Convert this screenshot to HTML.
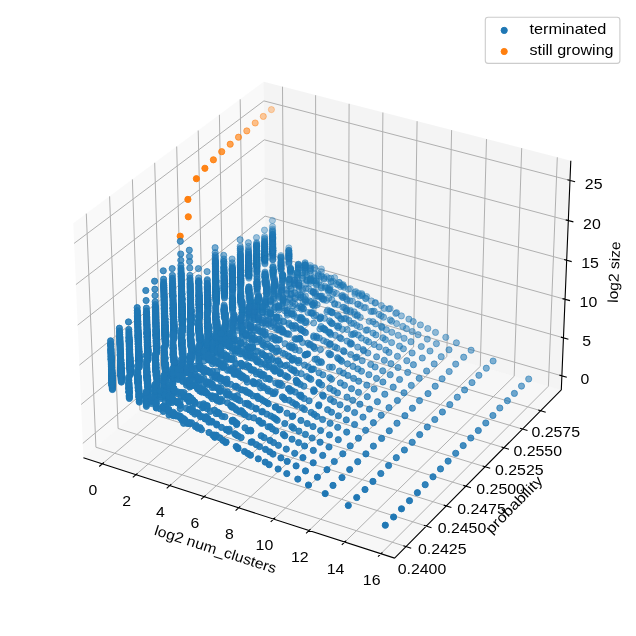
<!DOCTYPE html>
<html><head><meta charset="utf-8"><title>plot</title>
<style>html,body{margin:0;padding:0;background:#fff}svg{display:block}circle{r:3.1px}text{font-family:"Liberation Sans",sans-serif;font-size:14.4px;fill:#000}</style></head>
<body><svg width="636" height="636" viewBox="0 0 636 636">
<rect width="636" height="636" fill="#fff"/>
<polygon points="83.4,457.7 266.1,304.2 263.7,81.8 73.3,223.3" fill="#f4f4f4" fill-opacity=".5"/>
<polygon points="266.1,304.2 561.3,389.9 570.8,160.7 263.7,81.8" fill="#e9e9e9" fill-opacity=".5"/>
<polygon points="83.4,457.7 394.6,558.1 561.3,389.9 266.1,304.2" fill="#efefef" fill-opacity=".5"/>
<path d="M102.4 463.8L284.1 309.4L282.5 86.7M135.9 474.7L316 318.7L315.6 95.2M169.8 485.6L348.2 328L349.1 103.8M204.1 496.7L380.8 337.5L382.9 112.5M238.7 507.8L413.6 347L417.1 121.2M273.7 519.1L446.8 356.7L451.6 130.1M309 530.5L480.3 366.4L486.5 139.1M344.8 542.1L514.2 376.2L521.7 148.1M380.9 553.7L548.4 386.2L557.3 157.3M406 546.6L95.9 447.2L86.3 213.6M426.3 526.1L118.1 428.5L109.6 196.3M446.3 505.9L139.9 410.2L132.4 179.4M465.9 486.2L161.4 392.2L154.7 162.8M485.1 466.8L182.4 374.5L176.7 146.5M504 447.7L203.1 357.1L198.2 130.5M522.5 429.1L223.4 340L219.4 114.8M540.7 410.7L243.4 323.2L240.2 99.3M82.8 443.4L265.9 290.5L561.9 375.9M81.1 404.5L265.5 253.6L563.4 337.8M79.4 365.1L265.1 216.1L565 299.3M77.7 325.1L264.7 178.2L566.6 260.2M75.9 284.6L264.3 139.8L568.3 220.6M74.1 243.4L263.9 100.9L569.9 180.4" fill="none" stroke="#b0b0b0" stroke-width="1"/>
<path d="M83.4 457.7L394.6 558.1M394.6 558.1L561.3 389.9M561.3 389.9L570.8 160.7M103.9 462.5L99.2 466.5M137.5 473.3L132.8 477.4M171.3 484.2L166.7 488.3M205.6 495.3L201 499.4M240.2 506.4L235.6 510.6M275.2 517.7L270.7 521.9M310.5 529.1L306.1 533.4M346.2 540.6L341.8 544.9M382.4 552.3L378 556.6M403.4 545.8L411.2 548.3M423.8 525.2L431.5 527.7M443.7 505.1L451.4 507.5M463.3 485.4L471 487.7M482.6 466L490.2 468.3M501.5 447L509 449.3M520 428.3L527.5 430.5M538.2 410L545.7 412.2M559.4 375.1L566.8 377.3M560.9 337.1L568.4 339.2M562.5 298.6L570 300.6M564.1 259.5L571.7 261.6M565.7 219.9L573.4 221.9M567.4 179.7L575.1 181.7" fill="none" stroke="#000" stroke-width="1.11"/>
<g fill="#ff7f0e" stroke="#ff7f0e" stroke-width="1.0"><g fill-opacity=".32" stroke-opacity=".32"><circle cx="271.4" cy="109.6" r="3.1"/></g><g fill-opacity=".40" stroke-opacity=".40"><circle cx="263.3" cy="116.4" r="3.1"/></g><g fill-opacity=".48" stroke-opacity=".48"><circle cx="255.2" cy="123" r="3.1"/></g><g fill-opacity=".56" stroke-opacity=".56"><circle cx="246.8" cy="130.9" r="3.1"/></g><g fill-opacity=".64" stroke-opacity=".64"><circle cx="238.5" cy="137.2" r="3.1"/></g><g fill-opacity=".72" stroke-opacity=".72"><circle cx="230.2" cy="144.2" r="3.1"/></g><g fill-opacity=".80" stroke-opacity=".80"><circle cx="221.7" cy="151.7" r="3.1"/></g><g fill-opacity=".88" stroke-opacity=".88"><circle cx="213.4" cy="159.8" r="3.1"/></g><g fill-opacity=".96" stroke-opacity=".96"><circle cx="204.9" cy="168.3" r="3.1"/><circle cx="188.3" cy="216.8" r="3.1"/></g><g fill-opacity="1" stroke-opacity="1"><circle cx="180.2" cy="236.2" r="3.1"/><circle cx="196.4" cy="178.7" r="3.1"/><circle cx="187.9" cy="199.4" r="3.1"/></g></g>
<g fill="#1f77b4" stroke="#1f77b4" stroke-width="1.0"><g fill-opacity=".32" stroke-opacity=".32"><circle cx="272.8" cy="259.9" r="3.1"/><circle cx="272.8" cy="259.7" r="3.1"/><circle cx="272.8" cy="259.4" r="3.1"/><circle cx="272.8" cy="258.8" r="3.1"/><circle cx="272.8" cy="257.6" r="3.1"/><circle cx="272.8" cy="256.7" r="3.1"/><circle cx="272.8" cy="255.9" r="3.1"/><circle cx="272.8" cy="255.2" r="3.1"/><circle cx="272.8" cy="255" r="3.1"/><circle cx="272.8" cy="254.7" r="3.1"/><circle cx="272.7" cy="254.5" r="3.1"/><circle cx="272.7" cy="253.5" r="3.1"/><circle cx="272.7" cy="253.2" r="3.1"/><circle cx="272.7" cy="252.7" r="3.1"/><circle cx="272.7" cy="252.6" r="3.1"/><circle cx="272.7" cy="252.4" r="3.1"/><circle cx="272.7" cy="252" r="3.1"/><circle cx="272.7" cy="251.9" r="3.1"/><circle cx="272.7" cy="251.3" r="3.1"/><circle cx="272.7" cy="251.3" r="3.1"/><circle cx="272.7" cy="251.2" r="3.1"/><circle cx="272.7" cy="251" r="3.1"/><circle cx="272.7" cy="250.8" r="3.1"/><circle cx="272.7" cy="250.8" r="3.1"/><circle cx="272.7" cy="250.7" r="3.1"/><circle cx="272.7" cy="250.5" r="3.1"/><circle cx="272.7" cy="250.4" r="3.1"/><circle cx="272.7" cy="250.3" r="3.1"/><circle cx="272.7" cy="250.3" r="3.1"/><circle cx="272.7" cy="250.1" r="3.1"/><circle cx="272.7" cy="250" r="3.1"/><circle cx="272.7" cy="249.9" r="3.1"/><circle cx="272.7" cy="249.6" r="3.1"/><circle cx="272.7" cy="249.1" r="3.1"/><circle cx="272.7" cy="248.9" r="3.1"/><circle cx="272.7" cy="248.7" r="3.1"/><circle cx="272.7" cy="248.6" r="3.1"/><circle cx="272.7" cy="248.5" r="3.1"/><circle cx="272.7" cy="248.4" r="3.1"/><circle cx="272.7" cy="248" r="3.1"/><circle cx="272.7" cy="247.8" r="3.1"/><circle cx="272.7" cy="247.7" r="3.1"/><circle cx="272.7" cy="247.7" r="3.1"/><circle cx="272.7" cy="247.2" r="3.1"/><circle cx="272.7" cy="246.7" r="3.1"/><circle cx="288.9" cy="265.1" r="3.1"/><circle cx="272.7" cy="246.1" r="3.1"/><circle cx="272.7" cy="245.2" r="3.1"/><circle cx="272.7" cy="245" r="3.1"/><circle cx="288.9" cy="263.6" r="3.1"/><circle cx="272.7" cy="244.2" r="3.1"/><circle cx="272.7" cy="244" r="3.1"/><circle cx="272.7" cy="244" r="3.1"/><circle cx="272.6" cy="243.7" r="3.1"/><circle cx="288.9" cy="262.4" r="3.1"/><circle cx="288.9" cy="262.1" r="3.1"/><circle cx="288.9" cy="262" r="3.1"/><circle cx="272.6" cy="243.1" r="3.1"/><circle cx="272.6" cy="242.4" r="3.1"/><circle cx="272.6" cy="242.4" r="3.1"/><circle cx="288.9" cy="260.6" r="3.1"/><circle cx="272.6" cy="241.8" r="3.1"/><circle cx="272.6" cy="241.7" r="3.1"/><circle cx="272.6" cy="241" r="3.1"/><circle cx="272.6" cy="240.2" r="3.1"/><circle cx="288.9" cy="258.9" r="3.1"/><circle cx="288.9" cy="258.6" r="3.1"/><circle cx="288.9" cy="258.5" r="3.1"/><circle cx="288.9" cy="258.4" r="3.1"/><circle cx="298.4" cy="269.3" r="3.1"/><circle cx="272.6" cy="239.4" r="3.1"/><circle cx="288.9" cy="258.1" r="3.1"/><circle cx="272.6" cy="239.2" r="3.1"/><circle cx="272.6" cy="239" r="3.1"/><circle cx="272.6" cy="238.8" r="3.1"/><circle cx="298.4" cy="268.5" r="3.1"/><circle cx="272.6" cy="238.6" r="3.1"/><circle cx="298.4" cy="268.3" r="3.1"/><circle cx="272.6" cy="238.5" r="3.1"/><circle cx="288.9" cy="257.1" r="3.1"/><circle cx="272.6" cy="238.2" r="3.1"/><circle cx="288.9" cy="256.8" r="3.1"/><circle cx="298.4" cy="267.8" r="3.1"/><circle cx="288.9" cy="256.5" r="3.1"/><circle cx="272.6" cy="237.5" r="3.1"/><circle cx="298.4" cy="267.3" r="3.1"/><circle cx="288.9" cy="256.3" r="3.1"/><circle cx="272.6" cy="237.4" r="3.1"/><circle cx="272.6" cy="237.3" r="3.1"/><circle cx="264.9" cy="264" r="3.1"/><circle cx="288.9" cy="256" r="3.1"/><circle cx="272.6" cy="237.1" r="3.1"/><circle cx="272.6" cy="237" r="3.1"/><circle cx="272.6" cy="236.8" r="3.1"/><circle cx="264.9" cy="263.5" r="3.1"/><circle cx="288.9" cy="255.5" r="3.1"/><circle cx="298.4" cy="266.3" r="3.1"/><circle cx="288.9" cy="255" r="3.1"/><circle cx="272.6" cy="236.2" r="3.1"/></g><g fill-opacity=".36" stroke-opacity=".36"><circle cx="264.8" cy="262.7" r="3.1"/><circle cx="288.9" cy="254.7" r="3.1"/><circle cx="298.4" cy="265.5" r="3.1"/><circle cx="288.9" cy="254.3" r="3.1"/><circle cx="305.2" cy="272.7" r="3.1"/><circle cx="288.9" cy="253.9" r="3.1"/><circle cx="288.9" cy="253.8" r="3.1"/><circle cx="272.6" cy="234.9" r="3.1"/><circle cx="272.6" cy="234.8" r="3.1"/><circle cx="264.8" cy="261.6" r="3.1"/><circle cx="298.4" cy="264.5" r="3.1"/><circle cx="272.6" cy="234.6" r="3.1"/><circle cx="298.4" cy="264.4" r="3.1"/><circle cx="298.4" cy="264.3" r="3.1"/><circle cx="288.9" cy="253" r="3.1"/><circle cx="264.8" cy="260.7" r="3.1"/><circle cx="272.6" cy="233.8" r="3.1"/><circle cx="264.8" cy="260.4" r="3.1"/><circle cx="305.2" cy="271.2" r="3.1"/><circle cx="264.8" cy="260.1" r="3.1"/><circle cx="288.9" cy="252.1" r="3.1"/><circle cx="264.8" cy="260" r="3.1"/><circle cx="264.8" cy="259.9" r="3.1"/><circle cx="264.8" cy="259.8" r="3.1"/><circle cx="288.8" cy="251.7" r="3.1"/><circle cx="264.8" cy="259.5" r="3.1"/><circle cx="264.8" cy="259.4" r="3.1"/><circle cx="272.5" cy="232.3" r="3.1"/><circle cx="264.8" cy="259.1" r="3.1"/><circle cx="305.1" cy="269.9" r="3.1"/><circle cx="264.8" cy="259" r="3.1"/><circle cx="288.8" cy="250.7" r="3.1"/><circle cx="264.8" cy="258.7" r="3.1"/><circle cx="264.8" cy="258.5" r="3.1"/><circle cx="288.8" cy="250.5" r="3.1"/><circle cx="264.8" cy="258.4" r="3.1"/><circle cx="264.8" cy="258.1" r="3.1"/><circle cx="272.5" cy="231.3" r="3.1"/><circle cx="288.8" cy="250.2" r="3.1"/><circle cx="264.8" cy="258.1" r="3.1"/><circle cx="264.8" cy="258" r="3.1"/><circle cx="305.1" cy="268.4" r="3.1"/><circle cx="272.5" cy="230.5" r="3.1"/><circle cx="264.8" cy="257.3" r="3.1"/><circle cx="305.1" cy="268.1" r="3.1"/><circle cx="264.8" cy="257.2" r="3.1"/><circle cx="310.4" cy="274" r="3.1"/><circle cx="305.1" cy="267.8" r="3.1"/><circle cx="264.8" cy="256.8" r="3.1"/><circle cx="305.1" cy="267.6" r="3.1"/><circle cx="264.8" cy="256.8" r="3.1"/><circle cx="264.8" cy="256.4" r="3.1"/><circle cx="264.8" cy="256.3" r="3.1"/><circle cx="264.8" cy="255.9" r="3.1"/><circle cx="288.8" cy="247.9" r="3.1"/><circle cx="305.1" cy="266.7" r="3.1"/><circle cx="264.8" cy="255.9" r="3.1"/><circle cx="264.8" cy="255.8" r="3.1"/><circle cx="272.5" cy="229" r="3.1"/><circle cx="264.8" cy="255.6" r="3.1"/><circle cx="264.8" cy="255.5" r="3.1"/><circle cx="264.8" cy="255" r="3.1"/><circle cx="305.1" cy="265.5" r="3.1"/><circle cx="264.8" cy="254.7" r="3.1"/><circle cx="264.8" cy="254.6" r="3.1"/><circle cx="264.8" cy="254.4" r="3.1"/><circle cx="305.1" cy="265.3" r="3.1"/><circle cx="305.1" cy="265.2" r="3.1"/><circle cx="305.1" cy="265.1" r="3.1"/><circle cx="264.8" cy="254.2" r="3.1"/><circle cx="310.4" cy="271" r="3.1"/><circle cx="264.8" cy="254" r="3.1"/><circle cx="305.1" cy="264.9" r="3.1"/><circle cx="264.8" cy="253.9" r="3.1"/><circle cx="305.1" cy="264.7" r="3.1"/><circle cx="272.5" cy="226.6" r="3.1"/><circle cx="264.8" cy="253.4" r="3.1"/><circle cx="264.8" cy="253.4" r="3.1"/><circle cx="310.4" cy="270.2" r="3.1"/><circle cx="264.7" cy="253.3" r="3.1"/><circle cx="264.7" cy="253.2" r="3.1"/><circle cx="264.7" cy="253.1" r="3.1"/><circle cx="264.7" cy="253" r="3.1"/><circle cx="281.1" cy="271.7" r="3.1"/><circle cx="305.1" cy="263.3" r="3.1"/><circle cx="264.7" cy="252.4" r="3.1"/><circle cx="264.7" cy="252.4" r="3.1"/><circle cx="314.7" cy="273.9" r="3.1"/><circle cx="305.1" cy="262.7" r="3.1"/><circle cx="264.7" cy="251.8" r="3.1"/><circle cx="310.4" cy="268.7" r="3.1"/><circle cx="264.7" cy="251.7" r="3.1"/><circle cx="264.7" cy="251.5" r="3.1"/><circle cx="264.7" cy="251.5" r="3.1"/><circle cx="310.4" cy="268.3" r="3.1"/><circle cx="264.7" cy="250.8" r="3.1"/><circle cx="281" cy="269.5" r="3.1"/><circle cx="310.4" cy="267.5" r="3.1"/><circle cx="264.7" cy="250.3" r="3.1"/><circle cx="281" cy="269.2" r="3.1"/><circle cx="281" cy="268.8" r="3.1"/><circle cx="318.3" cy="276" r="3.1"/><circle cx="264.7" cy="249.6" r="3.1"/><circle cx="281" cy="268.4" r="3.1"/><circle cx="264.7" cy="249.4" r="3.1"/><circle cx="281" cy="268.2" r="3.1"/><circle cx="264.7" cy="249.2" r="3.1"/><circle cx="318.3" cy="275.1" r="3.1"/><circle cx="264.7" cy="248.7" r="3.1"/><circle cx="310.4" cy="265.5" r="3.1"/><circle cx="281" cy="267.2" r="3.1"/><circle cx="264.7" cy="248.3" r="3.1"/><circle cx="264.7" cy="248.2" r="3.1"/><circle cx="264.7" cy="248.1" r="3.1"/><circle cx="318.3" cy="273.8" r="3.1"/><circle cx="281" cy="266.4" r="3.1"/><circle cx="264.7" cy="247.3" r="3.1"/><circle cx="272.4" cy="220.5" r="3.1"/><circle cx="281" cy="266.1" r="3.1"/><circle cx="264.7" cy="247" r="3.1"/><circle cx="281" cy="265.7" r="3.1"/><circle cx="264.7" cy="246.8" r="3.1"/><circle cx="321.4" cy="276.5" r="3.1"/><circle cx="281" cy="265.5" r="3.1"/><circle cx="264.7" cy="246.6" r="3.1"/><circle cx="314.7" cy="268.5" r="3.1"/><circle cx="264.7" cy="246.3" r="3.1"/><circle cx="324.2" cy="279.1" r="3.1"/><circle cx="290.6" cy="275.9" r="3.1"/><circle cx="281" cy="264.9" r="3.1"/><circle cx="281" cy="264.8" r="3.1"/><circle cx="321.4" cy="275.6" r="3.1"/><circle cx="314.7" cy="267.7" r="3.1"/><circle cx="264.7" cy="245.7" r="3.1"/><circle cx="324.2" cy="278.6" r="3.1"/><circle cx="281" cy="263.8" r="3.1"/><circle cx="264.7" cy="244.9" r="3.1"/><circle cx="256.9" cy="271.7" r="3.1"/><circle cx="256.9" cy="271.6" r="3.1"/><circle cx="264.7" cy="244.6" r="3.1"/><circle cx="324.2" cy="277.5" r="3.1"/><circle cx="290.6" cy="274.4" r="3.1"/><circle cx="281" cy="263.2" r="3.1"/><circle cx="281" cy="263" r="3.1"/><circle cx="264.7" cy="244.2" r="3.1"/><circle cx="256.9" cy="271" r="3.1"/><circle cx="264.7" cy="244" r="3.1"/><circle cx="256.9" cy="270.3" r="3.1"/><circle cx="281" cy="262.2" r="3.1"/><circle cx="264.6" cy="243.2" r="3.1"/><circle cx="256.9" cy="269.8" r="3.1"/><circle cx="281" cy="261.7" r="3.1"/><circle cx="281" cy="261.6" r="3.1"/><circle cx="290.5" cy="272.6" r="3.1"/><circle cx="264.6" cy="242.6" r="3.1"/><circle cx="256.9" cy="269" r="3.1"/><circle cx="264.6" cy="242" r="3.1"/><circle cx="321.4" cy="271.7" r="3.1"/><circle cx="256.9" cy="268.8" r="3.1"/><circle cx="290.5" cy="271.7" r="3.1"/><circle cx="290.5" cy="271.6" r="3.1"/><circle cx="264.6" cy="241.6" r="3.1"/><circle cx="297.3" cy="279.3" r="3.1"/><circle cx="256.9" cy="268.1" r="3.1"/><circle cx="331" cy="281.8" r="3.1"/><circle cx="326.7" cy="276.7" r="3.1"/><circle cx="290.5" cy="270.7" r="3.1"/><circle cx="281" cy="259.6" r="3.1"/><circle cx="331" cy="281.5" r="3.1"/><circle cx="264.6" cy="240.6" r="3.1"/><circle cx="290.5" cy="270.3" r="3.1"/><circle cx="256.9" cy="267.1" r="3.1"/><circle cx="297.3" cy="277.8" r="3.1"/><circle cx="256.9" cy="266.9" r="3.1"/><circle cx="256.9" cy="266.8" r="3.1"/><circle cx="328.9" cy="278.4" r="3.1"/><circle cx="290.5" cy="269.8" r="3.1"/><circle cx="281" cy="258.5" r="3.1"/><circle cx="256.8" cy="266.5" r="3.1"/><circle cx="256.8" cy="266.2" r="3.1"/><circle cx="321.4" cy="269" r="3.1"/><circle cx="290.5" cy="269.2" r="3.1"/><circle cx="256.8" cy="266.1" r="3.1"/><circle cx="281" cy="258" r="3.1"/><circle cx="264.6" cy="239.1" r="3.1"/><circle cx="256.8" cy="265.9" r="3.1"/><circle cx="290.5" cy="269" r="3.1"/><circle cx="297.3" cy="276.6" r="3.1"/><circle cx="290.5" cy="268.7" r="3.1"/><circle cx="290.5" cy="268.6" r="3.1"/></g><g fill-opacity=".40" stroke-opacity=".40"><circle cx="256.8" cy="265.4" r="3.1"/><circle cx="256.8" cy="265.3" r="3.1"/><circle cx="264.6" cy="238.3" r="3.1"/><circle cx="332.9" cy="281.3" r="3.1"/><circle cx="281" cy="257.2" r="3.1"/><circle cx="290.5" cy="268.1" r="3.1"/><circle cx="256.8" cy="265.1" r="3.1"/><circle cx="280.9" cy="257" r="3.1"/><circle cx="256.8" cy="265" r="3.1"/><circle cx="256.8" cy="264.9" r="3.1"/><circle cx="256.8" cy="264.8" r="3.1"/><circle cx="331" cy="278.1" r="3.1"/><circle cx="256.8" cy="264.1" r="3.1"/><circle cx="297.3" cy="274.8" r="3.1"/><circle cx="256.8" cy="263.9" r="3.1"/><circle cx="336.3" cy="283.9" r="3.1"/><circle cx="256.8" cy="263.8" r="3.1"/><circle cx="256.8" cy="263.6" r="3.1"/><circle cx="280.9" cy="255.6" r="3.1"/><circle cx="264.6" cy="236.6" r="3.1"/><circle cx="256.8" cy="263.5" r="3.1"/><circle cx="297.3" cy="274.4" r="3.1"/><circle cx="256.8" cy="263.2" r="3.1"/><circle cx="337.8" cy="284.9" r="3.1"/><circle cx="256.8" cy="263" r="3.1"/><circle cx="256.8" cy="262.5" r="3.1"/><circle cx="297.3" cy="273.3" r="3.1"/><circle cx="256.8" cy="262.2" r="3.1"/><circle cx="256.8" cy="262" r="3.1"/><circle cx="256.8" cy="261.8" r="3.1"/><circle cx="340.6" cy="286.6" r="3.1"/><circle cx="297.3" cy="272.5" r="3.1"/><circle cx="297.3" cy="272.4" r="3.1"/><circle cx="302.6" cy="278.3" r="3.1"/><circle cx="297.3" cy="272.1" r="3.1"/><circle cx="256.8" cy="261.1" r="3.1"/><circle cx="256.8" cy="261" r="3.1"/><circle cx="302.6" cy="278" r="3.1"/><circle cx="256.8" cy="260.6" r="3.1"/><circle cx="256.8" cy="260.5" r="3.1"/><circle cx="256.8" cy="260.4" r="3.1"/><circle cx="256.8" cy="259.8" r="3.1"/><circle cx="334.6" cy="277.7" r="3.1"/><circle cx="256.8" cy="259.5" r="3.1"/><circle cx="256.8" cy="259.4" r="3.1"/><circle cx="273.1" cy="278.3" r="3.1"/><circle cx="339.2" cy="282.6" r="3.1"/><circle cx="256.8" cy="259.1" r="3.1"/><circle cx="256.8" cy="258.9" r="3.1"/><circle cx="339.2" cy="282.4" r="3.1"/><circle cx="306.9" cy="280.7" r="3.1"/><circle cx="256.8" cy="258.7" r="3.1"/><circle cx="341.9" cy="285.2" r="3.1"/><circle cx="256.8" cy="258.6" r="3.1"/><circle cx="302.5" cy="275.4" r="3.1"/><circle cx="306.9" cy="280.3" r="3.1"/><circle cx="343.1" cy="286.1" r="3.1"/><circle cx="344.2" cy="287.3" r="3.1"/><circle cx="256.7" cy="258.1" r="3.1"/><circle cx="273.1" cy="276.9" r="3.1"/><circle cx="306.9" cy="279.9" r="3.1"/><circle cx="256.7" cy="257.5" r="3.1"/><circle cx="256.7" cy="257.4" r="3.1"/><circle cx="256.7" cy="257.2" r="3.1"/><circle cx="256.7" cy="257.1" r="3.1"/><circle cx="310.5" cy="283.3" r="3.1"/><circle cx="264.5" cy="230.1" r="3.1"/><circle cx="256.7" cy="256.9" r="3.1"/><circle cx="343.1" cy="284.7" r="3.1"/><circle cx="256.7" cy="256.7" r="3.1"/><circle cx="273.1" cy="275.5" r="3.1"/><circle cx="256.7" cy="256.4" r="3.1"/><circle cx="302.5" cy="272.9" r="3.1"/><circle cx="273.1" cy="274.8" r="3.1"/><circle cx="273.1" cy="274.7" r="3.1"/><circle cx="256.7" cy="255.7" r="3.1"/><circle cx="302.5" cy="272.7" r="3.1"/><circle cx="256.7" cy="255.4" r="3.1"/><circle cx="348.4" cy="289.2" r="3.1"/><circle cx="256.7" cy="255" r="3.1"/><circle cx="273.1" cy="274" r="3.1"/><circle cx="310.5" cy="281.2" r="3.1"/><circle cx="306.8" cy="276.9" r="3.1"/><circle cx="256.7" cy="254.9" r="3.1"/><circle cx="256.7" cy="254.8" r="3.1"/><circle cx="310.5" cy="280.8" r="3.1"/><circle cx="256.7" cy="254.4" r="3.1"/><circle cx="256.7" cy="254.3" r="3.1"/><circle cx="273.1" cy="273.2" r="3.1"/><circle cx="273.1" cy="272.9" r="3.1"/><circle cx="310.5" cy="280" r="3.1"/><circle cx="256.7" cy="253.8" r="3.1"/><circle cx="273.1" cy="272.6" r="3.1"/><circle cx="256.7" cy="253.6" r="3.1"/><circle cx="273.1" cy="272.5" r="3.1"/><circle cx="310.5" cy="279.7" r="3.1"/><circle cx="256.7" cy="253.4" r="3.1"/><circle cx="273.1" cy="271.9" r="3.1"/><circle cx="310.5" cy="279" r="3.1"/><circle cx="306.8" cy="274.7" r="3.1"/><circle cx="273.1" cy="271.6" r="3.1"/><circle cx="350.2" cy="288.7" r="3.1"/><circle cx="354.9" cy="294.2" r="3.1"/><circle cx="282.7" cy="282.3" r="3.1"/><circle cx="310.5" cy="278.4" r="3.1"/><circle cx="316.4" cy="285.2" r="3.1"/><circle cx="273.1" cy="271.1" r="3.1"/><circle cx="273.1" cy="271" r="3.1"/><circle cx="256.7" cy="252" r="3.1"/><circle cx="273.1" cy="270.9" r="3.1"/><circle cx="256.7" cy="251.6" r="3.1"/><circle cx="273.1" cy="270.4" r="3.1"/><circle cx="273.1" cy="270.4" r="3.1"/><circle cx="256.7" cy="251.3" r="3.1"/><circle cx="273.1" cy="270.3" r="3.1"/><circle cx="256.7" cy="251.3" r="3.1"/><circle cx="316.4" cy="284.3" r="3.1"/><circle cx="248.9" cy="278.2" r="3.1"/><circle cx="273.1" cy="270.1" r="3.1"/><circle cx="282.7" cy="281" r="3.1"/><circle cx="313.6" cy="280.8" r="3.1"/><circle cx="354.9" cy="292.5" r="3.1"/><circle cx="273.1" cy="269.8" r="3.1"/><circle cx="256.7" cy="250.6" r="3.1"/><circle cx="256.7" cy="250.5" r="3.1"/><circle cx="273.1" cy="269.4" r="3.1"/><circle cx="256.7" cy="250.4" r="3.1"/><circle cx="313.6" cy="280.3" r="3.1"/><circle cx="248.9" cy="277.2" r="3.1"/><circle cx="316.4" cy="283.2" r="3.1"/><circle cx="282.6" cy="280.1" r="3.1"/><circle cx="321.2" cy="288.1" r="3.1"/><circle cx="282.6" cy="279.5" r="3.1"/><circle cx="248.9" cy="276.2" r="3.1"/><circle cx="355.7" cy="291.6" r="3.1"/><circle cx="256.6" cy="249.1" r="3.1"/><circle cx="359.5" cy="295.9" r="3.1"/><circle cx="248.9" cy="275.8" r="3.1"/><circle cx="321.2" cy="287.3" r="3.1"/><circle cx="282.6" cy="278.8" r="3.1"/><circle cx="248.9" cy="275.7" r="3.1"/><circle cx="273" cy="267.6" r="3.1"/><circle cx="248.9" cy="275.6" r="3.1"/><circle cx="256.6" cy="248.5" r="3.1"/><circle cx="273" cy="267.5" r="3.1"/><circle cx="248.8" cy="275.4" r="3.1"/><circle cx="273" cy="267.3" r="3.1"/><circle cx="248.8" cy="275.2" r="3.1"/><circle cx="289.4" cy="286" r="3.1"/><circle cx="248.8" cy="275" r="3.1"/><circle cx="282.6" cy="278" r="3.1"/><circle cx="248.8" cy="274.9" r="3.1"/><circle cx="313.6" cy="277.8" r="3.1"/><circle cx="316.4" cy="280.9" r="3.1"/><circle cx="248.8" cy="274.7" r="3.1"/><circle cx="248.8" cy="274.6" r="3.1"/><circle cx="358.3" cy="293.1" r="3.1"/><circle cx="316.4" cy="280.6" r="3.1"/><circle cx="273" cy="266.1" r="3.1"/><circle cx="256.6" cy="247.1" r="3.1"/><circle cx="248.8" cy="274.1" r="3.1"/><circle cx="248.8" cy="274" r="3.1"/><circle cx="248.8" cy="273.9" r="3.1"/><circle cx="256.6" cy="246.9" r="3.1"/><circle cx="256.6" cy="246.9" r="3.1"/><circle cx="321.2" cy="285.4" r="3.1"/><circle cx="248.8" cy="273.6" r="3.1"/><circle cx="256.6" cy="246.6" r="3.1"/><circle cx="282.6" cy="276.6" r="3.1"/><circle cx="248.8" cy="273.5" r="3.1"/><circle cx="256.6" cy="246.3" r="3.1"/><circle cx="282.6" cy="276.2" r="3.1"/><circle cx="282.6" cy="276" r="3.1"/><circle cx="318.9" cy="281.9" r="3.1"/><circle cx="289.4" cy="283.8" r="3.1"/><circle cx="256.6" cy="245.9" r="3.1"/><circle cx="282.6" cy="275.8" r="3.1"/><circle cx="248.8" cy="272.7" r="3.1"/><circle cx="362.3" cy="295.8" r="3.1"/><circle cx="248.8" cy="272.5" r="3.1"/><circle cx="282.6" cy="275.6" r="3.1"/><circle cx="282.6" cy="275.4" r="3.1"/><circle cx="256.6" cy="245.3" r="3.1"/><circle cx="361.8" cy="294.8" r="3.1"/><circle cx="248.8" cy="272.2" r="3.1"/><circle cx="289.4" cy="283.1" r="3.1"/><circle cx="248.8" cy="272.2" r="3.1"/><circle cx="256.6" cy="245.1" r="3.1"/><circle cx="282.6" cy="275.1" r="3.1"/><circle cx="248.8" cy="271.8" r="3.1"/><circle cx="325.1" cy="288" r="3.1"/><circle cx="256.6" cy="244.7" r="3.1"/><circle cx="282.6" cy="274.7" r="3.1"/><circle cx="328.5" cy="291.7" r="3.1"/><circle cx="365.7" cy="298.7" r="3.1"/><circle cx="248.8" cy="271.6" r="3.1"/><circle cx="282.6" cy="274.5" r="3.1"/><circle cx="248.8" cy="271.3" r="3.1"/><circle cx="248.8" cy="271.2" r="3.1"/><circle cx="361.8" cy="293.7" r="3.1"/><circle cx="365.7" cy="298.2" r="3.1"/><circle cx="289.4" cy="281.9" r="3.1"/><circle cx="248.8" cy="270.9" r="3.1"/><circle cx="248.8" cy="270.7" r="3.1"/><circle cx="256.6" cy="243.6" r="3.1"/><circle cx="248.8" cy="270.5" r="3.1"/><circle cx="328.5" cy="290.5" r="3.1"/><circle cx="248.8" cy="270.4" r="3.1"/><circle cx="248.8" cy="270.3" r="3.1"/><circle cx="325.1" cy="286.3" r="3.1"/><circle cx="248.8" cy="269.8" r="3.1"/><circle cx="256.6" cy="242.7" r="3.1"/><circle cx="328.5" cy="289.7" r="3.1"/><circle cx="326.9" cy="287.5" r="3.1"/><circle cx="248.8" cy="269.2" r="3.1"/><circle cx="248.8" cy="269.1" r="3.1"/><circle cx="289.4" cy="280" r="3.1"/><circle cx="248.8" cy="269" r="3.1"/><circle cx="248.8" cy="269" r="3.1"/><circle cx="289.4" cy="279.9" r="3.1"/><circle cx="332.8" cy="294" r="3.1"/><circle cx="289.4" cy="279.7" r="3.1"/><circle cx="248.8" cy="268.8" r="3.1"/><circle cx="248.8" cy="268.6" r="3.1"/><circle cx="330" cy="290.4" r="3.1"/><circle cx="248.8" cy="268.5" r="3.1"/><circle cx="366.7" cy="296.6" r="3.1"/><circle cx="248.8" cy="268.2" r="3.1"/><circle cx="248.8" cy="268.2" r="3.1"/><circle cx="248.8" cy="268.1" r="3.1"/><circle cx="328.5" cy="288.2" r="3.1"/><circle cx="289.4" cy="279" r="3.1"/><circle cx="248.7" cy="268" r="3.1"/></g><g fill-opacity=".44" stroke-opacity=".44"><circle cx="248.7" cy="268" r="3.1"/><circle cx="289.4" cy="278.9" r="3.1"/><circle cx="294.7" cy="284.8" r="3.1"/><circle cx="330" cy="289.6" r="3.1"/><circle cx="248.7" cy="267.3" r="3.1"/><circle cx="248.7" cy="267.2" r="3.1"/><circle cx="371.4" cy="300.9" r="3.1"/><circle cx="248.7" cy="267.1" r="3.1"/><circle cx="294.7" cy="284.1" r="3.1"/><circle cx="248.7" cy="267" r="3.1"/><circle cx="294.7" cy="283.9" r="3.1"/><circle cx="248.7" cy="266.8" r="3.1"/><circle cx="299" cy="288.7" r="3.1"/><circle cx="248.7" cy="266.5" r="3.1"/><circle cx="248.7" cy="266.3" r="3.1"/><circle cx="248.7" cy="266" r="3.1"/><circle cx="265.2" cy="284.9" r="3.1"/><circle cx="334.1" cy="292.4" r="3.1"/><circle cx="294.7" cy="282.8" r="3.1"/><circle cx="330" cy="287.5" r="3.1"/><circle cx="294.7" cy="282.6" r="3.1"/><circle cx="248.7" cy="265.5" r="3.1"/><circle cx="248.7" cy="265.3" r="3.1"/><circle cx="375.1" cy="303.1" r="3.1"/><circle cx="265.1" cy="283.9" r="3.1"/><circle cx="299" cy="286.8" r="3.1"/><circle cx="248.7" cy="264.7" r="3.1"/><circle cx="256.5" cy="237.6" r="3.1"/><circle cx="248.7" cy="264.4" r="3.1"/><circle cx="248.7" cy="264.3" r="3.1"/><circle cx="375.4" cy="302.6" r="3.1"/><circle cx="336.5" cy="293.4" r="3.1"/><circle cx="248.7" cy="264" r="3.1"/><circle cx="302.6" cy="290.2" r="3.1"/><circle cx="248.7" cy="263.7" r="3.1"/><circle cx="265.1" cy="282.7" r="3.1"/><circle cx="248.7" cy="263.7" r="3.1"/><circle cx="299" cy="285.7" r="3.1"/><circle cx="248.7" cy="263.6" r="3.1"/><circle cx="294.7" cy="280.6" r="3.1"/><circle cx="299" cy="285.5" r="3.1"/><circle cx="265.1" cy="282.4" r="3.1"/><circle cx="248.7" cy="263.3" r="3.1"/><circle cx="248.7" cy="263.3" r="3.1"/><circle cx="294.7" cy="280.2" r="3.1"/><circle cx="248.7" cy="263" r="3.1"/><circle cx="299" cy="285" r="3.1"/><circle cx="248.7" cy="262.9" r="3.1"/><circle cx="294.7" cy="279.9" r="3.1"/><circle cx="265.1" cy="281.7" r="3.1"/><circle cx="248.7" cy="262.7" r="3.1"/><circle cx="265.1" cy="281.6" r="3.1"/><circle cx="302.6" cy="288.8" r="3.1"/><circle cx="248.7" cy="262.4" r="3.1"/><circle cx="299" cy="284.5" r="3.1"/><circle cx="248.7" cy="262.4" r="3.1"/><circle cx="265.1" cy="281.3" r="3.1"/><circle cx="265.1" cy="281" r="3.1"/><circle cx="265.1" cy="280.6" r="3.1"/><circle cx="248.7" cy="261.4" r="3.1"/><circle cx="299" cy="283.3" r="3.1"/><circle cx="342.5" cy="297.4" r="3.1"/><circle cx="299" cy="283.2" r="3.1"/><circle cx="248.7" cy="261" r="3.1"/><circle cx="341.6" cy="296.1" r="3.1"/><circle cx="248.7" cy="260.9" r="3.1"/><circle cx="248.7" cy="260.8" r="3.1"/><circle cx="248.7" cy="260.7" r="3.1"/><circle cx="381.3" cy="305.5" r="3.1"/><circle cx="248.6" cy="260.2" r="3.1"/><circle cx="265.1" cy="279.1" r="3.1"/><circle cx="343.3" cy="297.3" r="3.1"/><circle cx="384.2" cy="308.4" r="3.1"/><circle cx="248.6" cy="259.9" r="3.1"/><circle cx="248.6" cy="259.8" r="3.1"/><circle cx="248.6" cy="259.4" r="3.1"/><circle cx="342.5" cy="295.4" r="3.1"/><circle cx="274.7" cy="289.2" r="3.1"/><circle cx="265.1" cy="278.1" r="3.1"/><circle cx="265.1" cy="277.8" r="3.1"/><circle cx="347.2" cy="300.4" r="3.1"/><circle cx="248.6" cy="258.6" r="3.1"/><circle cx="265.1" cy="277.5" r="3.1"/><circle cx="265.1" cy="277.4" r="3.1"/><circle cx="248.6" cy="258.4" r="3.1"/><circle cx="305.8" cy="288.3" r="3.1"/><circle cx="346.5" cy="299" r="3.1"/><circle cx="265.1" cy="277.1" r="3.1"/><circle cx="248.6" cy="258" r="3.1"/><circle cx="265.1" cy="277" r="3.1"/><circle cx="248.6" cy="258" r="3.1"/><circle cx="240.8" cy="285" r="3.1"/><circle cx="248.6" cy="257.9" r="3.1"/><circle cx="240.8" cy="284.8" r="3.1"/><circle cx="265.1" cy="276.7" r="3.1"/><circle cx="265.1" cy="276.6" r="3.1"/><circle cx="345" cy="296.8" r="3.1"/><circle cx="248.6" cy="257.6" r="3.1"/><circle cx="274.7" cy="287.6" r="3.1"/><circle cx="265.1" cy="276.4" r="3.1"/><circle cx="265.1" cy="276.3" r="3.1"/><circle cx="265.1" cy="276.1" r="3.1"/><circle cx="240.8" cy="284.1" r="3.1"/><circle cx="248.6" cy="256.8" r="3.1"/><circle cx="240.8" cy="283.7" r="3.1"/><circle cx="265.1" cy="275.6" r="3.1"/><circle cx="248.6" cy="256.4" r="3.1"/><circle cx="274.7" cy="286.5" r="3.1"/><circle cx="274.7" cy="286.3" r="3.1"/><circle cx="240.8" cy="283.2" r="3.1"/><circle cx="240.8" cy="282.9" r="3.1"/><circle cx="274.7" cy="286" r="3.1"/><circle cx="265" cy="274.9" r="3.1"/><circle cx="350" cy="300.8" r="3.1"/><circle cx="240.8" cy="282.8" r="3.1"/><circle cx="308.6" cy="288.9" r="3.1"/><circle cx="248.6" cy="255.7" r="3.1"/><circle cx="274.7" cy="285.7" r="3.1"/><circle cx="388.7" cy="308.9" r="3.1"/><circle cx="265" cy="274.3" r="3.1"/><circle cx="248.6" cy="255.3" r="3.1"/><circle cx="265" cy="274.2" r="3.1"/><circle cx="240.8" cy="282.2" r="3.1"/><circle cx="274.7" cy="285.3" r="3.1"/><circle cx="265" cy="274.1" r="3.1"/><circle cx="240.8" cy="282.1" r="3.1"/><circle cx="311.1" cy="291" r="3.1"/><circle cx="265" cy="273.9" r="3.1"/><circle cx="315.4" cy="296" r="3.1"/><circle cx="281.5" cy="292.7" r="3.1"/><circle cx="248.6" cy="254.6" r="3.1"/><circle cx="274.7" cy="284.7" r="3.1"/><circle cx="240.8" cy="281.6" r="3.1"/><circle cx="274.7" cy="284.6" r="3.1"/><circle cx="240.8" cy="281.1" r="3.1"/><circle cx="248.6" cy="254" r="3.1"/><circle cx="305.8" cy="283.9" r="3.1"/><circle cx="313.3" cy="292.6" r="3.1"/><circle cx="265" cy="272.8" r="3.1"/><circle cx="240.7" cy="280.8" r="3.1"/><circle cx="240.7" cy="280.7" r="3.1"/><circle cx="313.3" cy="292.3" r="3.1"/><circle cx="240.7" cy="280.6" r="3.1"/><circle cx="390.1" cy="308.6" r="3.1"/><circle cx="313.3" cy="292.1" r="3.1"/><circle cx="240.7" cy="280.4" r="3.1"/><circle cx="352.4" cy="301.1" r="3.1"/><circle cx="274.7" cy="283.4" r="3.1"/><circle cx="281.5" cy="291.3" r="3.1"/><circle cx="265" cy="272" r="3.1"/><circle cx="317.3" cy="296.2" r="3.1"/><circle cx="240.7" cy="279.9" r="3.1"/><circle cx="240.7" cy="279.8" r="3.1"/><circle cx="313.3" cy="291.3" r="3.1"/><circle cx="315.4" cy="293.6" r="3.1"/><circle cx="281.5" cy="290.5" r="3.1"/><circle cx="274.6" cy="282.5" r="3.1"/><circle cx="240.7" cy="279.3" r="3.1"/><circle cx="281.5" cy="290.1" r="3.1"/><circle cx="248.5" cy="252.1" r="3.1"/><circle cx="248.5" cy="252" r="3.1"/><circle cx="240.7" cy="279" r="3.1"/><circle cx="240.7" cy="279" r="3.1"/><circle cx="395.7" cy="313.4" r="3.1"/><circle cx="281.5" cy="289.8" r="3.1"/><circle cx="240.7" cy="278.8" r="3.1"/><circle cx="274.6" cy="281.8" r="3.1"/><circle cx="274.6" cy="281.7" r="3.1"/><circle cx="240.7" cy="278.5" r="3.1"/><circle cx="274.6" cy="281.6" r="3.1"/><circle cx="319.1" cy="296.5" r="3.1"/><circle cx="240.7" cy="278.1" r="3.1"/><circle cx="315.4" cy="292.1" r="3.1"/><circle cx="248.5" cy="250.7" r="3.1"/><circle cx="357.6" cy="304.3" r="3.1"/><circle cx="274.6" cy="280.6" r="3.1"/><circle cx="240.7" cy="277.4" r="3.1"/><circle cx="396.6" cy="312.7" r="3.1"/><circle cx="281.5" cy="288.1" r="3.1"/><circle cx="322.2" cy="298.9" r="3.1"/><circle cx="274.6" cy="280" r="3.1"/><circle cx="286.8" cy="293.9" r="3.1"/><circle cx="358.1" cy="304" r="3.1"/><circle cx="240.7" cy="276.7" r="3.1"/><circle cx="240.7" cy="276.5" r="3.1"/><circle cx="323.7" cy="299.9" r="3.1"/><circle cx="240.7" cy="276.3" r="3.1"/><circle cx="322.2" cy="298.2" r="3.1"/><circle cx="240.7" cy="276.2" r="3.1"/><circle cx="320.7" cy="296.4" r="3.1"/><circle cx="240.7" cy="276.2" r="3.1"/><circle cx="248.5" cy="249.1" r="3.1"/><circle cx="286.8" cy="293.2" r="3.1"/><circle cx="240.7" cy="276.1" r="3.1"/><circle cx="281.5" cy="286.9" r="3.1"/><circle cx="320.7" cy="296.1" r="3.1"/><circle cx="240.7" cy="275.9" r="3.1"/><circle cx="281.5" cy="286.8" r="3.1"/><circle cx="360.3" cy="305.6" r="3.1"/><circle cx="240.7" cy="275.7" r="3.1"/><circle cx="240.7" cy="275.5" r="3.1"/><circle cx="274.6" cy="278.6" r="3.1"/><circle cx="240.7" cy="275.5" r="3.1"/><circle cx="240.7" cy="275.4" r="3.1"/><circle cx="323.7" cy="299" r="3.1"/><circle cx="240.7" cy="275.2" r="3.1"/><circle cx="401.4" cy="315.9" r="3.1"/><circle cx="240.7" cy="274.7" r="3.1"/><circle cx="240.7" cy="274.6" r="3.1"/><circle cx="240.7" cy="274.5" r="3.1"/><circle cx="281.4" cy="285.1" r="3.1"/><circle cx="322.2" cy="296.1" r="3.1"/><circle cx="240.6" cy="274.1" r="3.1"/><circle cx="240.6" cy="274" r="3.1"/><circle cx="240.6" cy="273.8" r="3.1"/><circle cx="326.3" cy="300.4" r="3.1"/><circle cx="257.1" cy="292.7" r="3.1"/><circle cx="364.1" cy="307.7" r="3.1"/><circle cx="248.5" cy="246.4" r="3.1"/><circle cx="286.7" cy="290.4" r="3.1"/><circle cx="240.6" cy="273" r="3.1"/><circle cx="240.6" cy="272.9" r="3.1"/><circle cx="240.6" cy="272.8" r="3.1"/><circle cx="240.6" cy="272.7" r="3.1"/><circle cx="240.6" cy="272.6" r="3.1"/><circle cx="291.1" cy="294.7" r="3.1"/><circle cx="281.4" cy="283.6" r="3.1"/><circle cx="257.1" cy="291.6" r="3.1"/><circle cx="240.6" cy="272.4" r="3.1"/><circle cx="240.6" cy="272.3" r="3.1"/><circle cx="286.7" cy="289.3" r="3.1"/><circle cx="240.6" cy="272.2" r="3.1"/><circle cx="240.6" cy="272" r="3.1"/><circle cx="365.5" cy="307.6" r="3.1"/><circle cx="240.6" cy="271.8" r="3.1"/><circle cx="291.1" cy="293.9" r="3.1"/><circle cx="294.7" cy="297.9" r="3.1"/><circle cx="291.1" cy="293.7" r="3.1"/><circle cx="240.6" cy="271.3" r="3.1"/><circle cx="240.6" cy="271.1" r="3.1"/><circle cx="240.6" cy="270.9" r="3.1"/><circle cx="257.1" cy="290" r="3.1"/><circle cx="240.6" cy="270.6" r="3.1"/></g><g fill-opacity=".48" stroke-opacity=".48"><circle cx="240.6" cy="270" r="3.1"/><circle cx="240.6" cy="269.9" r="3.1"/><circle cx="257.1" cy="288.9" r="3.1"/><circle cx="248.4" cy="242.7" r="3.1"/><circle cx="240.6" cy="269.8" r="3.1"/><circle cx="240.6" cy="269.5" r="3.1"/><circle cx="257.1" cy="288.5" r="3.1"/><circle cx="408.9" cy="319.1" r="3.1"/><circle cx="370.9" cy="311.4" r="3.1"/><circle cx="257.1" cy="288.3" r="3.1"/><circle cx="240.6" cy="269.1" r="3.1"/><circle cx="328.7" cy="298.2" r="3.1"/><circle cx="240.6" cy="268.3" r="3.1"/><circle cx="240.6" cy="268.1" r="3.1"/><circle cx="240.6" cy="268.1" r="3.1"/><circle cx="334.7" cy="304.2" r="3.1"/><circle cx="240.6" cy="267.7" r="3.1"/><circle cx="257.1" cy="286.7" r="3.1"/><circle cx="257.1" cy="286.6" r="3.1"/><circle cx="372.5" cy="311.3" r="3.1"/><circle cx="240.5" cy="267.4" r="3.1"/><circle cx="257.1" cy="286.4" r="3.1"/><circle cx="240.5" cy="267.3" r="3.1"/><circle cx="334.7" cy="303.5" r="3.1"/><circle cx="257.1" cy="286.1" r="3.1"/><circle cx="257" cy="286" r="3.1"/><circle cx="240.5" cy="266.9" r="3.1"/><circle cx="294.7" cy="293.2" r="3.1"/><circle cx="413.2" cy="321.5" r="3.1"/><circle cx="291" cy="288.9" r="3.1"/><circle cx="331.9" cy="299.9" r="3.1"/><circle cx="291" cy="288.6" r="3.1"/><circle cx="240.5" cy="266.5" r="3.1"/><circle cx="240.5" cy="266.3" r="3.1"/><circle cx="240.5" cy="266.2" r="3.1"/><circle cx="294.7" cy="292.6" r="3.1"/><circle cx="266.7" cy="295.9" r="3.1"/><circle cx="303.2" cy="301.8" r="3.1"/><circle cx="240.5" cy="265.5" r="3.1"/><circle cx="240.5" cy="265.5" r="3.1"/><circle cx="374.2" cy="311.2" r="3.1"/><circle cx="240.5" cy="265.3" r="3.1"/><circle cx="257" cy="284.4" r="3.1"/><circle cx="257" cy="284.2" r="3.1"/><circle cx="297.9" cy="295" r="3.1"/><circle cx="240.5" cy="264.9" r="3.1"/><circle cx="257" cy="283.9" r="3.1"/><circle cx="257" cy="283.8" r="3.1"/><circle cx="240.5" cy="264.6" r="3.1"/><circle cx="338" cy="304.8" r="3.1"/><circle cx="257" cy="283.6" r="3.1"/><circle cx="300.7" cy="297.7" r="3.1"/><circle cx="240.5" cy="264.1" r="3.1"/><circle cx="266.7" cy="294.2" r="3.1"/><circle cx="300.7" cy="297" r="3.1"/><circle cx="257" cy="282.7" r="3.1"/><circle cx="266.7" cy="293.8" r="3.1"/><circle cx="232.7" cy="290.6" r="3.1"/><circle cx="266.7" cy="293.7" r="3.1"/><circle cx="257" cy="282.4" r="3.1"/><circle cx="305.5" cy="302.1" r="3.1"/><circle cx="378.9" cy="314.4" r="3.1"/><circle cx="266.7" cy="293.3" r="3.1"/><circle cx="240.5" cy="263.1" r="3.1"/><circle cx="257" cy="281.9" r="3.1"/><circle cx="240.5" cy="262.8" r="3.1"/><circle cx="257" cy="281.8" r="3.1"/><circle cx="232.6" cy="289.8" r="3.1"/><circle cx="232.6" cy="289.6" r="3.1"/><circle cx="257" cy="281.6" r="3.1"/><circle cx="232.6" cy="289.4" r="3.1"/><circle cx="300.7" cy="295.5" r="3.1"/><circle cx="240.5" cy="262.1" r="3.1"/><circle cx="420.4" cy="324.9" r="3.1"/><circle cx="381.2" cy="315.8" r="3.1"/><circle cx="232.6" cy="288.9" r="3.1"/><circle cx="240.5" cy="261.7" r="3.1"/><circle cx="305.5" cy="300.5" r="3.1"/><circle cx="266.6" cy="291.8" r="3.1"/><circle cx="342.8" cy="307.3" r="3.1"/><circle cx="300.7" cy="294.8" r="3.1"/><circle cx="232.6" cy="288.6" r="3.1"/><circle cx="273.5" cy="299.4" r="3.1"/><circle cx="240.5" cy="261.2" r="3.1"/><circle cx="346.3" cy="311.1" r="3.1"/><circle cx="232.6" cy="288.1" r="3.1"/><circle cx="307.5" cy="302.2" r="3.1"/><circle cx="303.2" cy="296.9" r="3.1"/><circle cx="305.5" cy="299.5" r="3.1"/><circle cx="232.6" cy="287.7" r="3.1"/><circle cx="383.6" cy="317.2" r="3.1"/><circle cx="266.6" cy="290.8" r="3.1"/><circle cx="240.4" cy="260.5" r="3.1"/><circle cx="232.6" cy="287.6" r="3.1"/><circle cx="257" cy="279.5" r="3.1"/><circle cx="232.6" cy="287.5" r="3.1"/><circle cx="232.6" cy="287.4" r="3.1"/><circle cx="344.1" cy="307.3" r="3.1"/><circle cx="266.6" cy="290.1" r="3.1"/><circle cx="232.6" cy="287" r="3.1"/><circle cx="240.4" cy="259.8" r="3.1"/><circle cx="346.9" cy="310.2" r="3.1"/><circle cx="266.6" cy="289.9" r="3.1"/><circle cx="266.6" cy="289.8" r="3.1"/><circle cx="273.5" cy="297.6" r="3.1"/><circle cx="257" cy="278.5" r="3.1"/><circle cx="345.8" cy="308.6" r="3.1"/><circle cx="240.4" cy="259.3" r="3.1"/><circle cx="232.6" cy="286.4" r="3.1"/><circle cx="232.6" cy="286.3" r="3.1"/><circle cx="240.4" cy="258.8" r="3.1"/><circle cx="266.6" cy="288.7" r="3.1"/><circle cx="232.6" cy="285.5" r="3.1"/><circle cx="232.6" cy="285.4" r="3.1"/><circle cx="273.5" cy="296.3" r="3.1"/><circle cx="232.6" cy="285.3" r="3.1"/><circle cx="232.6" cy="285.2" r="3.1"/><circle cx="240.4" cy="258" r="3.1"/><circle cx="312.8" cy="305.2" r="3.1"/><circle cx="232.6" cy="284.9" r="3.1"/><circle cx="266.6" cy="288" r="3.1"/><circle cx="232.6" cy="284.8" r="3.1"/><circle cx="232.6" cy="284.7" r="3.1"/><circle cx="266.6" cy="287.8" r="3.1"/><circle cx="232.6" cy="284.7" r="3.1"/><circle cx="312.8" cy="304.9" r="3.1"/><circle cx="309.4" cy="300.9" r="3.1"/><circle cx="266.6" cy="287.7" r="3.1"/><circle cx="232.6" cy="284.6" r="3.1"/><circle cx="256.9" cy="276.4" r="3.1"/><circle cx="350.3" cy="311.7" r="3.1"/><circle cx="232.6" cy="284.4" r="3.1"/><circle cx="240.4" cy="257.1" r="3.1"/><circle cx="232.6" cy="284.3" r="3.1"/><circle cx="305.4" cy="296" r="3.1"/><circle cx="427.8" cy="328.5" r="3.1"/><circle cx="266.6" cy="287" r="3.1"/><circle cx="314.4" cy="306" r="3.1"/><circle cx="232.5" cy="283.8" r="3.1"/><circle cx="312.8" cy="304" r="3.1"/><circle cx="232.5" cy="283.7" r="3.1"/><circle cx="232.5" cy="283.5" r="3.1"/><circle cx="256.9" cy="275.4" r="3.1"/><circle cx="240.4" cy="256.3" r="3.1"/><circle cx="232.5" cy="283.4" r="3.1"/><circle cx="232.5" cy="283.3" r="3.1"/><circle cx="311.2" cy="301.6" r="3.1"/><circle cx="232.5" cy="283.3" r="3.1"/><circle cx="273.5" cy="294.1" r="3.1"/><circle cx="350.3" cy="310.3" r="3.1"/><circle cx="232.5" cy="282.9" r="3.1"/><circle cx="390.2" cy="319.9" r="3.1"/><circle cx="240.4" cy="255.4" r="3.1"/><circle cx="232.5" cy="282.6" r="3.1"/><circle cx="391.6" cy="321.2" r="3.1"/><circle cx="273.4" cy="293.3" r="3.1"/><circle cx="232.5" cy="282.2" r="3.1"/><circle cx="266.6" cy="285.3" r="3.1"/><circle cx="256.9" cy="274" r="3.1"/><circle cx="354.9" cy="314.6" r="3.1"/><circle cx="232.5" cy="282" r="3.1"/><circle cx="232.5" cy="281.8" r="3.1"/><circle cx="240.4" cy="254.6" r="3.1"/><circle cx="249.1" cy="300.7" r="3.1"/><circle cx="232.5" cy="281.5" r="3.1"/><circle cx="314.4" cy="303.3" r="3.1"/><circle cx="232.5" cy="281.3" r="3.1"/><circle cx="240.4" cy="254.1" r="3.1"/><circle cx="232.5" cy="281.2" r="3.1"/><circle cx="266.6" cy="284.2" r="3.1"/><circle cx="232.5" cy="281.1" r="3.1"/><circle cx="232.5" cy="281.1" r="3.1"/><circle cx="232.5" cy="280.9" r="3.1"/><circle cx="283.1" cy="303.1" r="3.1"/><circle cx="232.5" cy="280.8" r="3.1"/><circle cx="273.4" cy="291.8" r="3.1"/><circle cx="314.4" cy="302.8" r="3.1"/><circle cx="357.1" cy="315.9" r="3.1"/><circle cx="232.5" cy="280.7" r="3.1"/><circle cx="232.5" cy="280.4" r="3.1"/><circle cx="266.6" cy="283.4" r="3.1"/><circle cx="278.8" cy="297.5" r="3.1"/><circle cx="232.5" cy="280.2" r="3.1"/><circle cx="354.2" cy="311.9" r="3.1"/><circle cx="232.5" cy="280.1" r="3.1"/><circle cx="232.5" cy="280.1" r="3.1"/><circle cx="232.5" cy="280" r="3.1"/><circle cx="256.9" cy="271.9" r="3.1"/><circle cx="232.5" cy="279.8" r="3.1"/><circle cx="232.5" cy="279.7" r="3.1"/><circle cx="232.5" cy="279.7" r="3.1"/><circle cx="283.1" cy="301.9" r="3.1"/><circle cx="232.5" cy="279.6" r="3.1"/><circle cx="240.3" cy="252.4" r="3.1"/><circle cx="273.4" cy="290.4" r="3.1"/><circle cx="317.2" cy="304.7" r="3.1"/><circle cx="273.4" cy="290.3" r="3.1"/><circle cx="357.5" cy="314.8" r="3.1"/><circle cx="249" cy="298.4" r="3.1"/><circle cx="435.5" cy="332.4" r="3.1"/><circle cx="278.7" cy="296.4" r="3.1"/><circle cx="266.5" cy="282.2" r="3.1"/><circle cx="396.6" cy="323.6" r="3.1"/><circle cx="283.1" cy="301.2" r="3.1"/><circle cx="232.5" cy="279" r="3.1"/><circle cx="232.5" cy="278.7" r="3.1"/><circle cx="232.5" cy="278.6" r="3.1"/><circle cx="360.3" cy="317.4" r="3.1"/><circle cx="283.1" cy="300.6" r="3.1"/><circle cx="232.5" cy="278.3" r="3.1"/><circle cx="278.7" cy="295.5" r="3.1"/><circle cx="240.3" cy="250.7" r="3.1"/><circle cx="283.1" cy="300" r="3.1"/><circle cx="273.4" cy="288.7" r="3.1"/><circle cx="232.4" cy="277.7" r="3.1"/><circle cx="283.1" cy="299.8" r="3.1"/><circle cx="266.5" cy="280.7" r="3.1"/><circle cx="249" cy="296.7" r="3.1"/><circle cx="283.1" cy="299.4" r="3.1"/><circle cx="278.7" cy="294.4" r="3.1"/><circle cx="283.1" cy="299.3" r="3.1"/><circle cx="273.4" cy="287.9" r="3.1"/><circle cx="232.4" cy="276.8" r="3.1"/><circle cx="232.4" cy="276.7" r="3.1"/><circle cx="249" cy="295.8" r="3.1"/><circle cx="278.7" cy="293.5" r="3.1"/><circle cx="240.3" cy="249.1" r="3.1"/><circle cx="283.1" cy="298.2" r="3.1"/><circle cx="232.4" cy="275.7" r="3.1"/><circle cx="240.3" cy="248.4" r="3.1"/><circle cx="286.8" cy="302.1" r="3.1"/><circle cx="232.4" cy="275.5" r="3.1"/><circle cx="326.9" cy="311.8" r="3.1"/><circle cx="283.1" cy="297.3" r="3.1"/><circle cx="402.8" cy="326.4" r="3.1"/><circle cx="232.4" cy="274.7" r="3.1"/><circle cx="232.4" cy="274.7" r="3.1"/><circle cx="273.4" cy="285.7" r="3.1"/><circle cx="232.4" cy="274.4" r="3.1"/><circle cx="249" cy="293.5" r="3.1"/><circle cx="249" cy="293.4" r="3.1"/><circle cx="289.9" cy="304.3" r="3.1"/><circle cx="232.4" cy="274.1" r="3.1"/><circle cx="232.4" cy="274" r="3.1"/><circle cx="232.4" cy="273.8" r="3.1"/><circle cx="232.4" cy="273.7" r="3.1"/><circle cx="248.9" cy="292.8" r="3.1"/><circle cx="240.2" cy="246.4" r="3.1"/><circle cx="232.4" cy="273.5" r="3.1"/><circle cx="248.9" cy="292.6" r="3.1"/><circle cx="232.4" cy="273.3" r="3.1"/><circle cx="406.4" cy="328.6" r="3.1"/><circle cx="232.4" cy="272.7" r="3.1"/><circle cx="292.7" cy="306.1" r="3.1"/><circle cx="327.7" cy="310.1" r="3.1"/><circle cx="445.8" cy="337.3" r="3.1"/><circle cx="258.6" cy="302.7" r="3.1"/><circle cx="248.9" cy="291.4" r="3.1"/><circle cx="369.2" cy="321.3" r="3.1"/><circle cx="232.4" cy="272" r="3.1"/><circle cx="248.9" cy="291.1" r="3.1"/></g><g fill-opacity=".52" stroke-opacity=".52"><circle cx="248.9" cy="290.8" r="3.1"/><circle cx="248.9" cy="290.7" r="3.1"/><circle cx="248.9" cy="290.6" r="3.1"/><circle cx="232.3" cy="271.5" r="3.1"/><circle cx="248.9" cy="290.5" r="3.1"/><circle cx="248.9" cy="290.5" r="3.1"/><circle cx="232.3" cy="271.2" r="3.1"/><circle cx="330.2" cy="311.2" r="3.1"/><circle cx="258.6" cy="301.1" r="3.1"/><circle cx="224.5" cy="298" r="3.1"/><circle cx="248.9" cy="289.8" r="3.1"/><circle cx="248.9" cy="289.7" r="3.1"/><circle cx="232.3" cy="270.5" r="3.1"/><circle cx="232.3" cy="270.5" r="3.1"/><circle cx="331.7" cy="312.4" r="3.1"/><circle cx="248.9" cy="289.2" r="3.1"/><circle cx="224.5" cy="297.3" r="3.1"/><circle cx="332.4" cy="312.9" r="3.1"/><circle cx="248.9" cy="289.2" r="3.1"/><circle cx="331.7" cy="312" r="3.1"/><circle cx="232.3" cy="269.8" r="3.1"/><circle cx="258.6" cy="300.1" r="3.1"/><circle cx="248.9" cy="288.8" r="3.1"/><circle cx="232.3" cy="269.7" r="3.1"/><circle cx="248.9" cy="288.8" r="3.1"/><circle cx="232.3" cy="269.6" r="3.1"/><circle cx="289.9" cy="299.7" r="3.1"/><circle cx="412.2" cy="331.5" r="3.1"/><circle cx="224.4" cy="296.2" r="3.1"/><circle cx="232.3" cy="269" r="3.1"/><circle cx="292.7" cy="302.4" r="3.1"/><circle cx="232.3" cy="268.9" r="3.1"/><circle cx="258.6" cy="299.2" r="3.1"/><circle cx="297.5" cy="307.8" r="3.1"/><circle cx="224.4" cy="295.6" r="3.1"/><circle cx="372.9" cy="321.7" r="3.1"/><circle cx="232.3" cy="268.3" r="3.1"/><circle cx="248.9" cy="287.4" r="3.1"/><circle cx="232.3" cy="268.1" r="3.1"/><circle cx="248.9" cy="287.2" r="3.1"/><circle cx="295.2" cy="304.3" r="3.1"/><circle cx="289.9" cy="298.1" r="3.1"/><circle cx="265.4" cy="306.2" r="3.1"/><circle cx="258.6" cy="298.2" r="3.1"/><circle cx="248.9" cy="286.8" r="3.1"/><circle cx="224.4" cy="294.8" r="3.1"/><circle cx="375.6" cy="323.9" r="3.1"/><circle cx="258.6" cy="297.8" r="3.1"/><circle cx="224.4" cy="294.4" r="3.1"/><circle cx="258.6" cy="297.5" r="3.1"/><circle cx="240.1" cy="239.7" r="3.1"/><circle cx="232.3" cy="266.9" r="3.1"/><circle cx="224.4" cy="294" r="3.1"/><circle cx="265.4" cy="305" r="3.1"/><circle cx="265.4" cy="304.8" r="3.1"/><circle cx="337.4" cy="315.2" r="3.1"/><circle cx="224.4" cy="293.6" r="3.1"/><circle cx="258.5" cy="296.7" r="3.1"/><circle cx="224.4" cy="293.5" r="3.1"/><circle cx="258.5" cy="296.5" r="3.1"/><circle cx="340.6" cy="318.5" r="3.1"/><circle cx="224.4" cy="293.3" r="3.1"/><circle cx="338.5" cy="316" r="3.1"/><circle cx="224.4" cy="293.2" r="3.1"/><circle cx="456.4" cy="342.8" r="3.1"/><circle cx="341.6" cy="319.3" r="3.1"/><circle cx="301.5" cy="309.2" r="3.1"/><circle cx="418.1" cy="334.7" r="3.1"/><circle cx="232.2" cy="265.5" r="3.1"/><circle cx="258.5" cy="295.7" r="3.1"/><circle cx="224.4" cy="292.6" r="3.1"/><circle cx="224.4" cy="292.5" r="3.1"/><circle cx="224.4" cy="292.4" r="3.1"/><circle cx="265.4" cy="303.3" r="3.1"/><circle cx="224.4" cy="292.2" r="3.1"/><circle cx="299.6" cy="306.2" r="3.1"/><circle cx="224.4" cy="292" r="3.1"/><circle cx="265.4" cy="302.9" r="3.1"/><circle cx="224.4" cy="291.8" r="3.1"/><circle cx="224.4" cy="291.7" r="3.1"/><circle cx="224.4" cy="291.5" r="3.1"/><circle cx="265.4" cy="302.4" r="3.1"/><circle cx="224.4" cy="291.2" r="3.1"/><circle cx="301.5" cy="307.4" r="3.1"/><circle cx="224.3" cy="291.1" r="3.1"/><circle cx="381.9" cy="327.5" r="3.1"/><circle cx="265.4" cy="301.9" r="3.1"/><circle cx="224.3" cy="290.9" r="3.1"/><circle cx="224.3" cy="290.8" r="3.1"/><circle cx="301.5" cy="307" r="3.1"/><circle cx="265.4" cy="301.6" r="3.1"/><circle cx="224.3" cy="290.5" r="3.1"/><circle cx="381.5" cy="326.4" r="3.1"/><circle cx="303.3" cy="308.7" r="3.1"/><circle cx="224.3" cy="290.1" r="3.1"/><circle cx="232.2" cy="262.8" r="3.1"/><circle cx="303.3" cy="308.4" r="3.1"/><circle cx="224.3" cy="289.9" r="3.1"/><circle cx="265.4" cy="300.7" r="3.1"/><circle cx="224.3" cy="289.6" r="3.1"/><circle cx="295.2" cy="298.8" r="3.1"/><circle cx="224.3" cy="289.6" r="3.1"/><circle cx="224.3" cy="289.5" r="3.1"/><circle cx="224.3" cy="289.2" r="3.1"/><circle cx="344.3" cy="318.6" r="3.1"/><circle cx="224.3" cy="289.1" r="3.1"/><circle cx="224.3" cy="288.9" r="3.1"/><circle cx="265.4" cy="299.9" r="3.1"/><circle cx="224.3" cy="288.8" r="3.1"/><circle cx="224.3" cy="288.7" r="3.1"/><circle cx="307.9" cy="312.5" r="3.1"/><circle cx="224.3" cy="288.6" r="3.1"/><circle cx="224.3" cy="288.5" r="3.1"/><circle cx="224.3" cy="288.4" r="3.1"/><circle cx="224.3" cy="288.3" r="3.1"/><circle cx="386.3" cy="329.7" r="3.1"/><circle cx="224.3" cy="288.1" r="3.1"/><circle cx="224.3" cy="288" r="3.1"/><circle cx="265.4" cy="299" r="3.1"/><circle cx="224.3" cy="287.7" r="3.1"/><circle cx="224.3" cy="287.6" r="3.1"/><circle cx="224.3" cy="287.5" r="3.1"/><circle cx="224.3" cy="287.5" r="3.1"/><circle cx="224.3" cy="287.4" r="3.1"/><circle cx="270.7" cy="304.6" r="3.1"/><circle cx="224.3" cy="287.2" r="3.1"/><circle cx="224.3" cy="287.2" r="3.1"/><circle cx="346" cy="318.6" r="3.1"/><circle cx="224.3" cy="286.9" r="3.1"/><circle cx="224.3" cy="286.8" r="3.1"/><circle cx="224.3" cy="286.6" r="3.1"/><circle cx="427.3" cy="339.1" r="3.1"/><circle cx="224.3" cy="286.5" r="3.1"/><circle cx="224.3" cy="286.4" r="3.1"/><circle cx="224.3" cy="286.3" r="3.1"/><circle cx="232.1" cy="259" r="3.1"/><circle cx="224.3" cy="286.1" r="3.1"/><circle cx="224.3" cy="286" r="3.1"/><circle cx="240.9" cy="305.1" r="3.1"/><circle cx="310.6" cy="312.7" r="3.1"/><circle cx="224.3" cy="285.7" r="3.1"/><circle cx="351.3" cy="323.3" r="3.1"/><circle cx="224.3" cy="285.5" r="3.1"/><circle cx="349" cy="320.4" r="3.1"/><circle cx="224.2" cy="285.4" r="3.1"/><circle cx="224.2" cy="285.3" r="3.1"/><circle cx="275.1" cy="307.4" r="3.1"/><circle cx="224.2" cy="285.1" r="3.1"/><circle cx="314.1" cy="316" r="3.1"/><circle cx="311.8" cy="313.4" r="3.1"/><circle cx="224.2" cy="285" r="3.1"/><circle cx="224.2" cy="284.8" r="3.1"/><circle cx="311.8" cy="312.8" r="3.1"/><circle cx="391.8" cy="332.3" r="3.1"/><circle cx="275.1" cy="306.6" r="3.1"/><circle cx="270.7" cy="301.5" r="3.1"/><circle cx="270.7" cy="301.2" r="3.1"/><circle cx="224.2" cy="283.8" r="3.1"/><circle cx="240.8" cy="302.9" r="3.1"/><circle cx="471.1" cy="350.2" r="3.1"/><circle cx="224.2" cy="283.6" r="3.1"/><circle cx="224.2" cy="283.3" r="3.1"/><circle cx="278.7" cy="309.8" r="3.1"/><circle cx="313" cy="312.8" r="3.1"/><circle cx="224.2" cy="283.1" r="3.1"/><circle cx="240.8" cy="302.3" r="3.1"/><circle cx="224.2" cy="283.1" r="3.1"/><circle cx="270.7" cy="300.3" r="3.1"/><circle cx="224.2" cy="283" r="3.1"/><circle cx="353.8" cy="323.4" r="3.1"/><circle cx="240.8" cy="301.6" r="3.1"/><circle cx="224.2" cy="282.4" r="3.1"/><circle cx="240.8" cy="301.5" r="3.1"/><circle cx="270.7" cy="299.5" r="3.1"/><circle cx="224.2" cy="282" r="3.1"/><circle cx="316.2" cy="315.2" r="3.1"/><circle cx="240.8" cy="300.9" r="3.1"/><circle cx="356.8" cy="325.5" r="3.1"/><circle cx="224.2" cy="281.6" r="3.1"/><circle cx="224.2" cy="281.5" r="3.1"/><circle cx="278.7" cy="308.1" r="3.1"/><circle cx="224.2" cy="281.3" r="3.1"/><circle cx="319.9" cy="318.8" r="3.1"/><circle cx="224.2" cy="281" r="3.1"/><circle cx="275" cy="303.2" r="3.1"/><circle cx="224.2" cy="280.9" r="3.1"/><circle cx="240.8" cy="300.1" r="3.1"/><circle cx="224.2" cy="280.8" r="3.1"/><circle cx="319.9" cy="318.4" r="3.1"/><circle cx="436.4" cy="343.7" r="3.1"/><circle cx="278.7" cy="307.3" r="3.1"/><circle cx="224.2" cy="280.4" r="3.1"/><circle cx="240.8" cy="299.4" r="3.1"/><circle cx="240.8" cy="299.3" r="3.1"/><circle cx="224.2" cy="280.1" r="3.1"/><circle cx="250.5" cy="310.5" r="3.1"/><circle cx="398.2" cy="335.3" r="3.1"/><circle cx="278.7" cy="306.6" r="3.1"/><circle cx="224.2" cy="280" r="3.1"/><circle cx="240.8" cy="299.1" r="3.1"/><circle cx="240.8" cy="298.9" r="3.1"/><circle cx="359.9" cy="327" r="3.1"/><circle cx="278.7" cy="306.1" r="3.1"/><circle cx="224.1" cy="279.2" r="3.1"/><circle cx="278.7" cy="305.6" r="3.1"/><circle cx="250.5" cy="309.5" r="3.1"/><circle cx="320.7" cy="317.6" r="3.1"/><circle cx="224.1" cy="278.7" r="3.1"/><circle cx="224.1" cy="278.6" r="3.1"/><circle cx="240.8" cy="297.8" r="3.1"/><circle cx="287.3" cy="315.1" r="3.1"/><circle cx="240.8" cy="297.6" r="3.1"/><circle cx="320.7" cy="316.9" r="3.1"/><circle cx="240.7" cy="297.2" r="3.1"/><circle cx="224.1" cy="277.8" r="3.1"/><circle cx="240.7" cy="296.7" r="3.1"/><circle cx="250.5" cy="307.9" r="3.1"/><circle cx="224.1" cy="277.5" r="3.1"/><circle cx="240.7" cy="296.6" r="3.1"/><circle cx="284.7" cy="310.8" r="3.1"/><circle cx="224.1" cy="277.2" r="3.1"/><circle cx="240.7" cy="296.3" r="3.1"/><circle cx="287.2" cy="313.4" r="3.1"/><circle cx="240.7" cy="296.1" r="3.1"/><circle cx="240.7" cy="296" r="3.1"/><circle cx="216.2" cy="304.1" r="3.1"/><circle cx="224.1" cy="276.7" r="3.1"/><circle cx="240.7" cy="295.7" r="3.1"/><circle cx="250.5" cy="306.9" r="3.1"/><circle cx="404.1" cy="338.3" r="3.1"/><circle cx="224.1" cy="276.2" r="3.1"/><circle cx="287.2" cy="312.7" r="3.1"/><circle cx="240.7" cy="295.4" r="3.1"/><circle cx="216.2" cy="303.4" r="3.1"/><circle cx="250.5" cy="306.4" r="3.1"/><circle cx="216.2" cy="303.3" r="3.1"/><circle cx="224.1" cy="275.9" r="3.1"/><circle cx="281.9" cy="306.1" r="3.1"/><circle cx="366" cy="330.3" r="3.1"/><circle cx="240.7" cy="295" r="3.1"/><circle cx="224.1" cy="275.7" r="3.1"/><circle cx="250.4" cy="306.1" r="3.1"/><circle cx="240.7" cy="294.8" r="3.1"/><circle cx="250.4" cy="306" r="3.1"/><circle cx="250.4" cy="305.8" r="3.1"/><circle cx="216.2" cy="302.7" r="3.1"/><circle cx="324.5" cy="318.3" r="3.1"/><circle cx="250.4" cy="305.4" r="3.1"/><circle cx="224.1" cy="274.6" r="3.1"/><circle cx="284.7" cy="308.2" r="3.1"/><circle cx="257.3" cy="313" r="3.1"/><circle cx="250.4" cy="305" r="3.1"/><circle cx="287.2" cy="310.7" r="3.1"/><circle cx="216.2" cy="301.5" r="3.1"/><circle cx="240.7" cy="293.1" r="3.1"/><circle cx="216.2" cy="301.2" r="3.1"/><circle cx="287.2" cy="310.3" r="3.1"/><circle cx="367.4" cy="329.9" r="3.1"/><circle cx="250.4" cy="304.2" r="3.1"/><circle cx="240.7" cy="292.9" r="3.1"/><circle cx="216.1" cy="301" r="3.1"/><circle cx="224" cy="273.6" r="3.1"/><circle cx="250.4" cy="304.1" r="3.1"/><circle cx="216.1" cy="300.9" r="3.1"/><circle cx="216.1" cy="300.8" r="3.1"/><circle cx="224" cy="273" r="3.1"/><circle cx="257.3" cy="311.5" r="3.1"/></g><g fill-opacity=".56" stroke-opacity=".56"><circle cx="224" cy="272.9" r="3.1"/><circle cx="216.1" cy="300.2" r="3.1"/><circle cx="224" cy="272.8" r="3.1"/><circle cx="224" cy="272.8" r="3.1"/><circle cx="216.1" cy="300" r="3.1"/><circle cx="291.6" cy="314.2" r="3.1"/><circle cx="216.1" cy="299.8" r="3.1"/><circle cx="449" cy="349.8" r="3.1"/><circle cx="250.4" cy="302.8" r="3.1"/><circle cx="240.7" cy="291.4" r="3.1"/><circle cx="330.7" cy="322.4" r="3.1"/><circle cx="291.6" cy="313.7" r="3.1"/><circle cx="216.1" cy="299.5" r="3.1"/><circle cx="331.8" cy="323.6" r="3.1"/><circle cx="224" cy="272.1" r="3.1"/><circle cx="250.4" cy="302.5" r="3.1"/><circle cx="257.3" cy="310.4" r="3.1"/><circle cx="329.6" cy="320.9" r="3.1"/><circle cx="410.9" cy="341.7" r="3.1"/><circle cx="216.1" cy="299.2" r="3.1"/><circle cx="293.5" cy="315.5" r="3.1"/><circle cx="216.1" cy="299" r="3.1"/><circle cx="216.1" cy="298.9" r="3.1"/><circle cx="224" cy="271.5" r="3.1"/><circle cx="257.3" cy="309.9" r="3.1"/><circle cx="332.3" cy="323.3" r="3.1"/><circle cx="216.1" cy="298.3" r="3.1"/><circle cx="250.4" cy="301.4" r="3.1"/><circle cx="216.1" cy="298.2" r="3.1"/><circle cx="250.4" cy="301.3" r="3.1"/><circle cx="216.1" cy="298.2" r="3.1"/><circle cx="240.6" cy="289.9" r="3.1"/><circle cx="216.1" cy="298" r="3.1"/><circle cx="250.4" cy="301.1" r="3.1"/><circle cx="216.1" cy="297.9" r="3.1"/><circle cx="373" cy="333.1" r="3.1"/><circle cx="224" cy="270.5" r="3.1"/><circle cx="257.3" cy="308.7" r="3.1"/><circle cx="216.1" cy="297.5" r="3.1"/><circle cx="224" cy="270.1" r="3.1"/><circle cx="293.5" cy="313.8" r="3.1"/><circle cx="216.1" cy="297.3" r="3.1"/><circle cx="296.9" cy="317.6" r="3.1"/><circle cx="250.4" cy="300.3" r="3.1"/><circle cx="216.1" cy="297.2" r="3.1"/><circle cx="291.6" cy="311.2" r="3.1"/><circle cx="224" cy="269.6" r="3.1"/><circle cx="216.1" cy="296.8" r="3.1"/><circle cx="216.1" cy="296.7" r="3.1"/><circle cx="493.1" cy="361" r="3.1"/><circle cx="216.1" cy="296.6" r="3.1"/><circle cx="240.6" cy="288.3" r="3.1"/><circle cx="216.1" cy="296.3" r="3.1"/><circle cx="375.9" cy="334.9" r="3.1"/><circle cx="216.1" cy="296.2" r="3.1"/><circle cx="336.9" cy="326" r="3.1"/><circle cx="338.2" cy="327.5" r="3.1"/><circle cx="216.1" cy="296" r="3.1"/><circle cx="299.9" cy="319.7" r="3.1"/><circle cx="216" cy="295.8" r="3.1"/><circle cx="216" cy="295.8" r="3.1"/><circle cx="257.3" cy="306.8" r="3.1"/><circle cx="223.9" cy="268.3" r="3.1"/><circle cx="216" cy="295.7" r="3.1"/><circle cx="250.4" cy="298.8" r="3.1"/><circle cx="257.3" cy="306.7" r="3.1"/><circle cx="223.9" cy="267.9" r="3.1"/><circle cx="216" cy="295.1" r="3.1"/><circle cx="262.6" cy="312.4" r="3.1"/><circle cx="301.3" cy="320.4" r="3.1"/><circle cx="216" cy="294.9" r="3.1"/><circle cx="262.6" cy="312.2" r="3.1"/><circle cx="240.6" cy="286.7" r="3.1"/><circle cx="216" cy="294.8" r="3.1"/><circle cx="216" cy="294.6" r="3.1"/><circle cx="223.9" cy="267.2" r="3.1"/><circle cx="216" cy="294.6" r="3.1"/><circle cx="262.6" cy="311.8" r="3.1"/><circle cx="216" cy="294.5" r="3.1"/><circle cx="216" cy="294.2" r="3.1"/><circle cx="223.9" cy="266.8" r="3.1"/><circle cx="250.3" cy="297.3" r="3.1"/><circle cx="338.6" cy="326" r="3.1"/><circle cx="216" cy="294" r="3.1"/><circle cx="257.2" cy="305" r="3.1"/><circle cx="216" cy="293.8" r="3.1"/><circle cx="299.9" cy="317.6" r="3.1"/><circle cx="216" cy="293.7" r="3.1"/><circle cx="216" cy="293.5" r="3.1"/><circle cx="240.6" cy="285.3" r="3.1"/><circle cx="216" cy="293.4" r="3.1"/><circle cx="216" cy="293.4" r="3.1"/><circle cx="216" cy="293.2" r="3.1"/><circle cx="216" cy="293.2" r="3.1"/><circle cx="216" cy="293" r="3.1"/><circle cx="301.3" cy="318.3" r="3.1"/><circle cx="216" cy="292.8" r="3.1"/><circle cx="305" cy="322.6" r="3.1"/><circle cx="257.2" cy="303.8" r="3.1"/><circle cx="232.7" cy="312" r="3.1"/><circle cx="342.5" cy="329.3" r="3.1"/><circle cx="250.3" cy="295.7" r="3.1"/><circle cx="216" cy="292.6" r="3.1"/><circle cx="262.6" cy="309.8" r="3.1"/><circle cx="267" cy="314.7" r="3.1"/><circle cx="223.9" cy="264.7" r="3.1"/><circle cx="216" cy="292" r="3.1"/><circle cx="302.6" cy="319" r="3.1"/><circle cx="216" cy="292" r="3.1"/><circle cx="421.3" cy="346.5" r="3.1"/><circle cx="216" cy="291.9" r="3.1"/><circle cx="301.3" cy="317.3" r="3.1"/><circle cx="216" cy="291.8" r="3.1"/><circle cx="216" cy="291.7" r="3.1"/><circle cx="216" cy="291.6" r="3.1"/><circle cx="306.1" cy="322.5" r="3.1"/><circle cx="216" cy="291.5" r="3.1"/><circle cx="382.9" cy="337.8" r="3.1"/><circle cx="250.3" cy="294.2" r="3.1"/><circle cx="232.6" cy="310.3" r="3.1"/><circle cx="216" cy="291" r="3.1"/><circle cx="262.6" cy="308.1" r="3.1"/><circle cx="216" cy="290.8" r="3.1"/><circle cx="257.2" cy="301.8" r="3.1"/><circle cx="223.9" cy="263.3" r="3.1"/><circle cx="215.9" cy="290.3" r="3.1"/><circle cx="463.7" cy="357.2" r="3.1"/><circle cx="270.7" cy="316.8" r="3.1"/><circle cx="267" cy="312.5" r="3.1"/><circle cx="215.9" cy="290.2" r="3.1"/><circle cx="262.6" cy="307.5" r="3.1"/><circle cx="306.1" cy="321.2" r="3.1"/><circle cx="385.4" cy="339.6" r="3.1"/><circle cx="215.9" cy="289.9" r="3.1"/><circle cx="257.2" cy="300.8" r="3.1"/><circle cx="262.6" cy="306.9" r="3.1"/><circle cx="266.9" cy="311.9" r="3.1"/><circle cx="232.6" cy="308.7" r="3.1"/><circle cx="215.9" cy="289.5" r="3.1"/><circle cx="262.6" cy="306.7" r="3.1"/><circle cx="215.9" cy="289.4" r="3.1"/><circle cx="215.9" cy="289.4" r="3.1"/><circle cx="215.9" cy="289.4" r="3.1"/><circle cx="232.6" cy="308.3" r="3.1"/><circle cx="223.8" cy="261.6" r="3.1"/><circle cx="215.9" cy="288.9" r="3.1"/><circle cx="262.6" cy="306.2" r="3.1"/><circle cx="215.9" cy="288.9" r="3.1"/><circle cx="215.9" cy="288.8" r="3.1"/><circle cx="215.9" cy="288.7" r="3.1"/><circle cx="223.8" cy="261.3" r="3.1"/><circle cx="215.9" cy="288.7" r="3.1"/><circle cx="215.9" cy="288.6" r="3.1"/><circle cx="232.6" cy="307.8" r="3.1"/><circle cx="215.9" cy="288.5" r="3.1"/><circle cx="232.6" cy="307.7" r="3.1"/><circle cx="215.9" cy="288.4" r="3.1"/><circle cx="232.6" cy="307.6" r="3.1"/><circle cx="215.9" cy="288.2" r="3.1"/><circle cx="257.2" cy="299.2" r="3.1"/><circle cx="232.6" cy="307.2" r="3.1"/><circle cx="215.9" cy="287.7" r="3.1"/><circle cx="347.1" cy="329.5" r="3.1"/><circle cx="351.4" cy="334.5" r="3.1"/><circle cx="215.9" cy="287.4" r="3.1"/><circle cx="270.6" cy="314" r="3.1"/><circle cx="232.6" cy="306.6" r="3.1"/><circle cx="215.9" cy="287.3" r="3.1"/><circle cx="273.8" cy="317.5" r="3.1"/><circle cx="232.6" cy="306.1" r="3.1"/><circle cx="270.6" cy="313.4" r="3.1"/><circle cx="215.9" cy="286.7" r="3.1"/><circle cx="270.6" cy="313.3" r="3.1"/><circle cx="430" cy="351" r="3.1"/><circle cx="215.9" cy="286.5" r="3.1"/><circle cx="215.9" cy="286.5" r="3.1"/><circle cx="270.6" cy="313.1" r="3.1"/><circle cx="223.8" cy="259" r="3.1"/><circle cx="215.9" cy="286.1" r="3.1"/><circle cx="266.9" cy="308.4" r="3.1"/><circle cx="391.6" cy="342.6" r="3.1"/><circle cx="270.6" cy="312.5" r="3.1"/><circle cx="242.3" cy="316.3" r="3.1"/><circle cx="276.7" cy="319.3" r="3.1"/><circle cx="215.9" cy="285.6" r="3.1"/><circle cx="353.2" cy="334.3" r="3.1"/><circle cx="232.5" cy="304.5" r="3.1"/><circle cx="276.7" cy="318.8" r="3.1"/><circle cx="215.8" cy="285.2" r="3.1"/><circle cx="232.5" cy="304.4" r="3.1"/><circle cx="232.5" cy="304.2" r="3.1"/><circle cx="207.9" cy="312.2" r="3.1"/><circle cx="215.8" cy="284.7" r="3.1"/><circle cx="242.3" cy="315.1" r="3.1"/><circle cx="279.2" cy="321.1" r="3.1"/><circle cx="270.6" cy="311.1" r="3.1"/><circle cx="207.9" cy="311.7" r="3.1"/><circle cx="276.7" cy="317.9" r="3.1"/><circle cx="215.8" cy="284.2" r="3.1"/><circle cx="232.5" cy="303.4" r="3.1"/><circle cx="276.7" cy="317.7" r="3.1"/><circle cx="232.5" cy="303.3" r="3.1"/><circle cx="232.5" cy="302.9" r="3.1"/><circle cx="276.7" cy="317.3" r="3.1"/><circle cx="207.9" cy="311" r="3.1"/><circle cx="276.6" cy="317.1" r="3.1"/><circle cx="232.5" cy="302.6" r="3.1"/><circle cx="313.6" cy="323" r="3.1"/><circle cx="215.8" cy="283.2" r="3.1"/><circle cx="232.5" cy="302.5" r="3.1"/><circle cx="215.8" cy="283.1" r="3.1"/><circle cx="276.6" cy="316.7" r="3.1"/><circle cx="207.9" cy="310.4" r="3.1"/><circle cx="232.5" cy="302.2" r="3.1"/><circle cx="232.5" cy="302.1" r="3.1"/><circle cx="354.7" cy="333.4" r="3.1"/><circle cx="223.7" cy="255.3" r="3.1"/><circle cx="215.8" cy="282.6" r="3.1"/><circle cx="207.9" cy="310" r="3.1"/><circle cx="215.8" cy="282.5" r="3.1"/><circle cx="232.5" cy="301.8" r="3.1"/><circle cx="242.3" cy="313" r="3.1"/><circle cx="242.3" cy="312.8" r="3.1"/><circle cx="215.8" cy="282.2" r="3.1"/><circle cx="242.3" cy="312.7" r="3.1"/><circle cx="215.8" cy="282" r="3.1"/><circle cx="232.5" cy="301.3" r="3.1"/><circle cx="242.2" cy="312.5" r="3.1"/><circle cx="319.9" cy="328.9" r="3.1"/><circle cx="207.9" cy="309" r="3.1"/><circle cx="215.8" cy="281.5" r="3.1"/><circle cx="232.5" cy="300.7" r="3.1"/><circle cx="242.2" cy="311.9" r="3.1"/><circle cx="215.8" cy="281.4" r="3.1"/><circle cx="249.2" cy="319.9" r="3.1"/><circle cx="279.2" cy="317.6" r="3.1"/><circle cx="215.8" cy="281" r="3.1"/><circle cx="215.8" cy="280.9" r="3.1"/><circle cx="232.5" cy="300.1" r="3.1"/><circle cx="207.8" cy="308.3" r="3.1"/><circle cx="232.5" cy="299.9" r="3.1"/><circle cx="207.8" cy="308.1" r="3.1"/><circle cx="215.8" cy="280.6" r="3.1"/><circle cx="215.8" cy="280.5" r="3.1"/><circle cx="215.8" cy="280.5" r="3.1"/><circle cx="207.8" cy="308" r="3.1"/><circle cx="399.5" cy="346.1" r="3.1"/><circle cx="358.3" cy="335.1" r="3.1"/><circle cx="215.7" cy="280.2" r="3.1"/><circle cx="283.6" cy="321.8" r="3.1"/><circle cx="207.8" cy="307.3" r="3.1"/><circle cx="361.4" cy="338.1" r="3.1"/><circle cx="249.1" cy="318.3" r="3.1"/><circle cx="232.4" cy="298.8" r="3.1"/><circle cx="232.4" cy="298.8" r="3.1"/><circle cx="273.8" cy="309.9" r="3.1"/><circle cx="215.7" cy="279.4" r="3.1"/><circle cx="441.2" cy="356.7" r="3.1"/><circle cx="283.5" cy="321.1" r="3.1"/><circle cx="242.2" cy="309.9" r="3.1"/><circle cx="232.4" cy="298.6" r="3.1"/><circle cx="215.7" cy="279.3" r="3.1"/><circle cx="242.2" cy="309.8" r="3.1"/><circle cx="207.8" cy="306.6" r="3.1"/><circle cx="242.2" cy="309.7" r="3.1"/><circle cx="232.4" cy="298.4" r="3.1"/><circle cx="207.8" cy="306.3" r="3.1"/><circle cx="207.8" cy="306.1" r="3.1"/><circle cx="403.4" cy="348.8" r="3.1"/><circle cx="215.7" cy="278.5" r="3.1"/><circle cx="242.2" cy="309.1" r="3.1"/><circle cx="215.7" cy="278.2" r="3.1"/><circle cx="249.1" cy="316.8" r="3.1"/><circle cx="207.8" cy="305.6" r="3.1"/><circle cx="322.8" cy="328.5" r="3.1"/><circle cx="321.1" cy="326.5" r="3.1"/><circle cx="207.8" cy="305.5" r="3.1"/><circle cx="207.8" cy="305.4" r="3.1"/><circle cx="242.2" cy="308.3" r="3.1"/><circle cx="207.8" cy="305.1" r="3.1"/><circle cx="232.4" cy="297" r="3.1"/><circle cx="207.8" cy="305.1" r="3.1"/><circle cx="215.7" cy="277.5" r="3.1"/><circle cx="242.2" cy="307.6" r="3.1"/><circle cx="215.7" cy="276.9" r="3.1"/><circle cx="207.8" cy="304.3" r="3.1"/><circle cx="323.9" cy="328.4" r="3.1"/><circle cx="207.8" cy="304.2" r="3.1"/><circle cx="249.1" cy="315.3" r="3.1"/><circle cx="324.9" cy="329.5" r="3.1"/><circle cx="325.4" cy="330.1" r="3.1"/><circle cx="207.8" cy="304.1" r="3.1"/><circle cx="288.9" cy="324.5" r="3.1"/><circle cx="366.1" cy="340.3" r="3.1"/><circle cx="207.7" cy="303.9" r="3.1"/><circle cx="207.7" cy="303.9" r="3.1"/><circle cx="207.7" cy="303.8" r="3.1"/><circle cx="215.7" cy="276.3" r="3.1"/><circle cx="242.2" cy="306.7" r="3.1"/><circle cx="207.7" cy="303.4" r="3.1"/><circle cx="232.4" cy="295.2" r="3.1"/><circle cx="207.7" cy="303.3" r="3.1"/><circle cx="207.7" cy="303.2" r="3.1"/><circle cx="207.7" cy="303.1" r="3.1"/><circle cx="249.1" cy="314.2" r="3.1"/><circle cx="486.3" cy="368.2" r="3.1"/><circle cx="242.2" cy="306" r="3.1"/><circle cx="207.7" cy="302.8" r="3.1"/><circle cx="293.3" cy="328.4" r="3.1"/><circle cx="215.7" cy="275.2" r="3.1"/><circle cx="215.7" cy="275.2" r="3.1"/><circle cx="328.6" cy="332.4" r="3.1"/><circle cx="288.9" cy="323.1" r="3.1"/><circle cx="368.6" cy="341.9" r="3.1"/><circle cx="254.5" cy="319.8" r="3.1"/><circle cx="207.7" cy="302.5" r="3.1"/><circle cx="330.7" cy="334.5" r="3.1"/><circle cx="207.7" cy="302.4" r="3.1"/><circle cx="207.7" cy="302.3" r="3.1"/><circle cx="215.6" cy="274.8" r="3.1"/><circle cx="249.1" cy="313.3" r="3.1"/><circle cx="254.5" cy="319.4" r="3.1"/><circle cx="207.7" cy="302.1" r="3.1"/><circle cx="291.9" cy="326" r="3.1"/><circle cx="207.7" cy="301.8" r="3.1"/><circle cx="232.4" cy="293.6" r="3.1"/><circle cx="330.3" cy="333.3" r="3.1"/><circle cx="291.9" cy="325.7" r="3.1"/><circle cx="249.1" cy="312.8" r="3.1"/><circle cx="207.7" cy="301.5" r="3.1"/><circle cx="329.4" cy="332.1" r="3.1"/><circle cx="528.7" cy="379" r="3.1"/><circle cx="207.7" cy="301.4" r="3.1"/><circle cx="242.1" cy="304.5" r="3.1"/><circle cx="215.6" cy="273.8" r="3.1"/><circle cx="207.7" cy="301.3" r="3.1"/><circle cx="242.1" cy="304.4" r="3.1"/></g><g fill-opacity=".60" stroke-opacity=".60"><circle cx="215.6" cy="273.7" r="3.1"/><circle cx="249.1" cy="312.2" r="3.1"/><circle cx="254.5" cy="318.3" r="3.1"/><circle cx="207.7" cy="300.9" r="3.1"/><circle cx="207.7" cy="300.6" r="3.1"/><circle cx="249.1" cy="311.6" r="3.1"/><circle cx="207.7" cy="300.4" r="3.1"/><circle cx="215.6" cy="272.9" r="3.1"/><circle cx="232.3" cy="292.1" r="3.1"/><circle cx="412.1" cy="353" r="3.1"/><circle cx="249.1" cy="311.3" r="3.1"/><circle cx="207.7" cy="300" r="3.1"/><circle cx="242.1" cy="303.1" r="3.1"/><circle cx="254.4" cy="317.3" r="3.1"/><circle cx="207.7" cy="299.9" r="3.1"/><circle cx="207.7" cy="299.8" r="3.1"/><circle cx="215.6" cy="272.2" r="3.1"/><circle cx="207.7" cy="299.6" r="3.1"/><circle cx="295.8" cy="328.1" r="3.1"/><circle cx="242.1" cy="302.6" r="3.1"/><circle cx="207.7" cy="299.3" r="3.1"/><circle cx="207.7" cy="299.2" r="3.1"/><circle cx="207.7" cy="299.2" r="3.1"/><circle cx="215.6" cy="271.7" r="3.1"/><circle cx="258.8" cy="321.5" r="3.1"/><circle cx="207.6" cy="299.1" r="3.1"/><circle cx="215.6" cy="271.4" r="3.1"/><circle cx="224.4" cy="318.1" r="3.1"/><circle cx="207.6" cy="298.8" r="3.1"/><circle cx="374.2" cy="344.5" r="3.1"/><circle cx="215.6" cy="271.2" r="3.1"/><circle cx="215.6" cy="271.2" r="3.1"/><circle cx="242.1" cy="301.7" r="3.1"/><circle cx="207.6" cy="298.5" r="3.1"/><circle cx="254.4" cy="315.6" r="3.1"/><circle cx="294.6" cy="325.3" r="3.1"/><circle cx="207.6" cy="298.2" r="3.1"/><circle cx="207.6" cy="298.2" r="3.1"/><circle cx="207.6" cy="298" r="3.1"/><circle cx="224.4" cy="317.3" r="3.1"/><circle cx="215.6" cy="270.4" r="3.1"/><circle cx="335.3" cy="335.3" r="3.1"/><circle cx="207.6" cy="297.8" r="3.1"/><circle cx="249" cy="308.9" r="3.1"/><circle cx="295.8" cy="326.2" r="3.1"/><circle cx="249" cy="308.8" r="3.1"/><circle cx="258.8" cy="320.1" r="3.1"/><circle cx="254.4" cy="315" r="3.1"/><circle cx="455.7" cy="364.1" r="3.1"/><circle cx="258.8" cy="319.8" r="3.1"/><circle cx="207.6" cy="297.3" r="3.1"/><circle cx="207.6" cy="297.2" r="3.1"/><circle cx="232.3" cy="289" r="3.1"/><circle cx="224.3" cy="316.4" r="3.1"/><circle cx="215.5" cy="269.5" r="3.1"/><circle cx="262.5" cy="323.3" r="3.1"/><circle cx="249" cy="307.6" r="3.1"/><circle cx="207.6" cy="296.4" r="3.1"/><circle cx="258.8" cy="318.7" r="3.1"/><circle cx="207.6" cy="296.2" r="3.1"/><circle cx="215.5" cy="268.6" r="3.1"/><circle cx="262.5" cy="322.8" r="3.1"/><circle cx="232.3" cy="287.7" r="3.1"/><circle cx="258.8" cy="318.3" r="3.1"/><circle cx="207.6" cy="295.7" r="3.1"/><circle cx="254.4" cy="313" r="3.1"/><circle cx="207.6" cy="295.7" r="3.1"/><circle cx="379.2" cy="347" r="3.1"/><circle cx="207.6" cy="295.4" r="3.1"/><circle cx="215.5" cy="267.8" r="3.1"/><circle cx="207.6" cy="295.3" r="3.1"/><circle cx="301.2" cy="330" r="3.1"/><circle cx="224.3" cy="314.5" r="3.1"/><circle cx="300.2" cy="328.7" r="3.1"/><circle cx="339.8" cy="337.7" r="3.1"/><circle cx="224.3" cy="314.3" r="3.1"/><circle cx="232.2" cy="286.8" r="3.1"/><circle cx="249" cy="306.1" r="3.1"/><circle cx="258.8" cy="317.2" r="3.1"/><circle cx="207.6" cy="294.7" r="3.1"/><circle cx="301.2" cy="329.3" r="3.1"/><circle cx="341.1" cy="338.7" r="3.1"/><circle cx="254.4" cy="311.8" r="3.1"/><circle cx="232.2" cy="286.2" r="3.1"/><circle cx="224.3" cy="313.6" r="3.1"/><circle cx="207.6" cy="294.2" r="3.1"/><circle cx="254.4" cy="311.6" r="3.1"/><circle cx="232.2" cy="286" r="3.1"/><circle cx="207.5" cy="294.2" r="3.1"/><circle cx="215.5" cy="266.6" r="3.1"/><circle cx="224.3" cy="313.4" r="3.1"/><circle cx="207.5" cy="294" r="3.1"/><circle cx="303" cy="330.9" r="3.1"/><circle cx="265.7" cy="324.4" r="3.1"/><circle cx="207.5" cy="293.8" r="3.1"/><circle cx="224.3" cy="313" r="3.1"/><circle cx="254.4" cy="311" r="3.1"/><circle cx="215.5" cy="266.1" r="3.1"/><circle cx="422.3" cy="358" r="3.1"/><circle cx="262.5" cy="320.2" r="3.1"/><circle cx="224.3" cy="312.7" r="3.1"/><circle cx="224.3" cy="312.6" r="3.1"/><circle cx="304.8" cy="332.1" r="3.1"/><circle cx="207.5" cy="292.9" r="3.1"/><circle cx="305.6" cy="332.7" r="3.1"/><circle cx="207.5" cy="292.8" r="3.1"/><circle cx="224.3" cy="312.2" r="3.1"/><circle cx="215.5" cy="265.3" r="3.1"/><circle cx="207.5" cy="292.6" r="3.1"/><circle cx="234.1" cy="323.2" r="3.1"/><circle cx="224.3" cy="311.9" r="3.1"/><circle cx="207.5" cy="292.5" r="3.1"/><circle cx="265.7" cy="322.9" r="3.1"/><circle cx="224.3" cy="311.6" r="3.1"/><circle cx="224.3" cy="311.3" r="3.1"/><circle cx="224.3" cy="311.2" r="3.1"/><circle cx="215.4" cy="264.3" r="3.1"/><circle cx="224.2" cy="311.1" r="3.1"/><circle cx="224.2" cy="311" r="3.1"/><circle cx="215.4" cy="264" r="3.1"/><circle cx="207.5" cy="291.5" r="3.1"/><circle cx="215.4" cy="263.8" r="3.1"/><circle cx="224.2" cy="310.5" r="3.1"/><circle cx="224.2" cy="310.5" r="3.1"/><circle cx="234" cy="321.7" r="3.1"/><circle cx="385.8" cy="350.1" r="3.1"/><circle cx="207.5" cy="290.9" r="3.1"/><circle cx="262.5" cy="317.6" r="3.1"/><circle cx="224.2" cy="310.1" r="3.1"/><circle cx="215.4" cy="263.2" r="3.1"/><circle cx="265.7" cy="320.9" r="3.1"/><circle cx="224.2" cy="309.7" r="3.1"/><circle cx="268.5" cy="324.2" r="3.1"/><circle cx="199.5" cy="317.9" r="3.1"/><circle cx="224.2" cy="309.7" r="3.1"/><circle cx="199.5" cy="317.8" r="3.1"/><circle cx="215.4" cy="262.7" r="3.1"/><circle cx="224.2" cy="309.6" r="3.1"/><circle cx="224.2" cy="309.4" r="3.1"/><circle cx="347" cy="341.1" r="3.1"/><circle cx="224.2" cy="309.3" r="3.1"/><circle cx="207.5" cy="289.9" r="3.1"/><circle cx="234" cy="320.5" r="3.1"/><circle cx="271.1" cy="326.5" r="3.1"/><circle cx="389" cy="352.4" r="3.1"/><circle cx="215.4" cy="261.9" r="3.1"/><circle cx="207.4" cy="289.4" r="3.1"/><circle cx="350.4" cy="344.2" r="3.1"/><circle cx="199.5" cy="316.8" r="3.1"/><circle cx="254.3" cy="306.5" r="3.1"/><circle cx="224.2" cy="308.5" r="3.1"/><circle cx="199.5" cy="316.6" r="3.1"/><circle cx="224.2" cy="308.4" r="3.1"/><circle cx="234" cy="319.7" r="3.1"/><circle cx="199.5" cy="316.5" r="3.1"/><circle cx="207.4" cy="289" r="3.1"/><circle cx="234" cy="319.6" r="3.1"/><circle cx="199.5" cy="316.4" r="3.1"/><circle cx="224.2" cy="308.1" r="3.1"/><circle cx="215.4" cy="261" r="3.1"/><circle cx="207.4" cy="288.2" r="3.1"/><circle cx="224.2" cy="307.5" r="3.1"/><circle cx="207.4" cy="288.1" r="3.1"/><circle cx="240.9" cy="326.8" r="3.1"/><circle cx="199.5" cy="315.6" r="3.1"/><circle cx="313.7" cy="337.3" r="3.1"/><circle cx="215.4" cy="260.5" r="3.1"/><circle cx="234" cy="318.6" r="3.1"/><circle cx="350.4" cy="342.7" r="3.1"/><circle cx="207.4" cy="287.5" r="3.1"/><circle cx="351.6" cy="343.8" r="3.1"/><circle cx="224.2" cy="306.6" r="3.1"/><circle cx="268.5" cy="320.9" r="3.1"/><circle cx="207.4" cy="287.1" r="3.1"/><circle cx="234" cy="317.8" r="3.1"/><circle cx="199.5" cy="314.6" r="3.1"/><circle cx="207.4" cy="287.1" r="3.1"/><circle cx="207.4" cy="287" r="3.1"/><circle cx="199.4" cy="314.2" r="3.1"/><circle cx="313.7" cy="335.9" r="3.1"/><circle cx="199.4" cy="314" r="3.1"/><circle cx="199.4" cy="313.9" r="3.1"/><circle cx="234" cy="317.1" r="3.1"/><circle cx="207.4" cy="286.3" r="3.1"/><circle cx="215.3" cy="258.7" r="3.1"/><circle cx="199.4" cy="313.9" r="3.1"/><circle cx="271" cy="323" r="3.1"/><circle cx="207.4" cy="286.2" r="3.1"/><circle cx="275.4" cy="328" r="3.1"/><circle cx="199.4" cy="313.7" r="3.1"/><circle cx="199.4" cy="313.6" r="3.1"/><circle cx="234" cy="316.6" r="3.1"/><circle cx="240.9" cy="324.6" r="3.1"/><circle cx="224.1" cy="305.2" r="3.1"/><circle cx="199.4" cy="313.3" r="3.1"/><circle cx="233.9" cy="316.4" r="3.1"/><circle cx="268.5" cy="319.5" r="3.1"/><circle cx="434.2" cy="363.9" r="3.1"/><circle cx="199.4" cy="313.2" r="3.1"/><circle cx="199.4" cy="313.1" r="3.1"/><circle cx="277.4" cy="329.6" r="3.1"/><circle cx="199.4" cy="313" r="3.1"/><circle cx="199.4" cy="312.9" r="3.1"/><circle cx="199.4" cy="312.9" r="3.1"/><circle cx="273.3" cy="324.6" r="3.1"/><circle cx="240.9" cy="323.7" r="3.1"/><circle cx="199.4" cy="312.5" r="3.1"/><circle cx="316.9" cy="337.8" r="3.1"/><circle cx="207.4" cy="284.7" r="3.1"/><circle cx="199.4" cy="312.3" r="3.1"/><circle cx="215.3" cy="257.1" r="3.1"/><circle cx="233.9" cy="315.3" r="3.1"/><circle cx="199.4" cy="312" r="3.1"/><circle cx="199.4" cy="311.9" r="3.1"/><circle cx="316.4" cy="336.3" r="3.1"/><circle cx="199.4" cy="311.4" r="3.1"/><circle cx="397.4" cy="356.3" r="3.1"/><circle cx="357.7" cy="347.1" r="3.1"/><circle cx="199.4" cy="311.3" r="3.1"/><circle cx="207.3" cy="283.7" r="3.1"/><circle cx="279.1" cy="329.9" r="3.1"/><circle cx="233.9" cy="314.4" r="3.1"/><circle cx="199.4" cy="311.2" r="3.1"/><circle cx="199.4" cy="311.1" r="3.1"/><circle cx="199.4" cy="311" r="3.1"/><circle cx="240.9" cy="322.2" r="3.1"/><circle cx="279.1" cy="329.6" r="3.1"/><circle cx="199.4" cy="311" r="3.1"/><circle cx="199.4" cy="310.9" r="3.1"/><circle cx="240.9" cy="322" r="3.1"/><circle cx="199.4" cy="310.8" r="3.1"/><circle cx="273.3" cy="322.7" r="3.1"/><circle cx="199.4" cy="310.7" r="3.1"/><circle cx="207.3" cy="283.1" r="3.1"/><circle cx="199.4" cy="310.7" r="3.1"/><circle cx="215.3" cy="255.4" r="3.1"/><circle cx="199.4" cy="310.1" r="3.1"/><circle cx="478.9" cy="375.3" r="3.1"/><circle cx="282.4" cy="332.2" r="3.1"/><circle cx="319.3" cy="338" r="3.1"/><circle cx="199.3" cy="309.7" r="3.1"/><circle cx="240.9" cy="320.9" r="3.1"/><circle cx="277.3" cy="326" r="3.1"/><circle cx="199.3" cy="309.4" r="3.1"/><circle cx="240.8" cy="320.5" r="3.1"/><circle cx="240.8" cy="320.3" r="3.1"/><circle cx="199.3" cy="309.1" r="3.1"/><circle cx="240.8" cy="320.2" r="3.1"/><circle cx="282.4" cy="331.3" r="3.1"/><circle cx="199.3" cy="308.8" r="3.1"/><circle cx="240.8" cy="319.9" r="3.1"/><circle cx="199.3" cy="308.4" r="3.1"/><circle cx="240.8" cy="319.6" r="3.1"/><circle cx="240.8" cy="319.4" r="3.1"/><circle cx="207.3" cy="280.7" r="3.1"/><circle cx="521.5" cy="386.1" r="3.1"/><circle cx="246.2" cy="325.6" r="3.1"/><circle cx="199.3" cy="308.1" r="3.1"/><circle cx="199.3" cy="308.1" r="3.1"/><circle cx="283.8" cy="332" r="3.1"/><circle cx="363.7" cy="350.8" r="3.1"/><circle cx="282.4" cy="330.3" r="3.1"/><circle cx="280.8" cy="328.4" r="3.1"/><circle cx="215.2" cy="252.7" r="3.1"/><circle cx="199.3" cy="307.8" r="3.1"/><circle cx="240.8" cy="319" r="3.1"/><circle cx="199.3" cy="307.7" r="3.1"/><circle cx="199.3" cy="307.7" r="3.1"/><circle cx="199.3" cy="307.6" r="3.1"/><circle cx="199.3" cy="307.6" r="3.1"/><circle cx="323.5" cy="340.7" r="3.1"/><circle cx="363.1" cy="349.6" r="3.1"/><circle cx="199.3" cy="307.5" r="3.1"/><circle cx="250.6" cy="329.8" r="3.1"/><circle cx="246.2" cy="324.7" r="3.1"/><circle cx="207.3" cy="279.6" r="3.1"/><circle cx="199.3" cy="307.2" r="3.1"/><circle cx="282.3" cy="329.6" r="3.1"/><circle cx="199.3" cy="307.2" r="3.1"/><circle cx="240.8" cy="318.2" r="3.1"/><circle cx="286.5" cy="334" r="3.1"/><circle cx="199.3" cy="306.8" r="3.1"/><circle cx="279.1" cy="325.2" r="3.1"/><circle cx="216.1" cy="325.8" r="3.1"/><circle cx="250.6" cy="328.5" r="3.1"/><circle cx="240.8" cy="317.1" r="3.1"/><circle cx="199.3" cy="305.9" r="3.1"/><circle cx="199.3" cy="305.8" r="3.1"/><circle cx="199.3" cy="305.7" r="3.1"/><circle cx="199.3" cy="305.7" r="3.1"/><circle cx="367.9" cy="353" r="3.1"/><circle cx="250.6" cy="327.9" r="3.1"/><circle cx="199.2" cy="305.3" r="3.1"/><circle cx="326.7" cy="342.1" r="3.1"/><circle cx="216" cy="324.6" r="3.1"/><circle cx="199.2" cy="305.2" r="3.1"/><circle cx="246.2" cy="322.6" r="3.1"/><circle cx="406.8" cy="360.7" r="3.1"/><circle cx="287.7" cy="333.5" r="3.1"/><circle cx="216" cy="324.2" r="3.1"/><circle cx="329.3" cy="344.6" r="3.1"/><circle cx="250.6" cy="327.3" r="3.1"/><circle cx="199.2" cy="304.7" r="3.1"/><circle cx="199.2" cy="304.7" r="3.1"/><circle cx="288.9" cy="334.4" r="3.1"/><circle cx="199.2" cy="304.3" r="3.1"/><circle cx="199.2" cy="304.2" r="3.1"/><circle cx="250.6" cy="326.7" r="3.1"/><circle cx="199.2" cy="304.1" r="3.1"/><circle cx="199.2" cy="304" r="3.1"/><circle cx="250.6" cy="326.4" r="3.1"/><circle cx="216" cy="323.2" r="3.1"/><circle cx="216" cy="323.1" r="3.1"/><circle cx="199.2" cy="303.7" r="3.1"/><circle cx="199.2" cy="303.6" r="3.1"/><circle cx="449.2" cy="371.5" r="3.1"/><circle cx="199.2" cy="303.5" r="3.1"/><circle cx="330.2" cy="344.2" r="3.1"/><circle cx="254.3" cy="330.2" r="3.1"/><circle cx="199.2" cy="303.2" r="3.1"/><circle cx="250.6" cy="325.7" r="3.1"/><circle cx="216" cy="322.5" r="3.1"/><circle cx="250.6" cy="325.5" r="3.1"/><circle cx="215.1" cy="247.7" r="3.1"/><circle cx="330.2" cy="343.7" r="3.1"/><circle cx="199.2" cy="302.8" r="3.1"/><circle cx="216" cy="322.1" r="3.1"/><circle cx="216" cy="322" r="3.1"/><circle cx="199.2" cy="302.4" r="3.1"/><circle cx="199.2" cy="302.2" r="3.1"/><circle cx="199.2" cy="302.1" r="3.1"/><circle cx="199.2" cy="301.8" r="3.1"/><circle cx="216" cy="321.2" r="3.1"/><circle cx="295" cy="338.6" r="3.1"/><circle cx="199.2" cy="301.5" r="3.1"/></g><g fill-opacity=".64" stroke-opacity=".64"><circle cx="250.6" cy="324" r="3.1"/><circle cx="199.2" cy="301.4" r="3.1"/><circle cx="413.4" cy="364.7" r="3.1"/><circle cx="199.2" cy="301.4" r="3.1"/><circle cx="199.2" cy="301.2" r="3.1"/><circle cx="295.9" cy="339.2" r="3.1"/><circle cx="199.2" cy="301.2" r="3.1"/><circle cx="199.2" cy="301.1" r="3.1"/><circle cx="216" cy="320.2" r="3.1"/><circle cx="246.1" cy="318.2" r="3.1"/><circle cx="199.1" cy="300.7" r="3.1"/><circle cx="215.9" cy="320" r="3.1"/><circle cx="334.9" cy="346.9" r="3.1"/><circle cx="254.3" cy="327.3" r="3.1"/><circle cx="215.9" cy="319.7" r="3.1"/><circle cx="199.1" cy="300.2" r="3.1"/><circle cx="257.5" cy="330.7" r="3.1"/><circle cx="215.9" cy="319.4" r="3.1"/><circle cx="215.9" cy="319.2" r="3.1"/><circle cx="199.1" cy="299.7" r="3.1"/><circle cx="199.1" cy="299.7" r="3.1"/><circle cx="225.8" cy="330.3" r="3.1"/><circle cx="337" cy="348.1" r="3.1"/><circle cx="199.1" cy="299.2" r="3.1"/><circle cx="207.1" cy="271.6" r="3.1"/><circle cx="376.6" cy="356.8" r="3.1"/><circle cx="297.5" cy="339" r="3.1"/><circle cx="215.9" cy="318.2" r="3.1"/><circle cx="199.1" cy="298.7" r="3.1"/><circle cx="199.1" cy="298.4" r="3.1"/><circle cx="215.9" cy="317.6" r="3.1"/><circle cx="262.9" cy="335" r="3.1"/><circle cx="215.9" cy="317.5" r="3.1"/><circle cx="215.9" cy="317.5" r="3.1"/><circle cx="257.5" cy="328.6" r="3.1"/><circle cx="215.9" cy="317.3" r="3.1"/><circle cx="260.3" cy="331.8" r="3.1"/><circle cx="225.7" cy="328.6" r="3.1"/><circle cx="215.9" cy="317.2" r="3.1"/><circle cx="215.9" cy="317" r="3.1"/><circle cx="199.1" cy="297.5" r="3.1"/><circle cx="199.1" cy="297.4" r="3.1"/><circle cx="215.9" cy="316.7" r="3.1"/><circle cx="299.1" cy="339.1" r="3.1"/><circle cx="260.3" cy="331.1" r="3.1"/><circle cx="215.9" cy="316.6" r="3.1"/><circle cx="191.1" cy="324.7" r="3.1"/><circle cx="215.9" cy="316.4" r="3.1"/><circle cx="267.3" cy="338.8" r="3.1"/><circle cx="199.1" cy="296.7" r="3.1"/><circle cx="257.5" cy="327.2" r="3.1"/><circle cx="302.6" cy="342.5" r="3.1"/><circle cx="191.1" cy="324.2" r="3.1"/><circle cx="199.1" cy="296.5" r="3.1"/><circle cx="191.1" cy="324.1" r="3.1"/><circle cx="299.8" cy="338.9" r="3.1"/><circle cx="262.9" cy="333" r="3.1"/><circle cx="191.1" cy="323.7" r="3.1"/><circle cx="225.7" cy="326.8" r="3.1"/><circle cx="199" cy="296" r="3.1"/><circle cx="299.8" cy="338.6" r="3.1"/><circle cx="199" cy="295.8" r="3.1"/><circle cx="191.1" cy="323.4" r="3.1"/><circle cx="215.9" cy="315.1" r="3.1"/><circle cx="199" cy="295.7" r="3.1"/><circle cx="215.9" cy="315" r="3.1"/><circle cx="199" cy="295.6" r="3.1"/><circle cx="265.2" cy="335.1" r="3.1"/><circle cx="299.8" cy="338.3" r="3.1"/><circle cx="199" cy="295.5" r="3.1"/><circle cx="199" cy="295.3" r="3.1"/><circle cx="232.7" cy="333.7" r="3.1"/><circle cx="215.8" cy="314.3" r="3.1"/><circle cx="191" cy="322.5" r="3.1"/><circle cx="262.9" cy="331.7" r="3.1"/><circle cx="344.1" cy="351.7" r="3.1"/><circle cx="215.8" cy="314.1" r="3.1"/><circle cx="343.4" cy="350.7" r="3.1"/><circle cx="199" cy="294.5" r="3.1"/><circle cx="225.7" cy="325.2" r="3.1"/><circle cx="265.2" cy="333.9" r="3.1"/><circle cx="225.7" cy="325.1" r="3.1"/><circle cx="191" cy="321.9" r="3.1"/><circle cx="215.8" cy="313.5" r="3.1"/><circle cx="215.8" cy="313.4" r="3.1"/><circle cx="225.7" cy="324.7" r="3.1"/><circle cx="215.8" cy="313.3" r="3.1"/><circle cx="199" cy="293.8" r="3.1"/><circle cx="191" cy="321.5" r="3.1"/><circle cx="262.9" cy="330.7" r="3.1"/><circle cx="384.3" cy="360.3" r="3.1"/><circle cx="232.6" cy="332.2" r="3.1"/><circle cx="191" cy="320.8" r="3.1"/><circle cx="199" cy="293.1" r="3.1"/><circle cx="199" cy="293.1" r="3.1"/><circle cx="191" cy="320.7" r="3.1"/><circle cx="225.6" cy="323.8" r="3.1"/><circle cx="191" cy="320.6" r="3.1"/><circle cx="191" cy="320.2" r="3.1"/><circle cx="215.8" cy="311.9" r="3.1"/><circle cx="426.6" cy="371" r="3.1"/><circle cx="199" cy="292.4" r="3.1"/><circle cx="265.2" cy="331.9" r="3.1"/><circle cx="225.6" cy="323" r="3.1"/><circle cx="191" cy="319.7" r="3.1"/><circle cx="191" cy="319.5" r="3.1"/><circle cx="191" cy="319.4" r="3.1"/><circle cx="191" cy="319.4" r="3.1"/><circle cx="232.6" cy="330.5" r="3.1"/><circle cx="191" cy="319.1" r="3.1"/><circle cx="198.9" cy="291.4" r="3.1"/><circle cx="225.6" cy="322.2" r="3.1"/><circle cx="191" cy="318.9" r="3.1"/><circle cx="307.9" cy="343.2" r="3.1"/><circle cx="309.4" cy="344.9" r="3.1"/><circle cx="190.9" cy="318.8" r="3.1"/><circle cx="190.9" cy="318.7" r="3.1"/><circle cx="215.8" cy="310.2" r="3.1"/><circle cx="198.9" cy="290.7" r="3.1"/><circle cx="225.6" cy="321.5" r="3.1"/><circle cx="190.9" cy="318.2" r="3.1"/><circle cx="190.9" cy="318.2" r="3.1"/><circle cx="272.7" cy="338.7" r="3.1"/><circle cx="190.9" cy="317.8" r="3.1"/><circle cx="190.9" cy="317.6" r="3.1"/><circle cx="198.9" cy="289.9" r="3.1"/><circle cx="350.7" cy="354.5" r="3.1"/><circle cx="271" cy="336.1" r="3.1"/><circle cx="190.9" cy="317.4" r="3.1"/><circle cx="232.6" cy="328.5" r="3.1"/><circle cx="390.9" cy="363.7" r="3.1"/><circle cx="190.9" cy="317.2" r="3.1"/><circle cx="190.9" cy="317.1" r="3.1"/><circle cx="215.7" cy="308.9" r="3.1"/><circle cx="310.4" cy="344.3" r="3.1"/><circle cx="190.9" cy="317" r="3.1"/><circle cx="190.9" cy="317" r="3.1"/><circle cx="190.9" cy="316.8" r="3.1"/><circle cx="198.9" cy="289" r="3.1"/><circle cx="190.9" cy="316.5" r="3.1"/><circle cx="232.6" cy="327.6" r="3.1"/><circle cx="472" cy="382.6" r="3.1"/><circle cx="225.6" cy="319.4" r="3.1"/><circle cx="190.9" cy="316.2" r="3.1"/><circle cx="313.5" cy="347.1" r="3.1"/><circle cx="314.7" cy="348.5" r="3.1"/><circle cx="275.7" cy="340.2" r="3.1"/><circle cx="198.9" cy="288.3" r="3.1"/><circle cx="275.7" cy="339.9" r="3.1"/><circle cx="190.9" cy="315.7" r="3.1"/><circle cx="313.5" cy="346.6" r="3.1"/><circle cx="190.9" cy="315.7" r="3.1"/><circle cx="190.9" cy="315.6" r="3.1"/><circle cx="215.7" cy="307.3" r="3.1"/><circle cx="198.9" cy="287.7" r="3.1"/><circle cx="190.9" cy="315.2" r="3.1"/><circle cx="190.9" cy="315.2" r="3.1"/><circle cx="355.6" cy="357.7" r="3.1"/><circle cx="190.9" cy="315.1" r="3.1"/><circle cx="190.9" cy="315" r="3.1"/><circle cx="190.9" cy="315" r="3.1"/><circle cx="514.4" cy="393.4" r="3.1"/><circle cx="274.2" cy="337.3" r="3.1"/><circle cx="232.5" cy="326" r="3.1"/><circle cx="190.9" cy="314.8" r="3.1"/><circle cx="225.5" cy="317.9" r="3.1"/><circle cx="190.9" cy="314.7" r="3.1"/><circle cx="215.7" cy="306.1" r="3.1"/><circle cx="190.8" cy="314.3" r="3.1"/><circle cx="198.8" cy="286.5" r="3.1"/><circle cx="190.8" cy="314" r="3.1"/><circle cx="275.7" cy="338" r="3.1"/><circle cx="190.8" cy="313.8" r="3.1"/><circle cx="198.8" cy="285.9" r="3.1"/><circle cx="242.4" cy="336.1" r="3.1"/><circle cx="232.5" cy="324.7" r="3.1"/><circle cx="190.8" cy="313.5" r="3.1"/><circle cx="225.5" cy="316.3" r="3.1"/><circle cx="356.8" cy="357.1" r="3.1"/><circle cx="190.8" cy="313" r="3.1"/><circle cx="398" cy="367.5" r="3.1"/><circle cx="278.4" cy="340.1" r="3.1"/><circle cx="190.8" cy="312.8" r="3.1"/><circle cx="237.9" cy="330.3" r="3.1"/><circle cx="207.7" cy="332.2" r="3.1"/><circle cx="190.8" cy="312.7" r="3.1"/><circle cx="278.4" cy="339.8" r="3.1"/><circle cx="190.8" cy="312.4" r="3.1"/><circle cx="190.8" cy="312.3" r="3.1"/><circle cx="242.3" cy="334.8" r="3.1"/><circle cx="190.8" cy="312" r="3.1"/><circle cx="190.8" cy="312" r="3.1"/><circle cx="190.8" cy="311.9" r="3.1"/><circle cx="190.8" cy="311.9" r="3.1"/><circle cx="190.8" cy="311.8" r="3.1"/><circle cx="232.5" cy="323" r="3.1"/><circle cx="207.6" cy="331.2" r="3.1"/><circle cx="198.8" cy="284" r="3.1"/><circle cx="225.5" cy="314.8" r="3.1"/><circle cx="190.8" cy="311.2" r="3.1"/><circle cx="198.8" cy="283.4" r="3.1"/><circle cx="190.8" cy="311.1" r="3.1"/><circle cx="190.8" cy="311" r="3.1"/><circle cx="190.8" cy="311" r="3.1"/><circle cx="279.6" cy="339.7" r="3.1"/><circle cx="242.3" cy="333.5" r="3.1"/><circle cx="320.4" cy="349.6" r="3.1"/><circle cx="225.5" cy="313.8" r="3.1"/><circle cx="362.2" cy="360.7" r="3.1"/><circle cx="198.8" cy="282.8" r="3.1"/><circle cx="190.8" cy="310.5" r="3.1"/><circle cx="190.8" cy="310.5" r="3.1"/><circle cx="190.8" cy="310.3" r="3.1"/><circle cx="190.7" cy="310.2" r="3.1"/><circle cx="232.5" cy="321.4" r="3.1"/><circle cx="207.6" cy="329.7" r="3.1"/><circle cx="190.7" cy="310.2" r="3.1"/><circle cx="442.1" cy="378.8" r="3.1"/><circle cx="190.7" cy="310.1" r="3.1"/><circle cx="237.9" cy="327.5" r="3.1"/><circle cx="190.7" cy="309.9" r="3.1"/><circle cx="198.7" cy="282.2" r="3.1"/><circle cx="190.7" cy="309.7" r="3.1"/><circle cx="198.7" cy="282" r="3.1"/><circle cx="190.7" cy="309.6" r="3.1"/><circle cx="242.3" cy="332.2" r="3.1"/><circle cx="190.7" cy="309.6" r="3.1"/><circle cx="198.7" cy="281.8" r="3.1"/><circle cx="190.7" cy="309.4" r="3.1"/><circle cx="190.7" cy="309.3" r="3.1"/><circle cx="190.7" cy="309.2" r="3.1"/><circle cx="246.1" cy="336.1" r="3.1"/><circle cx="190.7" cy="309.2" r="3.1"/><circle cx="198.7" cy="281.4" r="3.1"/><circle cx="190.7" cy="309" r="3.1"/><circle cx="190.7" cy="309" r="3.1"/><circle cx="232.4" cy="319.9" r="3.1"/><circle cx="207.6" cy="328.1" r="3.1"/><circle cx="285" cy="343.7" r="3.1"/><circle cx="242.3" cy="331.3" r="3.1"/><circle cx="237.9" cy="326.1" r="3.1"/><circle cx="242.3" cy="331.1" r="3.1"/><circle cx="246" cy="335.4" r="3.1"/><circle cx="198.7" cy="280.6" r="3.1"/><circle cx="190.7" cy="308.2" r="3.1"/><circle cx="242.3" cy="330.7" r="3.1"/><circle cx="246" cy="335" r="3.1"/><circle cx="249.3" cy="338.6" r="3.1"/><circle cx="190.7" cy="307.9" r="3.1"/><circle cx="190.7" cy="307.8" r="3.1"/><circle cx="207.6" cy="327.2" r="3.1"/><circle cx="207.5" cy="327" r="3.1"/><circle cx="190.7" cy="307.4" r="3.1"/><circle cx="207.5" cy="326.9" r="3.1"/><circle cx="246" cy="334.3" r="3.1"/><circle cx="252.1" cy="341.3" r="3.1"/><circle cx="207.5" cy="326.7" r="3.1"/><circle cx="246" cy="334.1" r="3.1"/><circle cx="246" cy="333.9" r="3.1"/><circle cx="190.7" cy="306.9" r="3.1"/><circle cx="207.5" cy="326.3" r="3.1"/><circle cx="207.5" cy="326.2" r="3.1"/><circle cx="289.4" cy="346.8" r="3.1"/><circle cx="246" cy="333.6" r="3.1"/><circle cx="190.7" cy="306.6" r="3.1"/><circle cx="407.7" cy="372.4" r="3.1"/><circle cx="207.5" cy="326.1" r="3.1"/><circle cx="207.5" cy="326" r="3.1"/><circle cx="217.4" cy="337.2" r="3.1"/><circle cx="252.1" cy="340.2" r="3.1"/><circle cx="190.6" cy="306" r="3.1"/><circle cx="242.3" cy="328.6" r="3.1"/><circle cx="289.4" cy="346" r="3.1"/><circle cx="242.3" cy="328.3" r="3.1"/><circle cx="190.6" cy="305.7" r="3.1"/><circle cx="198.6" cy="277.9" r="3.1"/><circle cx="207.5" cy="324.9" r="3.1"/><circle cx="190.6" cy="305.4" r="3.1"/><circle cx="190.6" cy="305.1" r="3.1"/><circle cx="291.7" cy="347.9" r="3.1"/><circle cx="249.2" cy="335.7" r="3.1"/><circle cx="190.6" cy="305" r="3.1"/><circle cx="190.6" cy="305" r="3.1"/><circle cx="190.6" cy="305" r="3.1"/><circle cx="329.9" cy="354.8" r="3.1"/><circle cx="190.6" cy="304.8" r="3.1"/><circle cx="217.4" cy="335.6" r="3.1"/><circle cx="190.6" cy="304.8" r="3.1"/><circle cx="207.5" cy="324.2" r="3.1"/><circle cx="190.6" cy="304.7" r="3.1"/><circle cx="328.8" cy="353.2" r="3.1"/><circle cx="252.1" cy="338.4" r="3.1"/><circle cx="370.7" cy="364.4" r="3.1"/><circle cx="207.5" cy="323.8" r="3.1"/><circle cx="182.6" cy="331.8" r="3.1"/><circle cx="207.5" cy="323.4" r="3.1"/><circle cx="217.3" cy="334.7" r="3.1"/><circle cx="207.5" cy="323.3" r="3.1"/><circle cx="207.5" cy="323.2" r="3.1"/><circle cx="292.5" cy="347.3" r="3.1"/><circle cx="190.6" cy="303.6" r="3.1"/><circle cx="330.8" cy="354.4" r="3.1"/><circle cx="182.6" cy="330.9" r="3.1"/><circle cx="207.5" cy="322.5" r="3.1"/><circle cx="254.6" cy="340" r="3.1"/><circle cx="295.2" cy="349.7" r="3.1"/><circle cx="190.6" cy="302.9" r="3.1"/><circle cx="217.3" cy="333.5" r="3.1"/><circle cx="246" cy="329.5" r="3.1"/><circle cx="254.6" cy="339.5" r="3.1"/><circle cx="291.7" cy="345.3" r="3.1"/><circle cx="182.6" cy="330.1" r="3.1"/><circle cx="207.4" cy="321.8" r="3.1"/><circle cx="257" cy="341.9" r="3.1"/><circle cx="217.3" cy="333.1" r="3.1"/><circle cx="217.3" cy="332.9" r="3.1"/><circle cx="217.3" cy="332.8" r="3.1"/><circle cx="375.1" cy="367" r="3.1"/><circle cx="224.3" cy="340.8" r="3.1"/><circle cx="190.5" cy="301.8" r="3.1"/><circle cx="217.3" cy="332.6" r="3.1"/><circle cx="252.1" cy="335.5" r="3.1"/><circle cx="182.5" cy="329.2" r="3.1"/><circle cx="207.4" cy="320.8" r="3.1"/><circle cx="190.5" cy="301.1" r="3.1"/><circle cx="294.5" cy="347.1" r="3.1"/><circle cx="254.6" cy="338.1" r="3.1"/></g><g fill-opacity=".68" stroke-opacity=".68"><circle cx="182.5" cy="328.4" r="3.1"/><circle cx="252.1" cy="334.7" r="3.1"/><circle cx="217.3" cy="331.3" r="3.1"/><circle cx="207.4" cy="319.8" r="3.1"/><circle cx="224.3" cy="339.2" r="3.1"/><circle cx="217.3" cy="331.1" r="3.1"/><circle cx="190.5" cy="300.2" r="3.1"/><circle cx="217.3" cy="331" r="3.1"/><circle cx="207.4" cy="319.5" r="3.1"/><circle cx="217.3" cy="330.9" r="3.1"/><circle cx="182.5" cy="327.7" r="3.1"/><circle cx="217.3" cy="330.8" r="3.1"/><circle cx="217.3" cy="330.6" r="3.1"/><circle cx="207.4" cy="319.2" r="3.1"/><circle cx="190.5" cy="299.6" r="3.1"/><circle cx="190.5" cy="299.6" r="3.1"/><circle cx="182.5" cy="327.1" r="3.1"/><circle cx="190.5" cy="299.4" r="3.1"/><circle cx="207.4" cy="318.8" r="3.1"/><circle cx="419.2" cy="378.3" r="3.1"/><circle cx="337.6" cy="357.7" r="3.1"/><circle cx="299.3" cy="350.5" r="3.1"/><circle cx="182.5" cy="326.5" r="3.1"/><circle cx="338.6" cy="358.8" r="3.1"/><circle cx="224.3" cy="337.7" r="3.1"/><circle cx="217.2" cy="329.4" r="3.1"/><circle cx="190.5" cy="298.5" r="3.1"/><circle cx="262.8" cy="344.7" r="3.1"/><circle cx="182.4" cy="325.8" r="3.1"/><circle cx="207.3" cy="317.3" r="3.1"/><circle cx="217.2" cy="328.7" r="3.1"/><circle cx="190.5" cy="297.8" r="3.1"/><circle cx="340.6" cy="360.1" r="3.1"/><circle cx="217.2" cy="328.6" r="3.1"/><circle cx="190.5" cy="297.6" r="3.1"/><circle cx="341.7" cy="361.3" r="3.1"/><circle cx="190.5" cy="297.6" r="3.1"/><circle cx="259" cy="339.6" r="3.1"/><circle cx="182.4" cy="325.1" r="3.1"/><circle cx="217.2" cy="328.3" r="3.1"/><circle cx="182.4" cy="325" r="3.1"/><circle cx="217.2" cy="328.1" r="3.1"/><circle cx="190.4" cy="297.1" r="3.1"/><circle cx="224.2" cy="336.2" r="3.1"/><circle cx="264.5" cy="345.5" r="3.1"/><circle cx="217.2" cy="327.9" r="3.1"/><circle cx="182.4" cy="324.7" r="3.1"/><circle cx="305" cy="355.1" r="3.1"/><circle cx="259" cy="339" r="3.1"/><circle cx="382.7" cy="370.8" r="3.1"/><circle cx="261" cy="341.2" r="3.1"/><circle cx="217.2" cy="327.6" r="3.1"/><circle cx="182.4" cy="324.5" r="3.1"/><circle cx="262.8" cy="343.1" r="3.1"/><circle cx="266" cy="346.9" r="3.1"/><circle cx="229.7" cy="341.9" r="3.1"/><circle cx="182.4" cy="324.3" r="3.1"/><circle cx="198.4" cy="268.6" r="3.1"/><circle cx="182.4" cy="323.9" r="3.1"/><circle cx="305.4" cy="354.7" r="3.1"/><circle cx="190.4" cy="295.9" r="3.1"/><circle cx="207.3" cy="315.3" r="3.1"/><circle cx="182.4" cy="323.5" r="3.1"/><circle cx="182.4" cy="323.3" r="3.1"/><circle cx="464.6" cy="389.9" r="3.1"/><circle cx="224.2" cy="334.4" r="3.1"/><circle cx="190.4" cy="295.3" r="3.1"/><circle cx="182.4" cy="323.1" r="3.1"/><circle cx="224.2" cy="334.2" r="3.1"/><circle cx="182.4" cy="322.8" r="3.1"/><circle cx="182.4" cy="322.7" r="3.1"/><circle cx="217.2" cy="325.8" r="3.1"/><circle cx="207.3" cy="314.3" r="3.1"/><circle cx="224.2" cy="333.8" r="3.1"/><circle cx="306.3" cy="354.4" r="3.1"/><circle cx="224.2" cy="333.6" r="3.1"/><circle cx="182.4" cy="322.3" r="3.1"/><circle cx="182.4" cy="322.2" r="3.1"/><circle cx="217.2" cy="325.3" r="3.1"/><circle cx="217.2" cy="325.2" r="3.1"/><circle cx="190.4" cy="294.2" r="3.1"/><circle cx="507.4" cy="400.7" r="3.1"/><circle cx="182.3" cy="321.6" r="3.1"/><circle cx="182.3" cy="321.6" r="3.1"/><circle cx="182.3" cy="321.5" r="3.1"/><circle cx="207.3" cy="313.2" r="3.1"/><circle cx="182.3" cy="321.4" r="3.1"/><circle cx="347.5" cy="363.8" r="3.1"/><circle cx="307" cy="354.2" r="3.1"/><circle cx="182.3" cy="321.1" r="3.1"/><circle cx="190.4" cy="293.3" r="3.1"/><circle cx="182.3" cy="321" r="3.1"/><circle cx="182.3" cy="320.9" r="3.1"/><circle cx="207.3" cy="312.6" r="3.1"/><circle cx="182.3" cy="320.8" r="3.1"/><circle cx="182.3" cy="320.7" r="3.1"/><circle cx="182.3" cy="320.6" r="3.1"/><circle cx="190.3" cy="292.8" r="3.1"/><circle cx="190.3" cy="292.8" r="3.1"/><circle cx="190.3" cy="292.7" r="3.1"/><circle cx="182.3" cy="320.5" r="3.1"/><circle cx="224.1" cy="331.5" r="3.1"/><circle cx="199.2" cy="339.8" r="3.1"/><circle cx="182.3" cy="320.2" r="3.1"/><circle cx="217.1" cy="323.3" r="3.1"/><circle cx="307.8" cy="353.9" r="3.1"/><circle cx="182.3" cy="320.1" r="3.1"/><circle cx="267.5" cy="344.3" r="3.1"/><circle cx="182.3" cy="320" r="3.1"/><circle cx="390.2" cy="374.7" r="3.1"/><circle cx="182.3" cy="319.9" r="3.1"/><circle cx="229.6" cy="337.4" r="3.1"/><circle cx="229.6" cy="337.3" r="3.1"/><circle cx="182.3" cy="319.7" r="3.1"/><circle cx="182.3" cy="319.7" r="3.1"/><circle cx="182.3" cy="319.6" r="3.1"/><circle cx="182.3" cy="319.5" r="3.1"/><circle cx="271.4" cy="348.2" r="3.1"/><circle cx="229.6" cy="336.8" r="3.1"/><circle cx="272.6" cy="349.5" r="3.1"/><circle cx="182.3" cy="319.2" r="3.1"/><circle cx="190.3" cy="291.4" r="3.1"/><circle cx="182.3" cy="319.2" r="3.1"/><circle cx="182.3" cy="319.1" r="3.1"/><circle cx="190.3" cy="291.3" r="3.1"/><circle cx="271.4" cy="347.9" r="3.1"/><circle cx="182.3" cy="319" r="3.1"/><circle cx="270.2" cy="346.3" r="3.1"/><circle cx="224.1" cy="330.2" r="3.1"/><circle cx="182.3" cy="318.9" r="3.1"/><circle cx="199.2" cy="338.2" r="3.1"/><circle cx="217.1" cy="321.8" r="3.1"/><circle cx="190.3" cy="290.8" r="3.1"/><circle cx="182.3" cy="318.5" r="3.1"/><circle cx="182.3" cy="318.5" r="3.1"/><circle cx="229.6" cy="335.9" r="3.1"/><circle cx="234" cy="340.9" r="3.1"/><circle cx="182.3" cy="318.2" r="3.1"/><circle cx="224.1" cy="329.4" r="3.1"/><circle cx="182.3" cy="318.1" r="3.1"/><circle cx="234" cy="340.7" r="3.1"/><circle cx="182.3" cy="318" r="3.1"/><circle cx="275.9" cy="351.9" r="3.1"/><circle cx="182.2" cy="317.9" r="3.1"/><circle cx="190.3" cy="289.9" r="3.1"/><circle cx="234" cy="340.4" r="3.1"/><circle cx="182.2" cy="317.6" r="3.1"/><circle cx="182.2" cy="317.6" r="3.1"/><circle cx="353" cy="366.4" r="3.1"/><circle cx="182.2" cy="317.5" r="3.1"/><circle cx="182.2" cy="317.5" r="3.1"/><circle cx="182.2" cy="317.4" r="3.1"/><circle cx="182.2" cy="317.3" r="3.1"/><circle cx="182.2" cy="317.3" r="3.1"/><circle cx="224.1" cy="328.4" r="3.1"/><circle cx="199.1" cy="336.7" r="3.1"/><circle cx="315" cy="359.2" r="3.1"/><circle cx="182.2" cy="317" r="3.1"/><circle cx="182.2" cy="317" r="3.1"/><circle cx="190.3" cy="289.1" r="3.1"/><circle cx="234" cy="339.5" r="3.1"/><circle cx="182.2" cy="316.8" r="3.1"/><circle cx="237.7" cy="343.8" r="3.1"/><circle cx="182.2" cy="316.8" r="3.1"/><circle cx="182.2" cy="316.7" r="3.1"/><circle cx="234" cy="339.4" r="3.1"/><circle cx="182.2" cy="316.6" r="3.1"/><circle cx="182.2" cy="316.6" r="3.1"/><circle cx="229.5" cy="334" r="3.1"/><circle cx="435.2" cy="386.2" r="3.1"/><circle cx="182.2" cy="316.4" r="3.1"/><circle cx="182.2" cy="316.3" r="3.1"/><circle cx="229.5" cy="333.8" r="3.1"/><circle cx="182.2" cy="316.1" r="3.1"/><circle cx="229.5" cy="333.6" r="3.1"/><circle cx="190.2" cy="288.2" r="3.1"/><circle cx="318.7" cy="362.4" r="3.1"/><circle cx="276.8" cy="351.1" r="3.1"/><circle cx="182.2" cy="315.8" r="3.1"/><circle cx="182.2" cy="315.8" r="3.1"/><circle cx="199.1" cy="335.2" r="3.1"/><circle cx="224.1" cy="326.9" r="3.1"/><circle cx="234" cy="338.3" r="3.1"/><circle cx="182.2" cy="315.5" r="3.1"/><circle cx="182.2" cy="315.2" r="3.1"/><circle cx="182.2" cy="315.2" r="3.1"/><circle cx="190.2" cy="287.4" r="3.1"/><circle cx="182.2" cy="315.1" r="3.1"/><circle cx="182.2" cy="315" r="3.1"/><circle cx="182.2" cy="314.9" r="3.1"/><circle cx="316.9" cy="359.2" r="3.1"/><circle cx="182.2" cy="314.8" r="3.1"/><circle cx="182.2" cy="314.6" r="3.1"/><circle cx="199.1" cy="334.1" r="3.1"/><circle cx="182.2" cy="314.5" r="3.1"/><circle cx="357.8" cy="368.9" r="3.1"/><circle cx="182.2" cy="314.4" r="3.1"/><circle cx="182.2" cy="314.3" r="3.1"/><circle cx="190.2" cy="286.5" r="3.1"/><circle cx="182.2" cy="314.2" r="3.1"/><circle cx="182.2" cy="314.2" r="3.1"/><circle cx="182.2" cy="314.1" r="3.1"/><circle cx="182.2" cy="314.1" r="3.1"/><circle cx="182.2" cy="314" r="3.1"/><circle cx="237.7" cy="341" r="3.1"/><circle cx="399.6" cy="379.5" r="3.1"/><circle cx="182.1" cy="313.8" r="3.1"/><circle cx="199.1" cy="333.3" r="3.1"/><circle cx="278.7" cy="350.9" r="3.1"/><circle cx="199.1" cy="333.2" r="3.1"/><circle cx="182.1" cy="313.6" r="3.1"/><circle cx="182.1" cy="313.6" r="3.1"/><circle cx="182.1" cy="313.5" r="3.1"/><circle cx="190.2" cy="285.6" r="3.1"/><circle cx="199.1" cy="332.9" r="3.1"/><circle cx="209" cy="344.2" r="3.1"/><circle cx="182.1" cy="313.2" r="3.1"/><circle cx="182.1" cy="313.2" r="3.1"/><circle cx="237.7" cy="340.2" r="3.1"/><circle cx="182.1" cy="313" r="3.1"/><circle cx="276.8" cy="348" r="3.1"/><circle cx="321.5" cy="362.5" r="3.1"/><circle cx="182.1" cy="312.8" r="3.1"/><circle cx="182.1" cy="312.8" r="3.1"/><circle cx="182.1" cy="312.8" r="3.1"/><circle cx="233.9" cy="335.5" r="3.1"/><circle cx="320.8" cy="361.6" r="3.1"/><circle cx="182.1" cy="312.7" r="3.1"/><circle cx="182.1" cy="312.7" r="3.1"/><circle cx="190.2" cy="284.8" r="3.1"/><circle cx="182.1" cy="312.7" r="3.1"/><circle cx="199" cy="332.1" r="3.1"/><circle cx="182.1" cy="312.5" r="3.1"/><circle cx="240.9" cy="343.4" r="3.1"/><circle cx="182.1" cy="312.5" r="3.1"/><circle cx="361.5" cy="371.2" r="3.1"/><circle cx="240.9" cy="343.2" r="3.1"/><circle cx="182.1" cy="312.3" r="3.1"/><circle cx="199" cy="331.9" r="3.1"/><circle cx="246.4" cy="349.4" r="3.1"/><circle cx="182.1" cy="312.2" r="3.1"/><circle cx="182.1" cy="312" r="3.1"/><circle cx="182.1" cy="312" r="3.1"/><circle cx="182.1" cy="311.9" r="3.1"/><circle cx="182.1" cy="311.9" r="3.1"/><circle cx="190.1" cy="283.9" r="3.1"/><circle cx="182.1" cy="311.7" r="3.1"/><circle cx="208.9" cy="342.7" r="3.1"/><circle cx="182.1" cy="311.7" r="3.1"/><circle cx="199" cy="331.1" r="3.1"/><circle cx="182.1" cy="311.5" r="3.1"/><circle cx="199" cy="331" r="3.1"/><circle cx="240.9" cy="342.3" r="3.1"/><circle cx="199" cy="330.9" r="3.1"/><circle cx="182.1" cy="311.4" r="3.1"/><circle cx="182.1" cy="311.3" r="3.1"/><circle cx="182.1" cy="311.3" r="3.1"/><circle cx="182.1" cy="311.3" r="3.1"/><circle cx="199" cy="330.8" r="3.1"/><circle cx="182.1" cy="311.2" r="3.1"/><circle cx="182.1" cy="311.2" r="3.1"/><circle cx="282.8" cy="353.2" r="3.1"/><circle cx="182.1" cy="311.1" r="3.1"/><circle cx="190.1" cy="283.2" r="3.1"/><circle cx="174" cy="338.8" r="3.1"/><circle cx="182.1" cy="310.9" r="3.1"/><circle cx="182.1" cy="310.8" r="3.1"/><circle cx="199" cy="330.3" r="3.1"/><circle cx="182.1" cy="310.7" r="3.1"/><circle cx="182.1" cy="310.7" r="3.1"/><circle cx="182.1" cy="310.5" r="3.1"/><circle cx="182.1" cy="310.5" r="3.1"/><circle cx="182.1" cy="310.4" r="3.1"/><circle cx="199" cy="329.8" r="3.1"/><circle cx="199" cy="329.8" r="3.1"/><circle cx="208.9" cy="341.1" r="3.1"/><circle cx="199" cy="329.7" r="3.1"/><circle cx="174" cy="338" r="3.1"/><circle cx="182.1" cy="310.1" r="3.1"/><circle cx="199" cy="329.6" r="3.1"/><circle cx="182.1" cy="310" r="3.1"/><circle cx="199" cy="329.5" r="3.1"/><circle cx="199" cy="329.3" r="3.1"/><circle cx="248.7" cy="349.5" r="3.1"/><circle cx="199" cy="329.1" r="3.1"/><circle cx="285" cy="354.2" r="3.1"/><circle cx="199" cy="329.1" r="3.1"/><circle cx="190.1" cy="281.5" r="3.1"/><circle cx="182" cy="309.3" r="3.1"/><circle cx="174" cy="337.1" r="3.1"/><circle cx="199" cy="328.6" r="3.1"/><circle cx="199" cy="328.5" r="3.1"/><circle cx="182" cy="309" r="3.1"/><circle cx="182" cy="308.8" r="3.1"/><circle cx="182" cy="308.8" r="3.1"/><circle cx="182" cy="308.8" r="3.1"/><circle cx="215.9" cy="347.8" r="3.1"/><circle cx="199" cy="328.2" r="3.1"/><circle cx="174" cy="336.4" r="3.1"/><circle cx="199" cy="328.1" r="3.1"/><circle cx="208.9" cy="339.4" r="3.1"/><circle cx="248.7" cy="348.2" r="3.1"/><circle cx="182" cy="308.3" r="3.1"/><circle cx="329.4" cy="367.1" r="3.1"/><circle cx="246.3" cy="345.4" r="3.1"/><circle cx="182" cy="308.2" r="3.1"/><circle cx="182" cy="308.1" r="3.1"/><circle cx="198.9" cy="327.6" r="3.1"/><circle cx="208.9" cy="339" r="3.1"/><circle cx="182" cy="307.9" r="3.1"/><circle cx="243.8" cy="342.1" r="3.1"/><circle cx="248.7" cy="347.8" r="3.1"/><circle cx="182" cy="307.9" r="3.1"/><circle cx="198.9" cy="327.4" r="3.1"/><circle cx="182" cy="307.8" r="3.1"/><circle cx="198.9" cy="327.3" r="3.1"/><circle cx="190" cy="279.8" r="3.1"/><circle cx="182" cy="307.6" r="3.1"/><circle cx="174" cy="335.4" r="3.1"/><circle cx="288.3" cy="355.9" r="3.1"/><circle cx="248.6" cy="347.3" r="3.1"/><circle cx="208.8" cy="338.4" r="3.1"/><circle cx="368.9" cy="374.7" r="3.1"/><circle cx="182" cy="307.3" r="3.1"/><circle cx="292.2" cy="360.3" r="3.1"/><circle cx="215.9" cy="346.3" r="3.1"/><circle cx="198.9" cy="326.7" r="3.1"/><circle cx="250.8" cy="349.3" r="3.1"/><circle cx="182" cy="306.9" r="3.1"/><circle cx="182" cy="306.9" r="3.1"/><circle cx="289.4" cy="356.7" r="3.1"/><circle cx="248.6" cy="346.7" r="3.1"/><circle cx="182" cy="306.8" r="3.1"/><circle cx="292.2" cy="359.8" r="3.1"/><circle cx="182" cy="306.8" r="3.1"/><circle cx="182" cy="306.7" r="3.1"/><circle cx="173.9" cy="334.6" r="3.1"/><circle cx="182" cy="306.6" r="3.1"/><circle cx="182" cy="306.5" r="3.1"/><circle cx="208.8" cy="337.4" r="3.1"/><circle cx="208.8" cy="337.3" r="3.1"/><circle cx="250.8" cy="348.6" r="3.1"/><circle cx="411.3" cy="385.4" r="3.1"/><circle cx="182" cy="306.2" r="3.1"/><circle cx="208.8" cy="337.2" r="3.1"/><circle cx="208.8" cy="337.1" r="3.1"/><circle cx="173.9" cy="333.9" r="3.1"/><circle cx="190" cy="278.1" r="3.1"/><circle cx="198.9" cy="325.5" r="3.1"/><circle cx="181.9" cy="305.9" r="3.1"/><circle cx="181.9" cy="305.8" r="3.1"/><circle cx="292.2" cy="358.8" r="3.1"/><circle cx="198.9" cy="325.3" r="3.1"/><circle cx="198.9" cy="325.2" r="3.1"/><circle cx="208.8" cy="336.7" r="3.1"/><circle cx="198.9" cy="325.2" r="3.1"/><circle cx="215.8" cy="344.8" r="3.1"/><circle cx="173.9" cy="333.4" r="3.1"/><circle cx="173.9" cy="333.3" r="3.1"/><circle cx="173.9" cy="333.1" r="3.1"/><circle cx="250.7" cy="347.5" r="3.1"/><circle cx="198.9" cy="324.5" r="3.1"/><circle cx="332.4" cy="367.2" r="3.1"/><circle cx="181.9" cy="304.8" r="3.1"/><circle cx="173.9" cy="332.5" r="3.1"/><circle cx="173.9" cy="332.5" r="3.1"/><circle cx="181.9" cy="304.5" r="3.1"/><circle cx="173.9" cy="332.4" r="3.1"/><circle cx="181.9" cy="304.5" r="3.1"/><circle cx="173.9" cy="332.3" r="3.1"/><circle cx="208.8" cy="335.4" r="3.1"/><circle cx="181.9" cy="304.3" r="3.1"/><circle cx="198.9" cy="323.9" r="3.1"/><circle cx="181.9" cy="304.2" r="3.1"/><circle cx="181.9" cy="304.1" r="3.1"/><circle cx="181.9" cy="304.1" r="3.1"/><circle cx="215.8" cy="343.2" r="3.1"/><circle cx="173.9" cy="331.9" r="3.1"/><circle cx="173.9" cy="331.8" r="3.1"/><circle cx="208.8" cy="334.8" r="3.1"/><circle cx="198.9" cy="323.3" r="3.1"/><circle cx="181.9" cy="303.7" r="3.1"/><circle cx="173.8" cy="331.5" r="3.1"/><circle cx="293.7" cy="358.4" r="3.1"/><circle cx="173.8" cy="331.4" r="3.1"/><circle cx="208.8" cy="334.6" r="3.1"/><circle cx="198.8" cy="323" r="3.1"/><circle cx="208.8" cy="334.4" r="3.1"/><circle cx="189.9" cy="275.4" r="3.1"/><circle cx="173.8" cy="331" r="3.1"/><circle cx="208.8" cy="334.2" r="3.1"/><circle cx="173.8" cy="330.9" r="3.1"/><circle cx="181.9" cy="303.1" r="3.1"/><circle cx="181.9" cy="303.1" r="3.1"/><circle cx="252.7" cy="347.6" r="3.1"/><circle cx="173.8" cy="330.9" r="3.1"/><circle cx="215.8" cy="342.2" r="3.1"/><circle cx="181.9" cy="302.9" r="3.1"/><circle cx="173.8" cy="330.7" r="3.1"/><circle cx="252.7" cy="347.4" r="3.1"/><circle cx="256.2" cy="351.5" r="3.1"/><circle cx="173.8" cy="330.7" r="3.1"/><circle cx="208.8" cy="333.7" r="3.1"/><circle cx="173.8" cy="330.5" r="3.1"/><circle cx="173.8" cy="330.4" r="3.1"/><circle cx="198.8" cy="322.1" r="3.1"/><circle cx="252.7" cy="347" r="3.1"/><circle cx="215.8" cy="341.6" r="3.1"/><circle cx="208.7" cy="333.4" r="3.1"/><circle cx="181.9" cy="302.4" r="3.1"/><circle cx="376.5" cy="378.4" r="3.1"/><circle cx="298.5" cy="362.7" r="3.1"/><circle cx="208.7" cy="333.3" r="3.1"/><circle cx="173.8" cy="330.2" r="3.1"/><circle cx="173.8" cy="330.1" r="3.1"/><circle cx="208.7" cy="333.3" r="3.1"/><circle cx="296.9" cy="360.7" r="3.1"/><circle cx="457.3" cy="397.2" r="3.1"/><circle cx="208.7" cy="333.1" r="3.1"/><circle cx="173.8" cy="329.9" r="3.1"/><circle cx="173.8" cy="329.7" r="3.1"/><circle cx="173.8" cy="329.7" r="3.1"/><circle cx="198.8" cy="321.3" r="3.1"/><circle cx="173.8" cy="329.6" r="3.1"/><circle cx="181.8" cy="301.4" r="3.1"/><circle cx="198.8" cy="320.9" r="3.1"/><circle cx="198.8" cy="320.8" r="3.1"/><circle cx="173.8" cy="329.1" r="3.1"/><circle cx="215.8" cy="340.3" r="3.1"/><circle cx="181.8" cy="301.1" r="3.1"/><circle cx="499.8" cy="408" r="3.1"/><circle cx="173.8" cy="328.9" r="3.1"/><circle cx="173.8" cy="328.7" r="3.1"/><circle cx="208.7" cy="331.9" r="3.1"/><circle cx="208.7" cy="331.8" r="3.1"/><circle cx="181.8" cy="300.7" r="3.1"/><circle cx="208.7" cy="331.7" r="3.1"/><circle cx="173.8" cy="328.6" r="3.1"/><circle cx="257.7" cy="351.2" r="3.1"/><circle cx="173.8" cy="328.5" r="3.1"/><circle cx="208.7" cy="331.6" r="3.1"/><circle cx="208.7" cy="331.5" r="3.1"/><circle cx="339.5" cy="371" r="3.1"/><circle cx="215.7" cy="339.6" r="3.1"/><circle cx="173.8" cy="328.3" r="3.1"/><circle cx="181.8" cy="300.4" r="3.1"/><circle cx="173.8" cy="328.3" r="3.1"/><circle cx="198.8" cy="320" r="3.1"/><circle cx="173.8" cy="328.1" r="3.1"/><circle cx="208.7" cy="331.2" r="3.1"/><circle cx="173.8" cy="328" r="3.1"/><circle cx="173.8" cy="328" r="3.1"/><circle cx="181.8" cy="300.1" r="3.1"/><circle cx="173.8" cy="327.9" r="3.1"/><circle cx="173.7" cy="327.7" r="3.1"/><circle cx="208.7" cy="330.8" r="3.1"/><circle cx="181.8" cy="299.7" r="3.1"/></g><g fill-opacity=".72" stroke-opacity=".72"><circle cx="173.7" cy="327.6" r="3.1"/><circle cx="173.7" cy="327.5" r="3.1"/><circle cx="181.8" cy="299.5" r="3.1"/><circle cx="173.7" cy="327.4" r="3.1"/><circle cx="298.9" cy="360.4" r="3.1"/><circle cx="215.7" cy="338.5" r="3.1"/><circle cx="221.2" cy="344.8" r="3.1"/><circle cx="173.7" cy="327.2" r="3.1"/><circle cx="261.9" cy="354.6" r="3.1"/><circle cx="181.8" cy="299.2" r="3.1"/><circle cx="181.8" cy="299.2" r="3.1"/><circle cx="181.8" cy="299.2" r="3.1"/><circle cx="173.7" cy="327" r="3.1"/><circle cx="173.7" cy="326.9" r="3.1"/><circle cx="190.7" cy="346.5" r="3.1"/><circle cx="173.7" cy="326.8" r="3.1"/><circle cx="181.8" cy="298.9" r="3.1"/><circle cx="215.7" cy="338" r="3.1"/><circle cx="173.7" cy="326.7" r="3.1"/><circle cx="173.7" cy="326.7" r="3.1"/><circle cx="181.8" cy="298.8" r="3.1"/><circle cx="215.7" cy="337.9" r="3.1"/><circle cx="181.8" cy="298.6" r="3.1"/><circle cx="173.7" cy="326.5" r="3.1"/><circle cx="181.8" cy="298.6" r="3.1"/><circle cx="173.7" cy="326.4" r="3.1"/><circle cx="382.9" cy="382" r="3.1"/><circle cx="173.7" cy="326.4" r="3.1"/><circle cx="181.8" cy="298.5" r="3.1"/><circle cx="173.7" cy="326.3" r="3.1"/><circle cx="215.7" cy="337.6" r="3.1"/><circle cx="173.7" cy="326.3" r="3.1"/><circle cx="173.7" cy="326.2" r="3.1"/><circle cx="181.8" cy="298.2" r="3.1"/><circle cx="173.7" cy="326" r="3.1"/><circle cx="215.7" cy="337.3" r="3.1"/><circle cx="343.4" cy="373.1" r="3.1"/><circle cx="221.2" cy="343.5" r="3.1"/><circle cx="173.7" cy="325.8" r="3.1"/><circle cx="263.2" cy="354.7" r="3.1"/><circle cx="173.7" cy="325.7" r="3.1"/><circle cx="190.7" cy="345.3" r="3.1"/><circle cx="173.7" cy="325.7" r="3.1"/><circle cx="208.6" cy="328.8" r="3.1"/><circle cx="181.7" cy="297.7" r="3.1"/><circle cx="304.5" cy="365.1" r="3.1"/><circle cx="198.7" cy="317.2" r="3.1"/><circle cx="261.9" cy="352.9" r="3.1"/><circle cx="215.7" cy="336.7" r="3.1"/><circle cx="173.7" cy="325.4" r="3.1"/><circle cx="181.7" cy="297.2" r="3.1"/><circle cx="173.7" cy="325.1" r="3.1"/><circle cx="266.6" cy="357.9" r="3.1"/><circle cx="173.7" cy="325" r="3.1"/><circle cx="221.1" cy="342.6" r="3.1"/><circle cx="181.7" cy="297" r="3.1"/><circle cx="268.6" cy="360.1" r="3.1"/><circle cx="173.7" cy="324.8" r="3.1"/><circle cx="173.7" cy="324.8" r="3.1"/><circle cx="265.5" cy="356.3" r="3.1"/><circle cx="181.7" cy="296.7" r="3.1"/><circle cx="198.7" cy="316.2" r="3.1"/><circle cx="173.7" cy="324.4" r="3.1"/><circle cx="173.7" cy="324.4" r="3.1"/><circle cx="173.7" cy="324.3" r="3.1"/><circle cx="265.5" cy="356" r="3.1"/><circle cx="173.7" cy="324.2" r="3.1"/><circle cx="190.6" cy="343.8" r="3.1"/><circle cx="173.7" cy="324.1" r="3.1"/><circle cx="208.6" cy="327.3" r="3.1"/><circle cx="198.7" cy="315.8" r="3.1"/><circle cx="221.1" cy="341.7" r="3.1"/><circle cx="173.7" cy="324" r="3.1"/><circle cx="181.7" cy="296" r="3.1"/><circle cx="189.8" cy="268" r="3.1"/><circle cx="173.6" cy="323.8" r="3.1"/><circle cx="215.7" cy="335.1" r="3.1"/><circle cx="173.6" cy="323.8" r="3.1"/><circle cx="173.6" cy="323.6" r="3.1"/><circle cx="173.6" cy="323.6" r="3.1"/><circle cx="173.6" cy="323.4" r="3.1"/><circle cx="173.6" cy="323.2" r="3.1"/><circle cx="173.6" cy="323.2" r="3.1"/><circle cx="347.9" cy="375.5" r="3.1"/><circle cx="428" cy="393.6" r="3.1"/><circle cx="173.6" cy="323" r="3.1"/><circle cx="173.6" cy="323" r="3.1"/><circle cx="221.1" cy="340.6" r="3.1"/><circle cx="308.3" cy="366.8" r="3.1"/><circle cx="225.6" cy="345.7" r="3.1"/><circle cx="181.7" cy="295" r="3.1"/><circle cx="208.6" cy="326" r="3.1"/><circle cx="181.7" cy="294.9" r="3.1"/><circle cx="173.6" cy="322.8" r="3.1"/><circle cx="215.6" cy="333.9" r="3.1"/><circle cx="221.1" cy="340.2" r="3.1"/><circle cx="181.7" cy="294.7" r="3.1"/><circle cx="173.6" cy="322.6" r="3.1"/><circle cx="173.6" cy="322.6" r="3.1"/><circle cx="181.7" cy="294.6" r="3.1"/><circle cx="208.6" cy="325.6" r="3.1"/><circle cx="173.6" cy="322.4" r="3.1"/><circle cx="311.3" cy="369.7" r="3.1"/><circle cx="173.6" cy="322.3" r="3.1"/><circle cx="173.6" cy="322.3" r="3.1"/><circle cx="173.6" cy="322.2" r="3.1"/><circle cx="181.7" cy="294.2" r="3.1"/><circle cx="173.6" cy="322.1" r="3.1"/><circle cx="173.6" cy="322" r="3.1"/><circle cx="190.6" cy="341.6" r="3.1"/><circle cx="173.6" cy="322" r="3.1"/><circle cx="181.7" cy="294" r="3.1"/><circle cx="173.6" cy="321.8" r="3.1"/><circle cx="173.6" cy="321.7" r="3.1"/><circle cx="271.4" cy="360.1" r="3.1"/><circle cx="181.6" cy="293.6" r="3.1"/><circle cx="173.6" cy="321.5" r="3.1"/><circle cx="225.6" cy="344.3" r="3.1"/><circle cx="173.6" cy="321.4" r="3.1"/><circle cx="181.6" cy="293.5" r="3.1"/><circle cx="173.6" cy="321.4" r="3.1"/><circle cx="173.6" cy="321.4" r="3.1"/><circle cx="181.6" cy="293.4" r="3.1"/><circle cx="225.5" cy="344.1" r="3.1"/><circle cx="221.1" cy="339" r="3.1"/><circle cx="173.6" cy="321.3" r="3.1"/><circle cx="181.6" cy="293.3" r="3.1"/><circle cx="221.1" cy="338.8" r="3.1"/><circle cx="181.6" cy="293.2" r="3.1"/><circle cx="190.6" cy="340.7" r="3.1"/><circle cx="173.6" cy="321" r="3.1"/><circle cx="312" cy="369.2" r="3.1"/><circle cx="181.6" cy="293" r="3.1"/><circle cx="173.6" cy="320.7" r="3.1"/><circle cx="221.1" cy="338.2" r="3.1"/><circle cx="181.6" cy="292.6" r="3.1"/><circle cx="181.6" cy="292.5" r="3.1"/><circle cx="173.6" cy="320.4" r="3.1"/><circle cx="232.6" cy="351.3" r="3.1"/><circle cx="200.5" cy="351.3" r="3.1"/><circle cx="190.5" cy="339.8" r="3.1"/><circle cx="173.5" cy="320.1" r="3.1"/><circle cx="225.5" cy="342.9" r="3.1"/><circle cx="173.5" cy="320.1" r="3.1"/><circle cx="190.5" cy="339.6" r="3.1"/><circle cx="173.5" cy="319.8" r="3.1"/><circle cx="229.3" cy="346.9" r="3.1"/><circle cx="190.5" cy="339.4" r="3.1"/><circle cx="173.5" cy="319.7" r="3.1"/><circle cx="173.5" cy="319.7" r="3.1"/><circle cx="393.2" cy="387.1" r="3.1"/><circle cx="269.5" cy="356" r="3.1"/><circle cx="181.6" cy="291.6" r="3.1"/><circle cx="190.5" cy="339.1" r="3.1"/><circle cx="353.6" cy="378.4" r="3.1"/><circle cx="181.6" cy="291.5" r="3.1"/><circle cx="173.5" cy="319.4" r="3.1"/><circle cx="173.5" cy="319.4" r="3.1"/><circle cx="173.5" cy="319.3" r="3.1"/><circle cx="229.3" cy="346.5" r="3.1"/><circle cx="190.5" cy="338.9" r="3.1"/><circle cx="173.5" cy="319.3" r="3.1"/><circle cx="313.4" cy="369" r="3.1"/><circle cx="272.2" cy="358.6" r="3.1"/><circle cx="173.5" cy="319.1" r="3.1"/><circle cx="173.5" cy="319.1" r="3.1"/><circle cx="190.5" cy="338.7" r="3.1"/><circle cx="225.5" cy="341.8" r="3.1"/><circle cx="190.5" cy="338.6" r="3.1"/><circle cx="190.5" cy="338.5" r="3.1"/><circle cx="173.5" cy="318.8" r="3.1"/><circle cx="181.6" cy="290.8" r="3.1"/><circle cx="200.4" cy="349.8" r="3.1"/><circle cx="229.3" cy="345.8" r="3.1"/><circle cx="235.4" cy="352.7" r="3.1"/><circle cx="190.5" cy="338" r="3.1"/><circle cx="190.5" cy="337.9" r="3.1"/><circle cx="190.5" cy="337.8" r="3.1"/><circle cx="190.5" cy="337.7" r="3.1"/><circle cx="173.5" cy="318.1" r="3.1"/><circle cx="190.5" cy="337.6" r="3.1"/><circle cx="165.4" cy="345.9" r="3.1"/><circle cx="173.5" cy="318" r="3.1"/><circle cx="173.5" cy="317.9" r="3.1"/><circle cx="181.5" cy="289.8" r="3.1"/><circle cx="229.3" cy="344.7" r="3.1"/><circle cx="229.3" cy="344.6" r="3.1"/><circle cx="232.5" cy="348.4" r="3.1"/><circle cx="173.5" cy="317.4" r="3.1"/><circle cx="189.6" cy="261.5" r="3.1"/><circle cx="173.5" cy="317.4" r="3.1"/><circle cx="190.5" cy="336.9" r="3.1"/><circle cx="173.5" cy="317.2" r="3.1"/><circle cx="173.5" cy="317.2" r="3.1"/><circle cx="276.1" cy="361.1" r="3.1"/><circle cx="200.4" cy="348.2" r="3.1"/><circle cx="165.4" cy="345" r="3.1"/><circle cx="173.5" cy="317.1" r="3.1"/><circle cx="181.5" cy="289.1" r="3.1"/><circle cx="173.5" cy="317" r="3.1"/><circle cx="173.5" cy="317" r="3.1"/><circle cx="173.5" cy="316.8" r="3.1"/><circle cx="235.4" cy="351.1" r="3.1"/><circle cx="221" cy="334.4" r="3.1"/><circle cx="173.5" cy="316.7" r="3.1"/><circle cx="173.5" cy="316.7" r="3.1"/><circle cx="235.4" cy="350.9" r="3.1"/><circle cx="232.5" cy="347.6" r="3.1"/><circle cx="229.2" cy="343.8" r="3.1"/><circle cx="190.5" cy="336.2" r="3.1"/><circle cx="215.5" cy="327.9" r="3.1"/><circle cx="319" cy="372.8" r="3.1"/><circle cx="225.5" cy="339.2" r="3.1"/><circle cx="221" cy="334" r="3.1"/><circle cx="358.7" cy="381.2" r="3.1"/><circle cx="173.4" cy="316.3" r="3.1"/><circle cx="165.4" cy="344.2" r="3.1"/><circle cx="173.4" cy="316.2" r="3.1"/><circle cx="225.5" cy="339" r="3.1"/><circle cx="181.5" cy="288.2" r="3.1"/><circle cx="190.4" cy="335.8" r="3.1"/><circle cx="190.4" cy="335.6" r="3.1"/><circle cx="207.4" cy="355" r="3.1"/><circle cx="280.7" cy="365" r="3.1"/><circle cx="190.4" cy="335.3" r="3.1"/><circle cx="221" cy="333.3" r="3.1"/><circle cx="173.4" cy="315.6" r="3.1"/><circle cx="235.4" cy="349.9" r="3.1"/><circle cx="165.4" cy="343.4" r="3.1"/><circle cx="190.4" cy="335" r="3.1"/><circle cx="280.1" cy="363.9" r="3.1"/><circle cx="190.4" cy="334.9" r="3.1"/><circle cx="173.4" cy="315.2" r="3.1"/><circle cx="173.4" cy="315.1" r="3.1"/><circle cx="190.4" cy="334.8" r="3.1"/><circle cx="181.5" cy="287.1" r="3.1"/><circle cx="181.5" cy="287" r="3.1"/><circle cx="200.4" cy="346.1" r="3.1"/><circle cx="173.4" cy="314.9" r="3.1"/><circle cx="181.5" cy="286.9" r="3.1"/><circle cx="190.4" cy="334.5" r="3.1"/><circle cx="190.4" cy="334.4" r="3.1"/><circle cx="173.4" cy="314.8" r="3.1"/><circle cx="278.1" cy="361" r="3.1"/><circle cx="229.2" cy="341.8" r="3.1"/><circle cx="165.3" cy="342.5" r="3.1"/><circle cx="173.4" cy="314.5" r="3.1"/><circle cx="173.4" cy="314.5" r="3.1"/><circle cx="173.4" cy="314.5" r="3.1"/><circle cx="181.5" cy="286.5" r="3.1"/><circle cx="173.4" cy="314.5" r="3.1"/><circle cx="200.4" cy="345.5" r="3.1"/><circle cx="190.4" cy="334" r="3.1"/><circle cx="278.1" cy="360.7" r="3.1"/><circle cx="207.4" cy="353.4" r="3.1"/><circle cx="200.3" cy="345.2" r="3.1"/><circle cx="173.4" cy="314.1" r="3.1"/><circle cx="165.3" cy="342" r="3.1"/><circle cx="190.4" cy="333.6" r="3.1"/><circle cx="322.9" cy="374.8" r="3.1"/><circle cx="173.4" cy="313.9" r="3.1"/><circle cx="173.4" cy="313.9" r="3.1"/><circle cx="232.5" cy="344.8" r="3.1"/><circle cx="238" cy="351.2" r="3.1"/><circle cx="240.3" cy="353.8" r="3.1"/><circle cx="165.3" cy="341.7" r="3.1"/><circle cx="190.4" cy="333.3" r="3.1"/><circle cx="173.4" cy="313.7" r="3.1"/><circle cx="200.3" cy="344.8" r="3.1"/><circle cx="181.4" cy="285.7" r="3.1"/><circle cx="173.4" cy="313.6" r="3.1"/><circle cx="165.3" cy="341.5" r="3.1"/><circle cx="200.3" cy="344.7" r="3.1"/><circle cx="190.4" cy="333.1" r="3.1"/><circle cx="173.4" cy="313.3" r="3.1"/><circle cx="190.4" cy="332.9" r="3.1"/><circle cx="173.4" cy="313.2" r="3.1"/><circle cx="173.4" cy="313.2" r="3.1"/><circle cx="190.4" cy="332.8" r="3.1"/><circle cx="190.4" cy="332.7" r="3.1"/><circle cx="237.9" cy="350.3" r="3.1"/><circle cx="165.3" cy="340.9" r="3.1"/><circle cx="404" cy="392.8" r="3.1"/><circle cx="200.3" cy="344" r="3.1"/><circle cx="237.9" cy="350.1" r="3.1"/><circle cx="173.4" cy="312.8" r="3.1"/><circle cx="181.4" cy="284.8" r="3.1"/><circle cx="165.3" cy="340.7" r="3.1"/><circle cx="190.4" cy="332.2" r="3.1"/><circle cx="207.4" cy="351.9" r="3.1"/><circle cx="165.3" cy="340.5" r="3.1"/><circle cx="190.4" cy="332.2" r="3.1"/><circle cx="200.3" cy="343.7" r="3.1"/><circle cx="190.4" cy="332.1" r="3.1"/><circle cx="189.5" cy="256.5" r="3.1"/><circle cx="190.4" cy="332" r="3.1"/><circle cx="173.3" cy="312.4" r="3.1"/><circle cx="200.3" cy="343.4" r="3.1"/><circle cx="190.3" cy="331.8" r="3.1"/><circle cx="165.3" cy="340.1" r="3.1"/><circle cx="200.3" cy="343.3" r="3.1"/><circle cx="190.3" cy="331.6" r="3.1"/><circle cx="200.3" cy="343.1" r="3.1"/><circle cx="181.4" cy="283.9" r="3.1"/><circle cx="200.3" cy="342.9" r="3.1"/><circle cx="237.9" cy="348.9" r="3.1"/><circle cx="165.2" cy="339.5" r="3.1"/><circle cx="173.3" cy="311.5" r="3.1"/><circle cx="242.4" cy="354" r="3.1"/><circle cx="285" cy="365.8" r="3.1"/><circle cx="237.9" cy="348.6" r="3.1"/><circle cx="173.3" cy="311.3" r="3.1"/><circle cx="165.2" cy="339.2" r="3.1"/><circle cx="173.3" cy="311.3" r="3.1"/><circle cx="190.3" cy="330.9" r="3.1"/><circle cx="200.3" cy="342.4" r="3.1"/><circle cx="240.3" cy="351.2" r="3.1"/><circle cx="173.3" cy="311.1" r="3.1"/><circle cx="181.4" cy="283.1" r="3.1"/><circle cx="165.2" cy="339" r="3.1"/><circle cx="165.2" cy="338.9" r="3.1"/><circle cx="173.3" cy="310.9" r="3.1"/><circle cx="366.8" cy="385.1" r="3.1"/><circle cx="190.3" cy="330.5" r="3.1"/><circle cx="165.2" cy="338.8" r="3.1"/><circle cx="200.3" cy="341.9" r="3.1"/><circle cx="173.3" cy="310.7" r="3.1"/><circle cx="165.2" cy="338.6" r="3.1"/><circle cx="165.2" cy="338.6" r="3.1"/><circle cx="181.4" cy="282.6" r="3.1"/><circle cx="173.3" cy="310.5" r="3.1"/><circle cx="165.2" cy="338.5" r="3.1"/><circle cx="190.3" cy="329.9" r="3.1"/><circle cx="207.3" cy="349.6" r="3.1"/><circle cx="190.3" cy="329.9" r="3.1"/><circle cx="173.3" cy="310.1" r="3.1"/><circle cx="165.2" cy="338" r="3.1"/><circle cx="246.2" cy="356.6" r="3.1"/><circle cx="207.3" cy="349" r="3.1"/><circle cx="165.2" cy="337.5" r="3.1"/><circle cx="165.2" cy="337.4" r="3.1"/><circle cx="207.3" cy="348.7" r="3.1"/><circle cx="165.2" cy="337.4" r="3.1"/><circle cx="190.3" cy="329" r="3.1"/><circle cx="181.3" cy="281.4" r="3.1"/><circle cx="173.3" cy="309.3" r="3.1"/><circle cx="165.2" cy="337.2" r="3.1"/><circle cx="190.3" cy="328.9" r="3.1"/><circle cx="173.3" cy="309.1" r="3.1"/><circle cx="449.8" cy="404.6" r="3.1"/><circle cx="200.2" cy="340.1" r="3.1"/><circle cx="200.2" cy="340" r="3.1"/><circle cx="329.8" cy="377.7" r="3.1"/><circle cx="200.2" cy="340" r="3.1"/><circle cx="173.2" cy="308.8" r="3.1"/><circle cx="247.8" cy="357.6" r="3.1"/><circle cx="173.2" cy="308.8" r="3.1"/><circle cx="173.2" cy="308.7" r="3.1"/><circle cx="190.3" cy="328.3" r="3.1"/><circle cx="286.9" cy="365.1" r="3.1"/><circle cx="207.3" cy="347.8" r="3.1"/><circle cx="165.2" cy="336.4" r="3.1"/><circle cx="181.3" cy="280.4" r="3.1"/><circle cx="331.5" cy="379.2" r="3.1"/><circle cx="212.8" cy="354" r="3.1"/><circle cx="207.3" cy="347.7" r="3.1"/><circle cx="165.2" cy="336.3" r="3.1"/><circle cx="165.2" cy="336.3" r="3.1"/><circle cx="165.2" cy="336.2" r="3.1"/><circle cx="173.2" cy="308.2" r="3.1"/><circle cx="190.3" cy="327.9" r="3.1"/><circle cx="200.2" cy="339.2" r="3.1"/><circle cx="173.2" cy="308" r="3.1"/><circle cx="200.2" cy="339.2" r="3.1"/><circle cx="165.1" cy="336" r="3.1"/><circle cx="244.3" cy="352.7" r="3.1"/><circle cx="207.3" cy="347.2" r="3.1"/><circle cx="173.2" cy="307.8" r="3.1"/><circle cx="246.1" cy="354.7" r="3.1"/><circle cx="200.2" cy="339" r="3.1"/><circle cx="173.2" cy="307.8" r="3.1"/><circle cx="290.4" cy="368.4" r="3.1"/><circle cx="173.2" cy="307.7" r="3.1"/><circle cx="165.1" cy="335.6" r="3.1"/><circle cx="212.8" cy="353.3" r="3.1"/><circle cx="181.3" cy="279.6" r="3.1"/><circle cx="492.9" cy="415.5" r="3.1"/><circle cx="291.9" cy="369.8" r="3.1"/><circle cx="165.1" cy="335.4" r="3.1"/><circle cx="165.1" cy="335.3" r="3.1"/><circle cx="190.2" cy="327" r="3.1"/><circle cx="200.2" cy="338.4" r="3.1"/><circle cx="173.2" cy="307.2" r="3.1"/><circle cx="207.3" cy="346.5" r="3.1"/><circle cx="165.1" cy="335.2" r="3.1"/><circle cx="190.2" cy="326.8" r="3.1"/><circle cx="165.1" cy="335.1" r="3.1"/><circle cx="165.1" cy="335" r="3.1"/><circle cx="165.1" cy="335" r="3.1"/><circle cx="181.3" cy="278.8" r="3.1"/><circle cx="207.2" cy="346" r="3.1"/><circle cx="247.8" cy="355.4" r="3.1"/><circle cx="165.1" cy="334.3" r="3.1"/><circle cx="182.1" cy="354" r="3.1"/><circle cx="374.1" cy="389" r="3.1"/><circle cx="173.2" cy="306.3" r="3.1"/><circle cx="165.1" cy="334.2" r="3.1"/><circle cx="242.3" cy="348.7" r="3.1"/><circle cx="207.2" cy="345.5" r="3.1"/><circle cx="190.2" cy="325.9" r="3.1"/><circle cx="189.3" cy="250.2" r="3.1"/><circle cx="165.1" cy="334.1" r="3.1"/><circle cx="294.1" cy="371" r="3.1"/><circle cx="165.1" cy="334" r="3.1"/><circle cx="200.2" cy="337.2" r="3.1"/><circle cx="212.7" cy="351.6" r="3.1"/><circle cx="181.2" cy="277.9" r="3.1"/><circle cx="165.1" cy="333.8" r="3.1"/><circle cx="200.2" cy="336.8" r="3.1"/><circle cx="165.1" cy="333.6" r="3.1"/><circle cx="173.2" cy="305.6" r="3.1"/><circle cx="165.1" cy="333.5" r="3.1"/><circle cx="207.2" cy="344.8" r="3.1"/><circle cx="200.2" cy="336.7" r="3.1"/><circle cx="207.2" cy="344.7" r="3.1"/><circle cx="165.1" cy="333.3" r="3.1"/><circle cx="296.4" cy="372.9" r="3.1"/><circle cx="165.1" cy="333.2" r="3.1"/><circle cx="200.2" cy="336.4" r="3.1"/><circle cx="250.9" cy="357.6" r="3.1"/><circle cx="165.1" cy="333.1" r="3.1"/><circle cx="173.1" cy="305.1" r="3.1"/><circle cx="165.1" cy="333.1" r="3.1"/><circle cx="165.1" cy="333" r="3.1"/><circle cx="294.1" cy="370" r="3.1"/><circle cx="165.1" cy="332.9" r="3.1"/><circle cx="207.2" cy="344.2" r="3.1"/><circle cx="173.1" cy="304.8" r="3.1"/><circle cx="182.1" cy="352.5" r="3.1"/><circle cx="181.2" cy="276.7" r="3.1"/><circle cx="181.2" cy="276.5" r="3.1"/><circle cx="165" cy="332.4" r="3.1"/><circle cx="173.1" cy="304.4" r="3.1"/><circle cx="165" cy="332.2" r="3.1"/><circle cx="252.3" cy="358.2" r="3.1"/><circle cx="165" cy="332.2" r="3.1"/><circle cx="165" cy="332.1" r="3.1"/><circle cx="200.1" cy="335.3" r="3.1"/><circle cx="165" cy="332" r="3.1"/><circle cx="212.7" cy="349.5" r="3.1"/><circle cx="173.1" cy="303.8" r="3.1"/><circle cx="165" cy="331.7" r="3.1"/><circle cx="165" cy="331.7" r="3.1"/><circle cx="250.8" cy="355.9" r="3.1"/><circle cx="165" cy="331.4" r="3.1"/><circle cx="165" cy="331.4" r="3.1"/><circle cx="181.2" cy="275.3" r="3.1"/><circle cx="165" cy="331.3" r="3.1"/><circle cx="207.2" cy="342.7" r="3.1"/><circle cx="200.1" cy="334.4" r="3.1"/><circle cx="182.1" cy="350.9" r="3.1"/><circle cx="165" cy="331.1" r="3.1"/><circle cx="165" cy="331.1" r="3.1"/><circle cx="173.1" cy="302.9" r="3.1"/><circle cx="419.5" cy="400.6" r="3.1"/><circle cx="165" cy="330.7" r="3.1"/><circle cx="165" cy="330.7" r="3.1"/><circle cx="165" cy="330.6" r="3.1"/><circle cx="181.2" cy="274.5" r="3.1"/><circle cx="250.8" cy="354.8" r="3.1"/><circle cx="173.1" cy="302.3" r="3.1"/><circle cx="257.2" cy="362" r="3.1"/><circle cx="165" cy="330.1" r="3.1"/><circle cx="165" cy="330" r="3.1"/><circle cx="165" cy="330" r="3.1"/><circle cx="217.1" cy="352.8" r="3.1"/><circle cx="182" cy="349.6" r="3.1"/><circle cx="256" cy="360.3" r="3.1"/><circle cx="165" cy="329.8" r="3.1"/><circle cx="165" cy="329.8" r="3.1"/><circle cx="212.6" cy="347.5" r="3.1"/><circle cx="190.1" cy="321.4" r="3.1"/><circle cx="340.4" cy="382.9" r="3.1"/><circle cx="165" cy="329.7" r="3.1"/><circle cx="207.1" cy="341" r="3.1"/><circle cx="165" cy="329.6" r="3.1"/><circle cx="181.1" cy="273.6" r="3.1"/><circle cx="212.6" cy="347.3" r="3.1"/><circle cx="165" cy="329.6" r="3.1"/><circle cx="182" cy="349.1" r="3.1"/><circle cx="217.1" cy="352.2" r="3.1"/><circle cx="165" cy="329.3" r="3.1"/><circle cx="165" cy="329.2" r="3.1"/><circle cx="173" cy="301.2" r="3.1"/><circle cx="181.1" cy="273.2" r="3.1"/><circle cx="250.8" cy="353.5" r="3.1"/><circle cx="165" cy="329.1" r="3.1"/><circle cx="165" cy="329" r="3.1"/><circle cx="165" cy="329" r="3.1"/><circle cx="258.2" cy="362" r="3.1"/><circle cx="164.9" cy="328.9" r="3.1"/><circle cx="220.9" cy="355.9" r="3.1"/><circle cx="217.1" cy="351.5" r="3.1"/><circle cx="253.5" cy="356.2" r="3.1"/><circle cx="182" cy="348.2" r="3.1"/><circle cx="164.9" cy="328.5" r="3.1"/><circle cx="301.2" cy="373.7" r="3.1"/><circle cx="217.1" cy="351.3" r="3.1"/><circle cx="173" cy="300.3" r="3.1"/><circle cx="164.9" cy="328.3" r="3.1"/><circle cx="164.9" cy="328.3" r="3.1"/><circle cx="207.1" cy="339.6" r="3.1"/><circle cx="217.1" cy="351" r="3.1"/><circle cx="190.1" cy="319.6" r="3.1"/><circle cx="190.1" cy="319.5" r="3.1"/><circle cx="164.9" cy="327.8" r="3.1"/><circle cx="190.1" cy="319.5" r="3.1"/><circle cx="173" cy="299.8" r="3.1"/><circle cx="164.9" cy="327.8" r="3.1"/><circle cx="212.6" cy="345.4" r="3.1"/><circle cx="164.9" cy="327.5" r="3.1"/><circle cx="261.2" cy="364" r="3.1"/><circle cx="164.9" cy="327.5" r="3.1"/><circle cx="181.1" cy="271.4" r="3.1"/><circle cx="220.9" cy="354.7" r="3.1"/><circle cx="258.2" cy="360.5" r="3.1"/><circle cx="344.5" cy="385.3" r="3.1"/><circle cx="254.8" cy="356.4" r="3.1"/><circle cx="191.9" cy="358.5" r="3.1"/><circle cx="257.1" cy="359" r="3.1"/><circle cx="182" cy="346.9" r="3.1"/><circle cx="384.8" cy="394.2" r="3.1"/><circle cx="164.9" cy="327.1" r="3.1"/><circle cx="164.9" cy="327" r="3.1"/><circle cx="217.1" cy="349.9" r="3.1"/><circle cx="164.9" cy="326.9" r="3.1"/><circle cx="164.9" cy="326.9" r="3.1"/><circle cx="181.9" cy="346.6" r="3.1"/><circle cx="164.9" cy="326.8" r="3.1"/><circle cx="164.9" cy="326.7" r="3.1"/><circle cx="164.9" cy="326.7" r="3.1"/><circle cx="260.3" cy="362.1" r="3.1"/><circle cx="173" cy="298.6" r="3.1"/><circle cx="220.9" cy="353.8" r="3.1"/><circle cx="181.9" cy="346.1" r="3.1"/><circle cx="164.9" cy="326.3" r="3.1"/><circle cx="164.9" cy="326.1" r="3.1"/><circle cx="220.8" cy="353.2" r="3.1"/><circle cx="181.9" cy="345.6" r="3.1"/><circle cx="164.9" cy="325.9" r="3.1"/><circle cx="212.6" cy="343.6" r="3.1"/><circle cx="164.9" cy="325.9" r="3.1"/><circle cx="164.9" cy="325.8" r="3.1"/><circle cx="181" cy="269.7" r="3.1"/><circle cx="181.9" cy="345.4" r="3.1"/><circle cx="191.9" cy="356.9" r="3.1"/><circle cx="164.9" cy="325.7" r="3.1"/><circle cx="220.8" cy="352.9" r="3.1"/><circle cx="164.9" cy="325.6" r="3.1"/><circle cx="172.9" cy="297.5" r="3.1"/><circle cx="164.9" cy="325.4" r="3.1"/></g><g fill-opacity=".76" stroke-opacity=".76"><circle cx="164.9" cy="325.4" r="3.1"/><circle cx="181.9" cy="344.9" r="3.1"/><circle cx="164.8" cy="325.2" r="3.1"/><circle cx="181.9" cy="344.8" r="3.1"/><circle cx="164.8" cy="325.1" r="3.1"/><circle cx="227" cy="359.5" r="3.1"/><circle cx="156.7" cy="353" r="3.1"/><circle cx="172.9" cy="296.9" r="3.1"/><circle cx="306.7" cy="376.6" r="3.1"/><circle cx="164.8" cy="324.8" r="3.1"/><circle cx="181.9" cy="344.4" r="3.1"/><circle cx="181.9" cy="344.2" r="3.1"/><circle cx="224.1" cy="355.5" r="3.1"/><circle cx="164.8" cy="324.4" r="3.1"/><circle cx="181.9" cy="344.1" r="3.1"/><circle cx="164.8" cy="324.3" r="3.1"/><circle cx="224.1" cy="355.4" r="3.1"/><circle cx="164.8" cy="324.3" r="3.1"/><circle cx="172.9" cy="296.2" r="3.1"/><circle cx="227" cy="358.7" r="3.1"/><circle cx="220.8" cy="351.5" r="3.1"/><circle cx="172.9" cy="296.1" r="3.1"/><circle cx="191.9" cy="355.4" r="3.1"/><circle cx="181" cy="268.1" r="3.1"/><circle cx="156.7" cy="352.1" r="3.1"/><circle cx="207" cy="335.4" r="3.1"/><circle cx="264.7" cy="364.5" r="3.1"/><circle cx="220.8" cy="351.1" r="3.1"/><circle cx="164.8" cy="323.8" r="3.1"/><circle cx="267.1" cy="367.1" r="3.1"/><circle cx="164.8" cy="323.7" r="3.1"/><circle cx="181.9" cy="343.4" r="3.1"/><circle cx="172.9" cy="295.6" r="3.1"/><circle cx="172.9" cy="295.5" r="3.1"/><circle cx="172.9" cy="295.5" r="3.1"/><circle cx="181.9" cy="343.2" r="3.1"/><circle cx="309.3" cy="378.1" r="3.1"/><circle cx="181.9" cy="343.1" r="3.1"/><circle cx="164.8" cy="323.3" r="3.1"/><circle cx="181.9" cy="342.9" r="3.1"/><circle cx="220.8" cy="350.3" r="3.1"/><circle cx="181.8" cy="342.7" r="3.1"/><circle cx="164.8" cy="322.9" r="3.1"/><circle cx="156.7" cy="351" r="3.1"/><circle cx="164.8" cy="322.9" r="3.1"/><circle cx="181.8" cy="342.6" r="3.1"/><circle cx="198.9" cy="362.1" r="3.1"/><circle cx="351.5" cy="388.7" r="3.1"/><circle cx="310.9" cy="379.3" r="3.1"/><circle cx="164.8" cy="322.6" r="3.1"/><circle cx="191.8" cy="353.8" r="3.1"/><circle cx="227" cy="357" r="3.1"/><circle cx="181.8" cy="342.3" r="3.1"/><circle cx="164.8" cy="322.5" r="3.1"/><circle cx="224.1" cy="353.5" r="3.1"/><circle cx="156.7" cy="350.4" r="3.1"/><circle cx="172.9" cy="294.3" r="3.1"/><circle cx="181.8" cy="342" r="3.1"/><circle cx="181.8" cy="342" r="3.1"/><circle cx="156.7" cy="350.3" r="3.1"/><circle cx="164.8" cy="322.2" r="3.1"/><circle cx="181.8" cy="341.9" r="3.1"/><circle cx="164.8" cy="322.1" r="3.1"/><circle cx="156.7" cy="350.1" r="3.1"/><circle cx="181.8" cy="341.7" r="3.1"/><circle cx="164.8" cy="321.9" r="3.1"/><circle cx="164.8" cy="321.9" r="3.1"/><circle cx="265.5" cy="363.4" r="3.1"/><circle cx="229.5" cy="359.2" r="3.1"/><circle cx="164.8" cy="321.8" r="3.1"/><circle cx="220.8" cy="349.1" r="3.1"/><circle cx="164.7" cy="321.7" r="3.1"/><circle cx="226.9" cy="356.1" r="3.1"/><circle cx="172.8" cy="293.5" r="3.1"/><circle cx="181.8" cy="341.1" r="3.1"/><circle cx="180.9" cy="265.3" r="3.1"/><circle cx="191.8" cy="352.6" r="3.1"/><circle cx="181.8" cy="341.1" r="3.1"/><circle cx="181.8" cy="341" r="3.1"/><circle cx="164.7" cy="321.2" r="3.1"/><circle cx="156.6" cy="349.3" r="3.1"/><circle cx="198.9" cy="360.6" r="3.1"/><circle cx="181.8" cy="340.9" r="3.1"/><circle cx="181.8" cy="340.8" r="3.1"/><circle cx="164.7" cy="321.1" r="3.1"/><circle cx="269.2" cy="366.7" r="3.1"/><circle cx="164.7" cy="320.9" r="3.1"/><circle cx="226.9" cy="355.3" r="3.1"/><circle cx="181.8" cy="340.6" r="3.1"/><circle cx="156.6" cy="348.9" r="3.1"/><circle cx="181.8" cy="340.5" r="3.1"/><circle cx="164.7" cy="320.8" r="3.1"/><circle cx="181.8" cy="340.5" r="3.1"/><circle cx="156.6" cy="348.8" r="3.1"/><circle cx="181.8" cy="340.4" r="3.1"/><circle cx="172.8" cy="292.6" r="3.1"/><circle cx="156.6" cy="348.6" r="3.1"/><circle cx="181.8" cy="340.3" r="3.1"/><circle cx="229.5" cy="358" r="3.1"/><circle cx="181.8" cy="340.2" r="3.1"/><circle cx="164.7" cy="320.3" r="3.1"/><circle cx="156.6" cy="348.3" r="3.1"/><circle cx="181.8" cy="339.8" r="3.1"/><circle cx="181.8" cy="339.8" r="3.1"/><circle cx="156.6" cy="348.1" r="3.1"/><circle cx="156.6" cy="348" r="3.1"/><circle cx="181.8" cy="339.6" r="3.1"/><circle cx="164.7" cy="319.9" r="3.1"/><circle cx="164.7" cy="319.9" r="3.1"/><circle cx="172.8" cy="291.7" r="3.1"/><circle cx="164.7" cy="319.8" r="3.1"/><circle cx="164.7" cy="319.7" r="3.1"/><circle cx="156.6" cy="347.7" r="3.1"/><circle cx="198.8" cy="359" r="3.1"/><circle cx="156.6" cy="347.6" r="3.1"/><circle cx="191.8" cy="350.8" r="3.1"/><circle cx="164.7" cy="319.5" r="3.1"/><circle cx="156.6" cy="347.6" r="3.1"/><circle cx="231.9" cy="359.6" r="3.1"/><circle cx="156.6" cy="347.5" r="3.1"/><circle cx="181.8" cy="339.1" r="3.1"/><circle cx="236" cy="364.2" r="3.1"/><circle cx="164.7" cy="319.3" r="3.1"/><circle cx="231.9" cy="359.4" r="3.1"/><circle cx="172.8" cy="291.1" r="3.1"/><circle cx="269.2" cy="365" r="3.1"/><circle cx="191.7" cy="350.4" r="3.1"/><circle cx="156.6" cy="347.1" r="3.1"/><circle cx="191.7" cy="350.3" r="3.1"/><circle cx="274.7" cy="371.2" r="3.1"/><circle cx="181.7" cy="338.7" r="3.1"/><circle cx="164.7" cy="319" r="3.1"/><circle cx="273" cy="369.2" r="3.1"/><circle cx="397.4" cy="400.5" r="3.1"/><circle cx="164.7" cy="318.8" r="3.1"/><circle cx="164.7" cy="318.8" r="3.1"/><circle cx="156.6" cy="346.8" r="3.1"/><circle cx="191.7" cy="350" r="3.1"/><circle cx="164.7" cy="318.5" r="3.1"/><circle cx="156.6" cy="346.6" r="3.1"/><circle cx="156.6" cy="346.5" r="3.1"/><circle cx="164.7" cy="318.4" r="3.1"/><circle cx="156.6" cy="346.4" r="3.1"/><circle cx="236" cy="363.3" r="3.1"/><circle cx="164.7" cy="318.3" r="3.1"/><circle cx="164.7" cy="318.3" r="3.1"/><circle cx="156.5" cy="346.3" r="3.1"/><circle cx="156.5" cy="346.2" r="3.1"/><circle cx="275.2" cy="370.9" r="3.1"/><circle cx="358.5" cy="392.3" r="3.1"/><circle cx="172.7" cy="290" r="3.1"/><circle cx="156.5" cy="346.1" r="3.1"/><circle cx="164.6" cy="318.1" r="3.1"/><circle cx="198.8" cy="357.5" r="3.1"/><circle cx="164.6" cy="318" r="3.1"/><circle cx="231.8" cy="358.2" r="3.1"/><circle cx="156.5" cy="346.1" r="3.1"/><circle cx="164.6" cy="317.9" r="3.1"/><circle cx="164.6" cy="317.9" r="3.1"/><circle cx="191.7" cy="349.2" r="3.1"/><circle cx="156.5" cy="345.9" r="3.1"/><circle cx="164.6" cy="317.8" r="3.1"/><circle cx="181.7" cy="337.4" r="3.1"/><circle cx="156.5" cy="345.7" r="3.1"/><circle cx="191.7" cy="348.8" r="3.1"/><circle cx="156.5" cy="345.6" r="3.1"/><circle cx="273.5" cy="368.3" r="3.1"/><circle cx="172.7" cy="289.3" r="3.1"/><circle cx="164.6" cy="317.2" r="3.1"/><circle cx="156.5" cy="345.3" r="3.1"/><circle cx="156.5" cy="345.2" r="3.1"/><circle cx="319.3" cy="383.4" r="3.1"/><circle cx="156.5" cy="345.1" r="3.1"/><circle cx="181.7" cy="336.8" r="3.1"/><circle cx="164.6" cy="317" r="3.1"/><circle cx="156.5" cy="345.1" r="3.1"/><circle cx="164.6" cy="316.9" r="3.1"/><circle cx="156.5" cy="345" r="3.1"/><circle cx="156.5" cy="344.9" r="3.1"/><circle cx="191.7" cy="348.1" r="3.1"/><circle cx="181.7" cy="336.6" r="3.1"/><circle cx="172.7" cy="288.7" r="3.1"/><circle cx="156.5" cy="344.9" r="3.1"/><circle cx="164.6" cy="316.8" r="3.1"/><circle cx="318.9" cy="382.4" r="3.1"/><circle cx="198.8" cy="355.9" r="3.1"/><circle cx="180.8" cy="260.3" r="3.1"/><circle cx="164.6" cy="316.4" r="3.1"/><circle cx="164.6" cy="316.4" r="3.1"/><circle cx="156.5" cy="344.5" r="3.1"/><circle cx="191.7" cy="347.6" r="3.1"/><circle cx="172.7" cy="288.3" r="3.1"/><circle cx="275.2" cy="369.2" r="3.1"/><circle cx="233.9" cy="359" r="3.1"/><circle cx="156.5" cy="344.2" r="3.1"/><circle cx="181.7" cy="335.8" r="3.1"/><circle cx="274.1" cy="367.6" r="3.1"/><circle cx="181.7" cy="335.8" r="3.1"/><circle cx="156.5" cy="344.1" r="3.1"/><circle cx="164.6" cy="315.9" r="3.1"/><circle cx="181.7" cy="335.6" r="3.1"/><circle cx="321.7" cy="385" r="3.1"/><circle cx="442.4" cy="412" r="3.1"/><circle cx="164.6" cy="315.7" r="3.1"/><circle cx="156.5" cy="343.7" r="3.1"/><circle cx="156.5" cy="343.7" r="3.1"/><circle cx="164.6" cy="315.6" r="3.1"/><circle cx="172.7" cy="287.4" r="3.1"/><circle cx="156.5" cy="343.6" r="3.1"/><circle cx="181.7" cy="335.1" r="3.1"/><circle cx="191.7" cy="346.7" r="3.1"/><circle cx="198.7" cy="354.8" r="3.1"/><circle cx="156.5" cy="343.4" r="3.1"/><circle cx="181.7" cy="335" r="3.1"/><circle cx="277.7" cy="370.9" r="3.1"/><circle cx="280" cy="373.6" r="3.1"/><circle cx="164.6" cy="315.1" r="3.1"/><circle cx="181.6" cy="334.8" r="3.1"/><circle cx="204.2" cy="360.8" r="3.1"/><circle cx="156.5" cy="343" r="3.1"/><circle cx="181.6" cy="334.7" r="3.1"/><circle cx="156.4" cy="343" r="3.1"/><circle cx="191.6" cy="346.2" r="3.1"/><circle cx="156.4" cy="342.9" r="3.1"/><circle cx="156.4" cy="342.8" r="3.1"/><circle cx="172.7" cy="286.5" r="3.1"/><circle cx="181.6" cy="334.3" r="3.1"/><circle cx="164.5" cy="314.5" r="3.1"/><circle cx="191.6" cy="345.7" r="3.1"/><circle cx="280.4" cy="373.3" r="3.1"/><circle cx="191.6" cy="345.6" r="3.1"/><circle cx="181.6" cy="334.1" r="3.1"/><circle cx="485.8" cy="423" r="3.1"/><circle cx="156.4" cy="342.2" r="3.1"/><circle cx="164.5" cy="314" r="3.1"/><circle cx="156.4" cy="342.1" r="3.1"/><circle cx="164.5" cy="313.9" r="3.1"/><circle cx="156.4" cy="342" r="3.1"/><circle cx="172.6" cy="285.7" r="3.1"/><circle cx="164.5" cy="313.7" r="3.1"/><circle cx="198.7" cy="353.1" r="3.1"/><circle cx="156.4" cy="341.7" r="3.1"/><circle cx="198.7" cy="353" r="3.1"/><circle cx="156.4" cy="341.6" r="3.1"/><circle cx="156.4" cy="341.6" r="3.1"/><circle cx="164.5" cy="313.4" r="3.1"/><circle cx="242.5" cy="366" r="3.1"/><circle cx="173.5" cy="361.2" r="3.1"/><circle cx="198.7" cy="352.8" r="3.1"/><circle cx="191.6" cy="344.5" r="3.1"/><circle cx="164.5" cy="313.2" r="3.1"/><circle cx="198.7" cy="352.7" r="3.1"/><circle cx="280.4" cy="372.1" r="3.1"/><circle cx="242.5" cy="365.7" r="3.1"/><circle cx="198.7" cy="352.6" r="3.1"/><circle cx="156.4" cy="341" r="3.1"/><circle cx="172.6" cy="284.8" r="3.1"/><circle cx="156.4" cy="341" r="3.1"/><circle cx="198.7" cy="352.3" r="3.1"/><circle cx="198.7" cy="352.2" r="3.1"/><circle cx="156.4" cy="340.8" r="3.1"/><circle cx="241" cy="363.5" r="3.1"/><circle cx="241" cy="363.3" r="3.1"/><circle cx="164.5" cy="312.4" r="3.1"/><circle cx="367.3" cy="396.7" r="3.1"/><circle cx="181.6" cy="331.9" r="3.1"/><circle cx="156.4" cy="340.3" r="3.1"/><circle cx="242.5" cy="364.8" r="3.1"/><circle cx="156.4" cy="340.2" r="3.1"/><circle cx="156.4" cy="340.2" r="3.1"/><circle cx="172.6" cy="284" r="3.1"/><circle cx="156.4" cy="340.1" r="3.1"/><circle cx="156.4" cy="340.1" r="3.1"/><circle cx="198.7" cy="351.4" r="3.1"/><circle cx="173.5" cy="359.6" r="3.1"/><circle cx="164.5" cy="311.8" r="3.1"/><circle cx="156.4" cy="339.9" r="3.1"/><circle cx="156.4" cy="339.8" r="3.1"/><circle cx="191.6" cy="343" r="3.1"/><circle cx="164.5" cy="311.6" r="3.1"/><circle cx="172.6" cy="283.3" r="3.1"/><circle cx="204.2" cy="357.1" r="3.1"/><circle cx="285.1" cy="375.6" r="3.1"/><circle cx="181.6" cy="330.9" r="3.1"/><circle cx="198.6" cy="350.3" r="3.1"/><circle cx="156.3" cy="338.8" r="3.1"/><circle cx="198.6" cy="350" r="3.1"/><circle cx="156.3" cy="338.5" r="3.1"/><circle cx="198.6" cy="349.9" r="3.1"/><circle cx="164.4" cy="310.4" r="3.1"/><circle cx="204.1" cy="356.1" r="3.1"/><circle cx="180.7" cy="254" r="3.1"/><circle cx="286.8" cy="376.5" r="3.1"/><circle cx="204.1" cy="356" r="3.1"/><circle cx="156.3" cy="338.1" r="3.1"/><circle cx="156.3" cy="338" r="3.1"/><circle cx="156.3" cy="337.9" r="3.1"/><circle cx="198.6" cy="349.3" r="3.1"/><circle cx="329.8" cy="388.4" r="3.1"/><circle cx="156.3" cy="337.9" r="3.1"/><circle cx="287.8" cy="377.3" r="3.1"/><circle cx="173.4" cy="357.6" r="3.1"/><circle cx="164.4" cy="309.7" r="3.1"/><circle cx="172.5" cy="281.5" r="3.1"/><circle cx="164.4" cy="309.6" r="3.1"/><circle cx="173.4" cy="357.4" r="3.1"/><circle cx="156.3" cy="337.5" r="3.1"/><circle cx="246.4" cy="366.7" r="3.1"/><circle cx="198.6" cy="348.9" r="3.1"/><circle cx="173.4" cy="357.2" r="3.1"/><circle cx="204.1" cy="355.2" r="3.1"/><circle cx="412.4" cy="408.2" r="3.1"/><circle cx="181.5" cy="329" r="3.1"/><circle cx="191.5" cy="340.5" r="3.1"/><circle cx="173.4" cy="357" r="3.1"/><circle cx="204.1" cy="355" r="3.1"/><circle cx="208.6" cy="360" r="3.1"/><circle cx="164.4" cy="308.7" r="3.1"/><circle cx="156.3" cy="336.8" r="3.1"/><circle cx="208.6" cy="359.7" r="3.1"/><circle cx="173.4" cy="356.5" r="3.1"/><circle cx="156.3" cy="336.5" r="3.1"/><circle cx="156.3" cy="336.5" r="3.1"/><circle cx="164.4" cy="308.4" r="3.1"/><circle cx="164.4" cy="308.4" r="3.1"/><circle cx="208.6" cy="359.4" r="3.1"/><circle cx="156.3" cy="336.3" r="3.1"/><circle cx="212.4" cy="363.7" r="3.1"/><circle cx="164.4" cy="308.1" r="3.1"/><circle cx="198.6" cy="347.6" r="3.1"/><circle cx="172.5" cy="279.8" r="3.1"/><circle cx="156.2" cy="335.9" r="3.1"/><circle cx="156.2" cy="335.9" r="3.1"/><circle cx="173.3" cy="355.6" r="3.1"/><circle cx="250.9" cy="370.1" r="3.1"/><circle cx="333.7" cy="390.6" r="3.1"/><circle cx="156.2" cy="335.7" r="3.1"/><circle cx="246.4" cy="364.7" r="3.1"/><circle cx="173.3" cy="355.2" r="3.1"/><circle cx="164.3" cy="307.3" r="3.1"/><circle cx="156.2" cy="335.4" r="3.1"/><circle cx="173.3" cy="355" r="3.1"/><circle cx="208.6" cy="358.2" r="3.1"/><circle cx="173.3" cy="354.9" r="3.1"/><circle cx="156.2" cy="335.1" r="3.1"/><circle cx="156.2" cy="335.1" r="3.1"/><circle cx="156.2" cy="335.1" r="3.1"/><circle cx="248.8" cy="366.9" r="3.1"/><circle cx="198.6" cy="346.4" r="3.1"/><circle cx="173.3" cy="354.7" r="3.1"/><circle cx="208.6" cy="357.9" r="3.1"/><circle cx="164.3" cy="306.8" r="3.1"/><circle cx="156.2" cy="334.9" r="3.1"/><circle cx="204.1" cy="352.7" r="3.1"/><circle cx="250.9" cy="369.3" r="3.1"/><circle cx="156.2" cy="334.8" r="3.1"/><circle cx="173.3" cy="354.5" r="3.1"/><circle cx="173.3" cy="354.4" r="3.1"/><circle cx="156.2" cy="334.6" r="3.1"/><circle cx="248.8" cy="366.5" r="3.1"/><circle cx="172.4" cy="278.2" r="3.1"/><circle cx="183.3" cy="365.7" r="3.1"/><circle cx="248.8" cy="366.2" r="3.1"/><circle cx="156.2" cy="334.3" r="3.1"/><circle cx="173.3" cy="354" r="3.1"/><circle cx="204" cy="352" r="3.1"/><circle cx="208.6" cy="357.2" r="3.1"/><circle cx="156.2" cy="334.2" r="3.1"/><circle cx="212.4" cy="361.4" r="3.1"/><circle cx="156.2" cy="334.1" r="3.1"/><circle cx="377.4" cy="401.7" r="3.1"/><circle cx="252.9" cy="370.4" r="3.1"/><circle cx="337.5" cy="392.9" r="3.1"/><circle cx="173.3" cy="353.4" r="3.1"/><circle cx="212.3" cy="361" r="3.1"/><circle cx="164.3" cy="305.4" r="3.1"/><circle cx="204" cy="351.3" r="3.1"/><circle cx="156.2" cy="333.5" r="3.1"/><circle cx="164.3" cy="305.3" r="3.1"/><circle cx="173.3" cy="353.2" r="3.1"/><circle cx="204" cy="351.1" r="3.1"/><circle cx="156.2" cy="333.2" r="3.1"/><circle cx="256.4" cy="373.9" r="3.1"/><circle cx="164.3" cy="304.9" r="3.1"/><circle cx="156.2" cy="333" r="3.1"/><circle cx="164.3" cy="304.8" r="3.1"/><circle cx="296.8" cy="382.8" r="3.1"/><circle cx="183.3" cy="364.2" r="3.1"/><circle cx="156.1" cy="332.6" r="3.1"/><circle cx="173.3" cy="352.3" r="3.1"/><circle cx="212.3" cy="359.8" r="3.1"/><circle cx="253.8" cy="369.9" r="3.1"/><circle cx="148" cy="360.2" r="3.1"/><circle cx="212.3" cy="359.4" r="3.1"/><circle cx="156.1" cy="332" r="3.1"/><circle cx="215.6" cy="363.2" r="3.1"/><circle cx="164.2" cy="303.9" r="3.1"/><circle cx="156.1" cy="332" r="3.1"/><circle cx="173.2" cy="351.8" r="3.1"/><circle cx="212.3" cy="359.2" r="3.1"/><circle cx="208.5" cy="354.8" r="3.1"/><circle cx="156.1" cy="331.7" r="3.1"/><circle cx="172.4" cy="275.4" r="3.1"/><circle cx="156.1" cy="331.5" r="3.1"/><circle cx="296.4" cy="380.9" r="3.1"/><circle cx="297" cy="381.6" r="3.1"/><circle cx="191.4" cy="334.6" r="3.1"/><circle cx="297.9" cy="382.5" r="3.1"/><circle cx="256.4" cy="372" r="3.1"/><circle cx="148" cy="359.4" r="3.1"/><circle cx="296.1" cy="380.3" r="3.1"/><circle cx="164.2" cy="303" r="3.1"/><circle cx="156.1" cy="331.1" r="3.1"/><circle cx="156.1" cy="330.8" r="3.1"/><circle cx="183.2" cy="362.1" r="3.1"/><circle cx="212.3" cy="358.1" r="3.1"/><circle cx="173.2" cy="350.3" r="3.1"/><circle cx="212.3" cy="357.9" r="3.1"/><circle cx="300.3" cy="384.4" r="3.1"/><circle cx="156.1" cy="330.4" r="3.1"/><circle cx="164.2" cy="302.2" r="3.1"/><circle cx="147.9" cy="358.4" r="3.1"/><circle cx="147.9" cy="358.3" r="3.1"/><circle cx="156.1" cy="330.1" r="3.1"/><circle cx="183.2" cy="361.3" r="3.1"/><circle cx="156.1" cy="329.9" r="3.1"/><circle cx="215.6" cy="361.1" r="3.1"/><circle cx="190.3" cy="369.4" r="3.1"/><circle cx="156.1" cy="329.8" r="3.1"/><circle cx="215.6" cy="360.9" r="3.1"/><circle cx="260.2" cy="374.7" r="3.1"/><circle cx="156.1" cy="329.5" r="3.1"/><circle cx="147.9" cy="357.7" r="3.1"/><circle cx="221.1" cy="367.1" r="3.1"/><circle cx="215.6" cy="360.7" r="3.1"/><circle cx="164.2" cy="301.3" r="3.1"/><circle cx="173.2" cy="349" r="3.1"/><circle cx="218.5" cy="363.7" r="3.1"/><circle cx="147.9" cy="357.1" r="3.1"/><circle cx="156" cy="328.8" r="3.1"/><circle cx="164.2" cy="300.6" r="3.1"/><circle cx="262.2" cy="376" r="3.1"/><circle cx="173.2" cy="348.2" r="3.1"/><circle cx="173.1" cy="348.2" r="3.1"/><circle cx="173.1" cy="348.1" r="3.1"/><circle cx="260.8" cy="374.3" r="3.1"/><circle cx="190.3" cy="367.8" r="3.1"/><circle cx="147.9" cy="356.3" r="3.1"/><circle cx="303.9" cy="386.2" r="3.1"/><circle cx="183.2" cy="359.3" r="3.1"/><circle cx="218.4" cy="362.5" r="3.1"/><circle cx="156" cy="328" r="3.1"/><circle cx="221" cy="365.4" r="3.1"/><circle cx="259.4" cy="372.1" r="3.1"/><circle cx="215.5" cy="358.9" r="3.1"/><circle cx="147.9" cy="355.9" r="3.1"/><circle cx="164.1" cy="299.6" r="3.1"/><circle cx="218.4" cy="362.2" r="3.1"/><circle cx="262.2" cy="375" r="3.1"/><circle cx="173.1" cy="347.3" r="3.1"/><circle cx="221" cy="365" r="3.1"/><circle cx="183.1" cy="358.8" r="3.1"/><circle cx="223.4" cy="367.6" r="3.1"/><circle cx="147.9" cy="355.3" r="3.1"/><circle cx="147.8" cy="355.3" r="3.1"/><circle cx="156" cy="327" r="3.1"/><circle cx="265.8" cy="378.7" r="3.1"/><circle cx="223.4" cy="367.2" r="3.1"/><circle cx="164.1" cy="298.7" r="3.1"/><circle cx="147.8" cy="355" r="3.1"/><circle cx="147.8" cy="354.9" r="3.1"/><circle cx="347" cy="397.1" r="3.1"/><circle cx="190.2" cy="366.3" r="3.1"/><circle cx="147.8" cy="354.8" r="3.1"/><circle cx="147.8" cy="354.7" r="3.1"/><circle cx="262.2" cy="374.1" r="3.1"/><circle cx="183.1" cy="357.8" r="3.1"/><circle cx="156" cy="326.4" r="3.1"/><circle cx="156" cy="326.4" r="3.1"/><circle cx="389" cy="407.7" r="3.1"/><circle cx="221" cy="363.9" r="3.1"/><circle cx="183.1" cy="357.6" r="3.1"/><circle cx="223.4" cy="366.4" r="3.1"/><circle cx="147.8" cy="354.2" r="3.1"/><circle cx="164.1" cy="297.8" r="3.1"/><circle cx="173.1" cy="345.8" r="3.1"/><circle cx="183.1" cy="357.2" r="3.1"/><circle cx="180.3" cy="241.3" r="3.1"/><circle cx="173.1" cy="345.6" r="3.1"/><circle cx="183.1" cy="357.1" r="3.1"/><circle cx="155.9" cy="325.6" r="3.1"/><circle cx="223.4" cy="365.9" r="3.1"/><circle cx="147.8" cy="353.7" r="3.1"/><circle cx="147.8" cy="353.5" r="3.1"/><circle cx="264" cy="374.9" r="3.1"/><circle cx="227.5" cy="370.3" r="3.1"/><circle cx="183.1" cy="356.5" r="3.1"/><circle cx="147.8" cy="353.3" r="3.1"/><circle cx="190.2" cy="364.7" r="3.1"/><circle cx="164.1" cy="296.9" r="3.1"/><circle cx="164.1" cy="296.9" r="3.1"/><circle cx="172.2" cy="268.6" r="3.1"/><circle cx="147.8" cy="353" r="3.1"/><circle cx="147.8" cy="352.9" r="3.1"/><circle cx="155.9" cy="324.7" r="3.1"/><circle cx="147.8" cy="352.8" r="3.1"/><circle cx="223.3" cy="364.9" r="3.1"/><circle cx="173" cy="344.3" r="3.1"/><circle cx="147.8" cy="352.7" r="3.1"/><circle cx="164" cy="296.1" r="3.1"/><circle cx="147.8" cy="352.5" r="3.1"/><circle cx="155.9" cy="324.3" r="3.1"/><circle cx="147.8" cy="352.2" r="3.1"/><circle cx="268.4" cy="378.7" r="3.1"/><circle cx="147.7" cy="351.8" r="3.1"/><circle cx="147.7" cy="351.7" r="3.1"/><circle cx="183" cy="354.9" r="3.1"/><circle cx="164" cy="295.2" r="3.1"/><circle cx="352.7" cy="400.3" r="3.1"/><circle cx="147.7" cy="351.5" r="3.1"/><circle cx="147.7" cy="351.5" r="3.1"/><circle cx="223.3" cy="363.6" r="3.1"/><circle cx="190.2" cy="362.8" r="3.1"/><circle cx="225.5" cy="366" r="3.1"/><circle cx="155.9" cy="323.2" r="3.1"/><circle cx="147.7" cy="351.3" r="3.1"/><circle cx="155.9" cy="323.1" r="3.1"/><circle cx="147.7" cy="351.3" r="3.1"/><circle cx="268.9" cy="378.4" r="3.1"/><circle cx="147.7" cy="351.2" r="3.1"/><circle cx="269.9" cy="379.5" r="3.1"/><circle cx="155.9" cy="323" r="3.1"/><circle cx="195.7" cy="368.8" r="3.1"/><circle cx="434.8" cy="419.5" r="3.1"/><circle cx="221" cy="360.4" r="3.1"/><circle cx="173" cy="342.5" r="3.1"/><circle cx="147.7" cy="350.8" r="3.1"/><circle cx="183" cy="354" r="3.1"/><circle cx="164" cy="294.4" r="3.1"/><circle cx="147.7" cy="350.7" r="3.1"/><circle cx="229.3" cy="369.7" r="3.1"/><circle cx="147.7" cy="350.7" r="3.1"/><circle cx="190.1" cy="361.9" r="3.1"/><circle cx="195.7" cy="368.2" r="3.1"/><circle cx="190.1" cy="361.8" r="3.1"/><circle cx="155.8" cy="322.2" r="3.1"/><circle cx="147.7" cy="350.3" r="3.1"/><circle cx="183" cy="353.5" r="3.1"/><circle cx="147.7" cy="350.3" r="3.1"/><circle cx="147.7" cy="350.1" r="3.1"/><circle cx="313.7" cy="391.5" r="3.1"/></g><g fill-opacity=".80" stroke-opacity=".80"><circle cx="147.7" cy="350.1" r="3.1"/><circle cx="147.7" cy="350" r="3.1"/><circle cx="147.7" cy="350" r="3.1"/><circle cx="147.7" cy="349.9" r="3.1"/><circle cx="190.1" cy="361.3" r="3.1"/><circle cx="164" cy="293.5" r="3.1"/><circle cx="147.7" cy="349.9" r="3.1"/><circle cx="147.7" cy="349.8" r="3.1"/><circle cx="190.1" cy="361.2" r="3.1"/><circle cx="147.7" cy="349.8" r="3.1"/><circle cx="234.1" cy="374.3" r="3.1"/><circle cx="231" cy="370.7" r="3.1"/><circle cx="155.8" cy="321.4" r="3.1"/><circle cx="478.3" cy="430.5" r="3.1"/><circle cx="173" cy="340.9" r="3.1"/><circle cx="163.9" cy="292.6" r="3.1"/><circle cx="147.7" cy="349" r="3.1"/><circle cx="147.7" cy="348.9" r="3.1"/><circle cx="314.3" cy="390.8" r="3.1"/><circle cx="147.6" cy="348.7" r="3.1"/><circle cx="230.9" cy="369.6" r="3.1"/><circle cx="155.8" cy="320.4" r="3.1"/><circle cx="190.1" cy="360" r="3.1"/><circle cx="164.8" cy="368.4" r="3.1"/><circle cx="313.6" cy="389.8" r="3.1"/><circle cx="147.6" cy="348.5" r="3.1"/><circle cx="183" cy="351.7" r="3.1"/><circle cx="195.6" cy="366.2" r="3.1"/><circle cx="234" cy="373" r="3.1"/><circle cx="147.6" cy="348.4" r="3.1"/><circle cx="163.9" cy="291.7" r="3.1"/><circle cx="147.6" cy="347.9" r="3.1"/><circle cx="275.7" cy="383" r="3.1"/><circle cx="155.8" cy="319.6" r="3.1"/><circle cx="235.4" cy="373.9" r="3.1"/><circle cx="147.6" cy="347.4" r="3.1"/><circle cx="234" cy="371.8" r="3.1"/><circle cx="155.7" cy="319" r="3.1"/><circle cx="163.9" cy="290.8" r="3.1"/><circle cx="359.9" cy="404.2" r="3.1"/><circle cx="190.1" cy="358.5" r="3.1"/><circle cx="182.9" cy="350.1" r="3.1"/><circle cx="235.4" cy="373.1" r="3.1"/><circle cx="147.6" cy="346.9" r="3.1"/><circle cx="147.6" cy="346.8" r="3.1"/><circle cx="147.6" cy="346.7" r="3.1"/><circle cx="147.6" cy="346.6" r="3.1"/><circle cx="163.9" cy="290" r="3.1"/><circle cx="147.6" cy="346.4" r="3.1"/><circle cx="164.7" cy="366.3" r="3.1"/><circle cx="147.6" cy="346.4" r="3.1"/><circle cx="147.6" cy="346.2" r="3.1"/><circle cx="278.9" cy="384.9" r="3.1"/><circle cx="155.7" cy="317.8" r="3.1"/><circle cx="200.1" cy="369" r="3.1"/><circle cx="147.6" cy="345.9" r="3.1"/><circle cx="238" cy="374.9" r="3.1"/><circle cx="163.8" cy="289.2" r="3.1"/><circle cx="190" cy="356.9" r="3.1"/><circle cx="200.1" cy="368.5" r="3.1"/><circle cx="147.5" cy="345.4" r="3.1"/><circle cx="147.5" cy="345.3" r="3.1"/><circle cx="147.5" cy="345.2" r="3.1"/><circle cx="278.2" cy="383.3" r="3.1"/><circle cx="182.9" cy="348.4" r="3.1"/><circle cx="155.7" cy="317" r="3.1"/><circle cx="236.7" cy="372.9" r="3.1"/><circle cx="147.5" cy="345" r="3.1"/><circle cx="232.5" cy="367.8" r="3.1"/><circle cx="164.7" cy="364.7" r="3.1"/><circle cx="203.9" cy="372.3" r="3.1"/><circle cx="234" cy="369.4" r="3.1"/><circle cx="200" cy="367.9" r="3.1"/><circle cx="147.5" cy="344.8" r="3.1"/><circle cx="172.8" cy="336.4" r="3.1"/><circle cx="240.4" cy="376.7" r="3.1"/><circle cx="163.8" cy="288.3" r="3.1"/><circle cx="164.7" cy="364.3" r="3.1"/><circle cx="155.7" cy="316.1" r="3.1"/><circle cx="147.5" cy="344.3" r="3.1"/><circle cx="147.5" cy="344.3" r="3.1"/><circle cx="203.9" cy="371.7" r="3.1"/><circle cx="147.5" cy="344.2" r="3.1"/><circle cx="404.9" cy="415.7" r="3.1"/><circle cx="147.5" cy="344.2" r="3.1"/><circle cx="200" cy="367.1" r="3.1"/><circle cx="190" cy="355.4" r="3.1"/><circle cx="200" cy="366.9" r="3.1"/><circle cx="164.7" cy="363.7" r="3.1"/><circle cx="163.8" cy="287.4" r="3.1"/><circle cx="164.7" cy="363.6" r="3.1"/><circle cx="323.3" cy="396.2" r="3.1"/><circle cx="200" cy="366.6" r="3.1"/><circle cx="163.8" cy="287.1" r="3.1"/><circle cx="242.5" cy="378" r="3.1"/><circle cx="200" cy="366.5" r="3.1"/><circle cx="155.6" cy="315.2" r="3.1"/><circle cx="147.5" cy="343.4" r="3.1"/><circle cx="322.6" cy="395" r="3.1"/><circle cx="238" cy="372.6" r="3.1"/><circle cx="147.5" cy="343.2" r="3.1"/><circle cx="164.6" cy="363" r="3.1"/><circle cx="280.2" cy="383.4" r="3.1"/><circle cx="200" cy="366.1" r="3.1"/><circle cx="282" cy="385.4" r="3.1"/><circle cx="203.8" cy="370.4" r="3.1"/><circle cx="200" cy="365.9" r="3.1"/><circle cx="155.6" cy="314.6" r="3.1"/><circle cx="164.6" cy="362.6" r="3.1"/><circle cx="172.8" cy="334.4" r="3.1"/><circle cx="147.5" cy="342.7" r="3.1"/><circle cx="147.5" cy="342.7" r="3.1"/><circle cx="147.5" cy="342.5" r="3.1"/><circle cx="200" cy="365.5" r="3.1"/><circle cx="240.3" cy="374.4" r="3.1"/><circle cx="203.8" cy="369.8" r="3.1"/><circle cx="163.7" cy="285.8" r="3.1"/><circle cx="247.2" cy="382.1" r="3.1"/><circle cx="147.4" cy="342.2" r="3.1"/><circle cx="147.4" cy="342.1" r="3.1"/><circle cx="164.6" cy="361.9" r="3.1"/><circle cx="147.4" cy="342" r="3.1"/><circle cx="203.8" cy="369.5" r="3.1"/><circle cx="238" cy="371.2" r="3.1"/><circle cx="164.6" cy="361.7" r="3.1"/><circle cx="163.7" cy="285.4" r="3.1"/><circle cx="155.6" cy="313.5" r="3.1"/><circle cx="147.4" cy="341.7" r="3.1"/><circle cx="164.6" cy="361.4" r="3.1"/><circle cx="174.6" cy="373" r="3.1"/><circle cx="242.5" cy="375.8" r="3.1"/><circle cx="163.7" cy="284.8" r="3.1"/><circle cx="243.5" cy="376.8" r="3.1"/><circle cx="147.4" cy="341.1" r="3.1"/><circle cx="369.5" cy="409.1" r="3.1"/><circle cx="147.4" cy="340.9" r="3.1"/><circle cx="155.6" cy="312.7" r="3.1"/><circle cx="246.3" cy="379.7" r="3.1"/><circle cx="164.6" cy="360.6" r="3.1"/><circle cx="147.4" cy="340.6" r="3.1"/><circle cx="203.8" cy="367.9" r="3.1"/><circle cx="164.6" cy="360.2" r="3.1"/><circle cx="207.1" cy="371.5" r="3.1"/><circle cx="147.4" cy="340.1" r="3.1"/><circle cx="163.7" cy="283.6" r="3.1"/><circle cx="155.5" cy="311.8" r="3.1"/><circle cx="174.6" cy="371.4" r="3.1"/><circle cx="147.4" cy="339.8" r="3.1"/><circle cx="147.4" cy="339.4" r="3.1"/><circle cx="246.3" cy="378.2" r="3.1"/><circle cx="139.2" cy="367.5" r="3.1"/><circle cx="155.5" cy="310.9" r="3.1"/><circle cx="290.3" cy="391.2" r="3.1"/><circle cx="147.3" cy="339.1" r="3.1"/><circle cx="207" cy="370.3" r="3.1"/><circle cx="288.3" cy="388.8" r="3.1"/><circle cx="147.3" cy="338.9" r="3.1"/><circle cx="212.6" cy="376.6" r="3.1"/><circle cx="207" cy="370.1" r="3.1"/><circle cx="147.3" cy="338.8" r="3.1"/><circle cx="164.5" cy="358.5" r="3.1"/><circle cx="330.4" cy="399.4" r="3.1"/><circle cx="163.6" cy="282" r="3.1"/><circle cx="174.6" cy="369.9" r="3.1"/><circle cx="164.5" cy="358.2" r="3.1"/><circle cx="139.2" cy="366.6" r="3.1"/><circle cx="155.5" cy="310.1" r="3.1"/><circle cx="210" cy="372.8" r="3.1"/><circle cx="155.5" cy="309.7" r="3.1"/><circle cx="164.5" cy="357.7" r="3.1"/><circle cx="147.3" cy="337.7" r="3.1"/><circle cx="289.2" cy="388.6" r="3.1"/><circle cx="147.3" cy="337.6" r="3.1"/><circle cx="164.5" cy="357.4" r="3.1"/><circle cx="139.1" cy="365.6" r="3.1"/><circle cx="147.3" cy="337.4" r="3.1"/><circle cx="147.3" cy="337.3" r="3.1"/><circle cx="209.9" cy="371.9" r="3.1"/><circle cx="214.9" cy="377.5" r="3.1"/><circle cx="333.8" cy="401.6" r="3.1"/><circle cx="181.7" cy="376.7" r="3.1"/><circle cx="147.3" cy="336.8" r="3.1"/><circle cx="147.3" cy="336.6" r="3.1"/><circle cx="174.5" cy="368.1" r="3.1"/><circle cx="147.3" cy="336.6" r="3.1"/><circle cx="174.5" cy="368" r="3.1"/><circle cx="291.9" cy="390.5" r="3.1"/><circle cx="139.1" cy="364.7" r="3.1"/><circle cx="155.4" cy="308.2" r="3.1"/><circle cx="147.3" cy="336.4" r="3.1"/><circle cx="214.9" cy="376.8" r="3.1"/><circle cx="147.3" cy="336.4" r="3.1"/><circle cx="164.4" cy="356" r="3.1"/><circle cx="253.8" cy="383.7" r="3.1"/><circle cx="164.4" cy="355.7" r="3.1"/><circle cx="139.1" cy="364" r="3.1"/><circle cx="163.6" cy="279.2" r="3.1"/><circle cx="174.5" cy="367.1" r="3.1"/><circle cx="253.1" cy="382.5" r="3.1"/><circle cx="217" cy="378.4" r="3.1"/><circle cx="181.6" cy="375.1" r="3.1"/><circle cx="155.4" cy="307.1" r="3.1"/><circle cx="147.2" cy="335.1" r="3.1"/><circle cx="139.1" cy="363.2" r="3.1"/><circle cx="155.4" cy="306.6" r="3.1"/><circle cx="147.2" cy="334.9" r="3.1"/><circle cx="214.9" cy="375.2" r="3.1"/><circle cx="164.4" cy="354.5" r="3.1"/><circle cx="174.5" cy="366.1" r="3.1"/><circle cx="253.1" cy="381.5" r="3.1"/><circle cx="174.5" cy="365.9" r="3.1"/><circle cx="147.2" cy="334.4" r="3.1"/><circle cx="147.2" cy="334.4" r="3.1"/><circle cx="174.5" cy="365.8" r="3.1"/><circle cx="295.2" cy="392.1" r="3.1"/><circle cx="139" cy="362.5" r="3.1"/><circle cx="174.5" cy="365.7" r="3.1"/><circle cx="147.2" cy="334.1" r="3.1"/><circle cx="164.4" cy="353.9" r="3.1"/><circle cx="254.4" cy="382.5" r="3.1"/><circle cx="164.4" cy="353.9" r="3.1"/><circle cx="147.2" cy="333.9" r="3.1"/><circle cx="174.4" cy="365.3" r="3.1"/><circle cx="181.6" cy="373.5" r="3.1"/><circle cx="139" cy="362" r="3.1"/><circle cx="220.8" cy="381" r="3.1"/><circle cx="217" cy="376.5" r="3.1"/><circle cx="174.4" cy="365" r="3.1"/><circle cx="147.2" cy="333.5" r="3.1"/><circle cx="212.5" cy="371.2" r="3.1"/><circle cx="381.2" cy="415.2" r="3.1"/><circle cx="147.2" cy="333.4" r="3.1"/><circle cx="174.4" cy="364.8" r="3.1"/><circle cx="147.2" cy="333.2" r="3.1"/><circle cx="147.2" cy="333.2" r="3.1"/><circle cx="147.2" cy="333.1" r="3.1"/><circle cx="174.4" cy="364.5" r="3.1"/><circle cx="139" cy="361.3" r="3.1"/><circle cx="340" cy="404.8" r="3.1"/><circle cx="139" cy="361.2" r="3.1"/><circle cx="164.4" cy="352.8" r="3.1"/><circle cx="139" cy="361.2" r="3.1"/><circle cx="155.3" cy="304.6" r="3.1"/><circle cx="164.4" cy="352.7" r="3.1"/><circle cx="139" cy="361" r="3.1"/><circle cx="256.8" cy="383.9" r="3.1"/><circle cx="139" cy="360.8" r="3.1"/><circle cx="219" cy="377.8" r="3.1"/><circle cx="299.5" cy="395.4" r="3.1"/><circle cx="217" cy="375.5" r="3.1"/><circle cx="147.1" cy="332.5" r="3.1"/><circle cx="147.1" cy="332.5" r="3.1"/><circle cx="139" cy="360.7" r="3.1"/><circle cx="181.5" cy="372.1" r="3.1"/><circle cx="147.1" cy="332.4" r="3.1"/><circle cx="174.4" cy="363.8" r="3.1"/><circle cx="260.6" cy="387.8" r="3.1"/><circle cx="217" cy="375.1" r="3.1"/><circle cx="181.5" cy="371.8" r="3.1"/><circle cx="147.1" cy="332" r="3.1"/><circle cx="301.3" cy="396.8" r="3.1"/><circle cx="147.1" cy="331.7" r="3.1"/><circle cx="138.9" cy="359.8" r="3.1"/><circle cx="220.8" cy="378.8" r="3.1"/><circle cx="138.9" cy="359.7" r="3.1"/><circle cx="164.3" cy="351.3" r="3.1"/><circle cx="181.5" cy="371.1" r="3.1"/><circle cx="138.9" cy="359.6" r="3.1"/><circle cx="174.4" cy="362.5" r="3.1"/><circle cx="147.1" cy="331" r="3.1"/><circle cx="174.4" cy="362.5" r="3.1"/><circle cx="138.9" cy="359.2" r="3.1"/><circle cx="181.5" cy="370.6" r="3.1"/><circle cx="174.4" cy="362.4" r="3.1"/><circle cx="174.4" cy="362.3" r="3.1"/><circle cx="300.8" cy="395.1" r="3.1"/><circle cx="174.4" cy="362.2" r="3.1"/><circle cx="138.9" cy="358.9" r="3.1"/><circle cx="181.5" cy="370.4" r="3.1"/><circle cx="220.8" cy="377.9" r="3.1"/><circle cx="138.9" cy="358.6" r="3.1"/><circle cx="138.9" cy="358.5" r="3.1"/><circle cx="147.1" cy="330.1" r="3.1"/><circle cx="304.2" cy="398.5" r="3.1"/><circle cx="155.2" cy="301.8" r="3.1"/><circle cx="138.9" cy="358.3" r="3.1"/><circle cx="138.9" cy="358.2" r="3.1"/><circle cx="181.5" cy="369.7" r="3.1"/><circle cx="164.3" cy="349.7" r="3.1"/><circle cx="181.5" cy="369.6" r="3.1"/><circle cx="427.3" cy="427" r="3.1"/><circle cx="138.9" cy="357.9" r="3.1"/><circle cx="174.3" cy="361.1" r="3.1"/><circle cx="224.1" cy="380.8" r="3.1"/><circle cx="138.9" cy="357.9" r="3.1"/><circle cx="181.5" cy="369.3" r="3.1"/><circle cx="147" cy="329.5" r="3.1"/><circle cx="138.9" cy="357.7" r="3.1"/><circle cx="174.3" cy="360.9" r="3.1"/><circle cx="138.9" cy="357.7" r="3.1"/><circle cx="138.9" cy="357.5" r="3.1"/><circle cx="181.5" cy="368.9" r="3.1"/><circle cx="227" cy="383.8" r="3.1"/><circle cx="225.6" cy="382.1" r="3.1"/><circle cx="147" cy="329.2" r="3.1"/><circle cx="138.9" cy="357.4" r="3.1"/><circle cx="138.9" cy="357.3" r="3.1"/><circle cx="138.9" cy="357.1" r="3.1"/><circle cx="259" cy="382.6" r="3.1"/><circle cx="138.9" cy="357" r="3.1"/><circle cx="138.9" cy="356.9" r="3.1"/><circle cx="147" cy="328.4" r="3.1"/><circle cx="216.9" cy="371.3" r="3.1"/><circle cx="138.8" cy="356.6" r="3.1"/><circle cx="138.8" cy="356.6" r="3.1"/><circle cx="164.2" cy="348.1" r="3.1"/><circle cx="470.8" cy="438" r="3.1"/><circle cx="138.8" cy="356.5" r="3.1"/><circle cx="262.4" cy="386" r="3.1"/><circle cx="138.8" cy="356.4" r="3.1"/><circle cx="347.4" cy="408.6" r="3.1"/><circle cx="138.8" cy="356.3" r="3.1"/><circle cx="138.8" cy="356.1" r="3.1"/><circle cx="138.8" cy="356.1" r="3.1"/><circle cx="264.2" cy="387.6" r="3.1"/><circle cx="227" cy="382.3" r="3.1"/><circle cx="181.4" cy="367.4" r="3.1"/><circle cx="147" cy="327.5" r="3.1"/><circle cx="156" cy="375.7" r="3.1"/><circle cx="164.2" cy="347.3" r="3.1"/><circle cx="174.3" cy="358.9" r="3.1"/><circle cx="163.3" cy="270.8" r="3.1"/><circle cx="227" cy="382" r="3.1"/><circle cx="138.8" cy="355.4" r="3.1"/><circle cx="138.8" cy="355.3" r="3.1"/><circle cx="138.8" cy="355.1" r="3.1"/><circle cx="138.8" cy="355.1" r="3.1"/><circle cx="309.1" cy="400.8" r="3.1"/><circle cx="147" cy="326.7" r="3.1"/><circle cx="138.8" cy="354.9" r="3.1"/><circle cx="268.1" cy="391" r="3.1"/><circle cx="225.5" cy="379.6" r="3.1"/><circle cx="138.8" cy="354.8" r="3.1"/><circle cx="186.9" cy="372.6" r="3.1"/><circle cx="186.9" cy="372.4" r="3.1"/><circle cx="138.8" cy="354.5" r="3.1"/><circle cx="191.5" cy="377.5" r="3.1"/><circle cx="186.9" cy="372.2" r="3.1"/><circle cx="156" cy="374.2" r="3.1"/><circle cx="174.2" cy="357.4" r="3.1"/><circle cx="181.4" cy="365.6" r="3.1"/><circle cx="146.9" cy="325.8" r="3.1"/><circle cx="138.8" cy="354.1" r="3.1"/><circle cx="138.8" cy="353.9" r="3.1"/><circle cx="267.4" cy="389" r="3.1"/><circle cx="230.7" cy="384.3" r="3.1"/><circle cx="195.3" cy="381" r="3.1"/><circle cx="146.9" cy="325" r="3.1"/><circle cx="138.7" cy="353.3" r="3.1"/><circle cx="138.7" cy="353.2" r="3.1"/><circle cx="138.7" cy="353" r="3.1"/><circle cx="138.7" cy="353" r="3.1"/><circle cx="146.9" cy="324.6" r="3.1"/><circle cx="138.7" cy="352.9" r="3.1"/><circle cx="186.9" cy="370.7" r="3.1"/><circle cx="181.3" cy="364.3" r="3.1"/><circle cx="226.9" cy="379.1" r="3.1"/><circle cx="138.7" cy="352.6" r="3.1"/><circle cx="191.4" cy="375.6" r="3.1"/><circle cx="146.9" cy="324.1" r="3.1"/><circle cx="270.5" cy="391.3" r="3.1"/><circle cx="138.7" cy="352.3" r="3.1"/><circle cx="138.7" cy="352.2" r="3.1"/><circle cx="191.4" cy="375.3" r="3.1"/><circle cx="138.7" cy="352.1" r="3.1"/><circle cx="155" cy="295.5" r="3.1"/><circle cx="155.9" cy="372" r="3.1"/><circle cx="354.6" cy="412.5" r="3.1"/><circle cx="191.4" cy="375" r="3.1"/><circle cx="138.7" cy="351.8" r="3.1"/><circle cx="138.7" cy="351.7" r="3.1"/><circle cx="155.9" cy="371.6" r="3.1"/><circle cx="138.7" cy="351.7" r="3.1"/><circle cx="273.1" cy="393.6" r="3.1"/><circle cx="155.9" cy="371.5" r="3.1"/><circle cx="138.7" cy="351.6" r="3.1"/><circle cx="138.7" cy="351.5" r="3.1"/><circle cx="397" cy="423.2" r="3.1"/><circle cx="138.7" cy="351.4" r="3.1"/><circle cx="186.9" cy="369.2" r="3.1"/><circle cx="146.8" cy="323" r="3.1"/><circle cx="155.9" cy="371" r="3.1"/><circle cx="138.7" cy="351" r="3.1"/><circle cx="138.7" cy="350.9" r="3.1"/><circle cx="235" cy="386.5" r="3.1"/><circle cx="181.3" cy="362.2" r="3.1"/><circle cx="138.6" cy="350.7" r="3.1"/><circle cx="146.8" cy="322.4" r="3.1"/><circle cx="138.6" cy="350.5" r="3.1"/><circle cx="138.6" cy="350.4" r="3.1"/><circle cx="186.8" cy="368" r="3.1"/><circle cx="155.9" cy="370" r="3.1"/><circle cx="138.6" cy="350.1" r="3.1"/><circle cx="198.5" cy="381.3" r="3.1"/><circle cx="274.5" cy="393.5" r="3.1"/><circle cx="138.6" cy="349.8" r="3.1"/><circle cx="146.8" cy="321.5" r="3.1"/><circle cx="138.6" cy="349.8" r="3.1"/><circle cx="155.9" cy="369.6" r="3.1"/><circle cx="195.2" cy="377.1" r="3.1"/><circle cx="138.6" cy="349.4" r="3.1"/><circle cx="138.6" cy="349.4" r="3.1"/><circle cx="236" cy="386.2" r="3.1"/><circle cx="198.5" cy="380.6" r="3.1"/><circle cx="138.6" cy="349.1" r="3.1"/><circle cx="155.8" cy="368.9" r="3.1"/><circle cx="146.8" cy="320.6" r="3.1"/><circle cx="318.7" cy="405.8" r="3.1"/><circle cx="155.8" cy="368.7" r="3.1"/><circle cx="138.6" cy="348.8" r="3.1"/><circle cx="165.9" cy="380.3" r="3.1"/><circle cx="237.8" cy="387.7" r="3.1"/><circle cx="198.5" cy="380" r="3.1"/><circle cx="138.6" cy="348.6" r="3.1"/><circle cx="181.2" cy="359.8" r="3.1"/><circle cx="155.8" cy="368.1" r="3.1"/><circle cx="138.6" cy="348.2" r="3.1"/><circle cx="138.6" cy="348.1" r="3.1"/><circle cx="138.6" cy="348.1" r="3.1"/><circle cx="146.7" cy="319.8" r="3.1"/><circle cx="155.8" cy="367.9" r="3.1"/><circle cx="138.6" cy="347.9" r="3.1"/><circle cx="138.6" cy="347.9" r="3.1"/><circle cx="138.6" cy="347.8" r="3.1"/><circle cx="195.1" cy="375.4" r="3.1"/><circle cx="155.8" cy="367.7" r="3.1"/><circle cx="318.9" cy="404.8" r="3.1"/><circle cx="155.8" cy="367.5" r="3.1"/><circle cx="155.8" cy="367.4" r="3.1"/><circle cx="198.5" cy="378.8" r="3.1"/><circle cx="155.8" cy="367.3" r="3.1"/><circle cx="275.3" cy="391.8" r="3.1"/><circle cx="155.8" cy="367.2" r="3.1"/><circle cx="146.7" cy="318.9" r="3.1"/><circle cx="165.9" cy="378.7" r="3.1"/><circle cx="138.5" cy="347.2" r="3.1"/><circle cx="241.1" cy="389.8" r="3.1"/><circle cx="363" cy="417.1" r="3.1"/><circle cx="138.5" cy="346.7" r="3.1"/><circle cx="155.8" cy="366.6" r="3.1"/><circle cx="138.5" cy="346.6" r="3.1"/><circle cx="204" cy="384.4" r="3.1"/><circle cx="198.4" cy="377.9" r="3.1"/><circle cx="195.1" cy="374.1" r="3.1"/><circle cx="130.3" cy="374.8" r="3.1"/><circle cx="146.7" cy="318" r="3.1"/><circle cx="138.5" cy="346.4" r="3.1"/><circle cx="138.5" cy="346.3" r="3.1"/><circle cx="191.3" cy="369.3" r="3.1"/><circle cx="155.7" cy="365.9" r="3.1"/><circle cx="154.9" cy="289.2" r="3.1"/><circle cx="165.8" cy="377.2" r="3.1"/><circle cx="155.7" cy="365.5" r="3.1"/><circle cx="130.3" cy="373.9" r="3.1"/><circle cx="146.7" cy="317.2" r="3.1"/><circle cx="155.7" cy="365.4" r="3.1"/><circle cx="155.7" cy="365.2" r="3.1"/><circle cx="198.4" cy="376.7" r="3.1"/><circle cx="242.6" cy="389.9" r="3.1"/></g><g fill-opacity=".84" stroke-opacity=".84"><circle cx="138.5" cy="345" r="3.1"/><circle cx="130.3" cy="373.3" r="3.1"/><circle cx="138.5" cy="344.8" r="3.1"/><circle cx="155.7" cy="364.6" r="3.1"/><circle cx="138.4" cy="344.7" r="3.1"/><circle cx="146.6" cy="316.3" r="3.1"/><circle cx="155.7" cy="364.5" r="3.1"/><circle cx="130.3" cy="372.9" r="3.1"/><circle cx="201.3" cy="379.3" r="3.1"/><circle cx="130.3" cy="372.8" r="3.1"/><circle cx="155.7" cy="364.4" r="3.1"/><circle cx="138.4" cy="344.4" r="3.1"/><circle cx="201.3" cy="379.2" r="3.1"/><circle cx="146.6" cy="316" r="3.1"/><circle cx="130.3" cy="372.7" r="3.1"/><circle cx="138.4" cy="344.3" r="3.1"/><circle cx="155.7" cy="364.2" r="3.1"/><circle cx="282.4" cy="396.9" r="3.1"/><circle cx="172.9" cy="384" r="3.1"/><circle cx="155.7" cy="363.9" r="3.1"/><circle cx="138.4" cy="344" r="3.1"/><circle cx="165.8" cy="375.5" r="3.1"/><circle cx="138.4" cy="343.9" r="3.1"/><circle cx="284.9" cy="399.5" r="3.1"/><circle cx="155.7" cy="363.7" r="3.1"/><circle cx="138.4" cy="343.6" r="3.1"/><circle cx="130.2" cy="371.9" r="3.1"/><circle cx="283.8" cy="397.9" r="3.1"/><circle cx="130.2" cy="371.7" r="3.1"/><circle cx="138.4" cy="343.3" r="3.1"/><circle cx="155.7" cy="363.2" r="3.1"/><circle cx="138.4" cy="343.1" r="3.1"/><circle cx="155.7" cy="362.9" r="3.1"/><circle cx="138.4" cy="342.9" r="3.1"/><circle cx="246.6" cy="392.2" r="3.1"/><circle cx="138.4" cy="342.9" r="3.1"/><circle cx="206.3" cy="383.4" r="3.1"/><circle cx="130.2" cy="371.1" r="3.1"/><circle cx="130.2" cy="371" r="3.1"/><circle cx="146.6" cy="314.3" r="3.1"/><circle cx="155.6" cy="362.5" r="3.1"/><circle cx="172.9" cy="382.4" r="3.1"/><circle cx="245.3" cy="390.4" r="3.1"/><circle cx="327.6" cy="409.7" r="3.1"/><circle cx="130.2" cy="370.8" r="3.1"/><circle cx="165.7" cy="373.9" r="3.1"/><circle cx="155.6" cy="362.1" r="3.1"/><circle cx="138.4" cy="342" r="3.1"/><circle cx="138.4" cy="342" r="3.1"/><circle cx="138.4" cy="342" r="3.1"/><circle cx="165.7" cy="373.5" r="3.1"/><circle cx="138.4" cy="341.7" r="3.1"/><circle cx="165.7" cy="373.3" r="3.1"/><circle cx="130.2" cy="370" r="3.1"/><circle cx="138.4" cy="341.6" r="3.1"/><circle cx="146.5" cy="313.1" r="3.1"/><circle cx="130.2" cy="369.9" r="3.1"/><circle cx="208.4" cy="384.6" r="3.1"/><circle cx="130.2" cy="369.8" r="3.1"/><circle cx="138.3" cy="341.3" r="3.1"/><circle cx="206.2" cy="381.8" r="3.1"/><circle cx="130.1" cy="369.4" r="3.1"/><circle cx="130.1" cy="369.3" r="3.1"/><circle cx="248.4" cy="392.4" r="3.1"/><circle cx="165.7" cy="372.5" r="3.1"/><circle cx="146.5" cy="312.5" r="3.1"/><circle cx="155.6" cy="360.7" r="3.1"/><circle cx="130.1" cy="369.2" r="3.1"/><circle cx="172.9" cy="380.7" r="3.1"/><circle cx="138.3" cy="340.8" r="3.1"/><circle cx="165.7" cy="372.3" r="3.1"/><circle cx="165.7" cy="372.2" r="3.1"/><circle cx="155.6" cy="360.6" r="3.1"/><circle cx="203.9" cy="378.5" r="3.1"/><circle cx="130.1" cy="368.8" r="3.1"/><circle cx="331.5" cy="412.2" r="3.1"/><circle cx="373.4" cy="422.7" r="3.1"/><circle cx="130.1" cy="368.8" r="3.1"/><circle cx="250.1" cy="393.7" r="3.1"/><circle cx="165.7" cy="371.8" r="3.1"/><circle cx="130.1" cy="368.5" r="3.1"/><circle cx="138.3" cy="340.1" r="3.1"/><circle cx="155.6" cy="360" r="3.1"/><circle cx="130.1" cy="368.4" r="3.1"/><circle cx="212.2" cy="387.5" r="3.1"/><circle cx="138.3" cy="339.9" r="3.1"/><circle cx="130.1" cy="368.1" r="3.1"/><circle cx="138.3" cy="339.7" r="3.1"/><circle cx="155.6" cy="359.6" r="3.1"/><circle cx="130.1" cy="368" r="3.1"/><circle cx="289.1" cy="400.2" r="3.1"/><circle cx="130.1" cy="367.8" r="3.1"/><circle cx="165.6" cy="371" r="3.1"/><circle cx="155.5" cy="359.3" r="3.1"/><circle cx="146.5" cy="310.9" r="3.1"/><circle cx="130.1" cy="367.5" r="3.1"/><circle cx="138.3" cy="339.1" r="3.1"/><circle cx="253.1" cy="395.9" r="3.1"/><circle cx="155.5" cy="359" r="3.1"/><circle cx="155.5" cy="358.9" r="3.1"/><circle cx="208.4" cy="382" r="3.1"/><circle cx="138.3" cy="338.9" r="3.1"/><circle cx="130.1" cy="367.2" r="3.1"/><circle cx="138.3" cy="338.8" r="3.1"/><circle cx="130.1" cy="367.2" r="3.1"/><circle cx="172.8" cy="378.5" r="3.1"/><circle cx="130.1" cy="366.8" r="3.1"/><circle cx="210.4" cy="383.8" r="3.1"/><circle cx="130.1" cy="366.8" r="3.1"/><circle cx="172.8" cy="378.2" r="3.1"/><circle cx="165.6" cy="369.9" r="3.1"/><circle cx="172.8" cy="378.1" r="3.1"/><circle cx="130" cy="366.5" r="3.1"/><circle cx="165.6" cy="369.8" r="3.1"/><circle cx="165.6" cy="369.7" r="3.1"/><circle cx="130" cy="366.4" r="3.1"/><circle cx="154.6" cy="281.2" r="3.1"/><circle cx="138.2" cy="337.9" r="3.1"/><circle cx="292.5" cy="402.5" r="3.1"/><circle cx="130" cy="366.3" r="3.1"/><circle cx="138.2" cy="337.7" r="3.1"/><circle cx="138.2" cy="337.7" r="3.1"/><circle cx="213.9" cy="387.2" r="3.1"/><circle cx="172.8" cy="377.5" r="3.1"/><circle cx="165.6" cy="369.2" r="3.1"/><circle cx="130" cy="365.9" r="3.1"/><circle cx="210.3" cy="382.8" r="3.1"/><circle cx="130" cy="365.7" r="3.1"/><circle cx="130" cy="365.6" r="3.1"/><circle cx="138.2" cy="337.2" r="3.1"/><circle cx="138.2" cy="337.2" r="3.1"/><circle cx="155.5" cy="357.1" r="3.1"/><circle cx="155.5" cy="357.1" r="3.1"/><circle cx="165.6" cy="368.7" r="3.1"/><circle cx="212.2" cy="384.6" r="3.1"/><circle cx="130" cy="365.4" r="3.1"/><circle cx="172.8" cy="376.9" r="3.1"/><circle cx="419.7" cy="434.6" r="3.1"/><circle cx="172.7" cy="376.5" r="3.1"/><circle cx="155.5" cy="356.5" r="3.1"/><circle cx="130" cy="364.9" r="3.1"/><circle cx="146.4" cy="308.1" r="3.1"/><circle cx="172.7" cy="376.4" r="3.1"/><circle cx="138.2" cy="336.5" r="3.1"/><circle cx="212.2" cy="384" r="3.1"/><circle cx="165.6" cy="368" r="3.1"/><circle cx="138.2" cy="336.3" r="3.1"/><circle cx="130" cy="364.6" r="3.1"/><circle cx="295.4" cy="404.1" r="3.1"/><circle cx="130" cy="364.5" r="3.1"/><circle cx="338.4" cy="415.8" r="3.1"/><circle cx="172.7" cy="375.8" r="3.1"/><circle cx="138.2" cy="335.8" r="3.1"/><circle cx="138.2" cy="335.8" r="3.1"/><circle cx="296.8" cy="405.3" r="3.1"/><circle cx="172.7" cy="375.6" r="3.1"/><circle cx="258.2" cy="398.5" r="3.1"/><circle cx="256.6" cy="396.6" r="3.1"/><circle cx="172.7" cy="375.3" r="3.1"/><circle cx="463.2" cy="445.6" r="3.1"/><circle cx="129.9" cy="363.7" r="3.1"/><circle cx="138.1" cy="335.2" r="3.1"/><circle cx="138.1" cy="335.2" r="3.1"/><circle cx="138.1" cy="335.2" r="3.1"/><circle cx="219.7" cy="391.5" r="3.1"/><circle cx="138.1" cy="335.1" r="3.1"/><circle cx="129.9" cy="363.5" r="3.1"/><circle cx="129.9" cy="363.4" r="3.1"/><circle cx="129.9" cy="363.3" r="3.1"/><circle cx="155.4" cy="354.7" r="3.1"/><circle cx="129.9" cy="363.2" r="3.1"/><circle cx="217" cy="387.9" r="3.1"/><circle cx="129.9" cy="363.1" r="3.1"/><circle cx="147.2" cy="383.1" r="3.1"/><circle cx="155.4" cy="354.6" r="3.1"/><circle cx="129.9" cy="363.1" r="3.1"/><circle cx="219.7" cy="390.9" r="3.1"/><circle cx="129.9" cy="362.8" r="3.1"/><circle cx="172.7" cy="374.3" r="3.1"/><circle cx="257.4" cy="396.4" r="3.1"/><circle cx="129.9" cy="362.5" r="3.1"/><circle cx="165.5" cy="365.7" r="3.1"/><circle cx="172.7" cy="373.7" r="3.1"/><circle cx="129.9" cy="362.1" r="3.1"/><circle cx="138.1" cy="333.7" r="3.1"/><circle cx="138.1" cy="333.7" r="3.1"/><circle cx="165.5" cy="365.3" r="3.1"/><circle cx="129.9" cy="362.1" r="3.1"/><circle cx="172.7" cy="373.6" r="3.1"/><circle cx="172.7" cy="373.5" r="3.1"/><circle cx="129.9" cy="361.9" r="3.1"/><circle cx="138.1" cy="333.2" r="3.1"/><circle cx="129.9" cy="361.6" r="3.1"/><circle cx="221" cy="391" r="3.1"/><circle cx="178.2" cy="379.5" r="3.1"/><circle cx="129.9" cy="361.5" r="3.1"/><circle cx="218.4" cy="387.8" r="3.1"/><circle cx="129.9" cy="361.2" r="3.1"/><circle cx="260.8" cy="398.8" r="3.1"/><circle cx="165.5" cy="364.4" r="3.1"/><circle cx="165.5" cy="364.3" r="3.1"/><circle cx="172.6" cy="372.5" r="3.1"/><circle cx="129.9" cy="361" r="3.1"/><circle cx="165.5" cy="364.1" r="3.1"/><circle cx="147.1" cy="380.9" r="3.1"/><circle cx="129.8" cy="360.9" r="3.1"/><circle cx="165.5" cy="364" r="3.1"/><circle cx="129.8" cy="360.8" r="3.1"/><circle cx="178.2" cy="378.7" r="3.1"/><circle cx="129.8" cy="360.6" r="3.1"/><circle cx="262.8" cy="400.4" r="3.1"/><circle cx="138" cy="332.1" r="3.1"/><circle cx="147.1" cy="380.4" r="3.1"/><circle cx="172.6" cy="372" r="3.1"/><circle cx="129.8" cy="360.4" r="3.1"/><circle cx="302.3" cy="407.8" r="3.1"/><circle cx="138" cy="331.6" r="3.1"/><circle cx="129.8" cy="359.8" r="3.1"/><circle cx="147.1" cy="379.6" r="3.1"/><circle cx="129.8" cy="359.6" r="3.1"/><circle cx="129.8" cy="359.4" r="3.1"/><circle cx="346.3" cy="419.9" r="3.1"/><circle cx="138" cy="330.9" r="3.1"/><circle cx="304.4" cy="409.4" r="3.1"/><circle cx="147.1" cy="379.2" r="3.1"/><circle cx="129.8" cy="359.2" r="3.1"/><circle cx="265" cy="401.6" r="3.1"/><circle cx="226.5" cy="395" r="3.1"/><circle cx="129.8" cy="358.9" r="3.1"/><circle cx="129.8" cy="358.8" r="3.1"/><circle cx="138" cy="330.4" r="3.1"/><circle cx="129.8" cy="358.8" r="3.1"/><circle cx="147.1" cy="378.7" r="3.1"/><circle cx="129.8" cy="358.7" r="3.1"/><circle cx="178.1" cy="376.6" r="3.1"/><circle cx="147.1" cy="378.6" r="3.1"/><circle cx="389.3" cy="430.8" r="3.1"/><circle cx="172.6" cy="369.9" r="3.1"/><circle cx="138" cy="329.8" r="3.1"/><circle cx="220.9" cy="387.7" r="3.1"/><circle cx="182.7" cy="381.4" r="3.1"/><circle cx="129.8" cy="358.2" r="3.1"/><circle cx="129.8" cy="358" r="3.1"/><circle cx="224.4" cy="391.5" r="3.1"/><circle cx="129.7" cy="357.9" r="3.1"/><circle cx="267.2" cy="402.9" r="3.1"/><circle cx="129.7" cy="357.7" r="3.1"/><circle cx="147" cy="377.6" r="3.1"/><circle cx="268.3" cy="403.8" r="3.1"/><circle cx="186.5" cy="385.2" r="3.1"/><circle cx="147" cy="377.5" r="3.1"/><circle cx="129.7" cy="357.5" r="3.1"/><circle cx="178.1" cy="375.4" r="3.1"/><circle cx="129.7" cy="357.4" r="3.1"/><circle cx="147" cy="377.4" r="3.1"/><circle cx="129.7" cy="357.4" r="3.1"/><circle cx="146.1" cy="300.5" r="3.1"/><circle cx="227.5" cy="394.2" r="3.1"/><circle cx="172.5" cy="368.7" r="3.1"/><circle cx="182.6" cy="380.3" r="3.1"/><circle cx="178.1" cy="375" r="3.1"/><circle cx="228.4" cy="395.2" r="3.1"/><circle cx="147" cy="377" r="3.1"/><circle cx="137.9" cy="328.4" r="3.1"/><circle cx="147" cy="376.8" r="3.1"/><circle cx="129.7" cy="356.7" r="3.1"/><circle cx="147" cy="376.7" r="3.1"/><circle cx="178.1" cy="374.6" r="3.1"/><circle cx="129.7" cy="356.6" r="3.1"/><circle cx="147" cy="376.6" r="3.1"/><circle cx="129.7" cy="356.5" r="3.1"/><circle cx="147" cy="376.3" r="3.1"/><circle cx="137.9" cy="327.8" r="3.1"/><circle cx="157.1" cy="387.7" r="3.1"/><circle cx="147" cy="375.9" r="3.1"/><circle cx="147" cy="375.8" r="3.1"/><circle cx="186.5" cy="383.2" r="3.1"/><circle cx="147" cy="375.5" r="3.1"/><circle cx="129.7" cy="355.5" r="3.1"/><circle cx="189.8" cy="387" r="3.1"/><circle cx="129.7" cy="355.4" r="3.1"/><circle cx="178.1" cy="373.3" r="3.1"/><circle cx="137.9" cy="326.9" r="3.1"/><circle cx="165.3" cy="358.3" r="3.1"/><circle cx="229.3" cy="394.1" r="3.1"/><circle cx="129.6" cy="354.9" r="3.1"/><circle cx="231.8" cy="397" r="3.1"/><circle cx="227.4" cy="391.9" r="3.1"/><circle cx="129.6" cy="354.7" r="3.1"/><circle cx="137.8" cy="326" r="3.1"/><circle cx="311.2" cy="412.4" r="3.1"/><circle cx="146.9" cy="374.4" r="3.1"/><circle cx="354.6" cy="424.5" r="3.1"/><circle cx="129.6" cy="354.3" r="3.1"/><circle cx="129.6" cy="354.3" r="3.1"/><circle cx="157.1" cy="385.9" r="3.1"/><circle cx="146.9" cy="374.2" r="3.1"/><circle cx="129.6" cy="354" r="3.1"/><circle cx="189.8" cy="385.5" r="3.1"/><circle cx="186.4" cy="381.6" r="3.1"/><circle cx="129.6" cy="353.8" r="3.1"/><circle cx="129.6" cy="353.8" r="3.1"/><circle cx="121.4" cy="382.1" r="3.1"/><circle cx="189.7" cy="384.8" r="3.1"/><circle cx="137.8" cy="324.8" r="3.1"/><circle cx="129.6" cy="353.1" r="3.1"/><circle cx="146.9" cy="373" r="3.1"/><circle cx="182.5" cy="376.2" r="3.1"/><circle cx="314.2" cy="414.4" r="3.1"/><circle cx="275.2" cy="407.2" r="3.1"/><circle cx="121.4" cy="381.3" r="3.1"/><circle cx="186.4" cy="380.4" r="3.1"/><circle cx="137.8" cy="324.3" r="3.1"/><circle cx="157" cy="384.2" r="3.1"/><circle cx="189.7" cy="384" r="3.1"/><circle cx="146.9" cy="372.5" r="3.1"/><circle cx="129.6" cy="352.3" r="3.1"/><circle cx="146.9" cy="372.2" r="3.1"/><circle cx="121.3" cy="380.6" r="3.1"/><circle cx="137.8" cy="323.6" r="3.1"/><circle cx="157" cy="383.8" r="3.1"/><circle cx="146.9" cy="372" r="3.1"/><circle cx="235.5" cy="398.5" r="3.1"/><circle cx="316.9" cy="416.4" r="3.1"/><circle cx="234.1" cy="396.6" r="3.1"/><circle cx="189.7" cy="383.1" r="3.1"/><circle cx="129.5" cy="351.6" r="3.1"/><circle cx="137.7" cy="323.1" r="3.1"/><circle cx="276" cy="406.8" r="3.1"/><circle cx="146.8" cy="371.5" r="3.1"/><circle cx="164.2" cy="391.4" r="3.1"/><circle cx="121.3" cy="379.8" r="3.1"/><circle cx="146.8" cy="371.2" r="3.1"/><circle cx="177.9" cy="369.2" r="3.1"/><circle cx="121.3" cy="379.6" r="3.1"/><circle cx="129.5" cy="351.1" r="3.1"/><circle cx="157" cy="382.8" r="3.1"/><circle cx="137.7" cy="322.6" r="3.1"/><circle cx="279.2" cy="410" r="3.1"/><circle cx="146.8" cy="370.9" r="3.1"/><circle cx="157" cy="382.5" r="3.1"/><circle cx="156.9" cy="382.4" r="3.1"/><circle cx="129.5" cy="350.6" r="3.1"/><circle cx="192.6" cy="385.5" r="3.1"/><circle cx="192.6" cy="385.4" r="3.1"/><circle cx="121.3" cy="378.8" r="3.1"/><circle cx="238.1" cy="399.7" r="3.1"/><circle cx="156.9" cy="381.8" r="3.1"/><circle cx="137.7" cy="321.6" r="3.1"/><circle cx="137.7" cy="321.4" r="3.1"/><circle cx="164.1" cy="389.8" r="3.1"/><circle cx="129.5" cy="349.8" r="3.1"/><circle cx="129.5" cy="349.7" r="3.1"/><circle cx="129.5" cy="349.7" r="3.1"/><circle cx="129.5" cy="349.6" r="3.1"/><circle cx="121.2" cy="378" r="3.1"/><circle cx="146.8" cy="369.5" r="3.1"/><circle cx="121.2" cy="377.9" r="3.1"/><circle cx="280.2" cy="409.5" r="3.1"/><circle cx="137.7" cy="320.8" r="3.1"/><circle cx="121.2" cy="377.7" r="3.1"/><circle cx="239.9" cy="400.6" r="3.1"/><circle cx="129.4" cy="348.7" r="3.1"/><circle cx="146.8" cy="368.7" r="3.1"/><circle cx="137.6" cy="319.9" r="3.1"/><circle cx="322.6" cy="419.5" r="3.1"/><circle cx="164.1" cy="388.2" r="3.1"/><circle cx="197.6" cy="389" r="3.1"/><circle cx="121.2" cy="376.7" r="3.1"/><circle cx="156.9" cy="379.8" r="3.1"/><circle cx="121.2" cy="376.5" r="3.1"/><circle cx="129.4" cy="348" r="3.1"/><circle cx="121.2" cy="376.3" r="3.1"/><circle cx="199.7" cy="391" r="3.1"/><circle cx="189.6" cy="379.3" r="3.1"/><circle cx="121.2" cy="376.3" r="3.1"/><circle cx="137.6" cy="319.1" r="3.1"/><circle cx="195.2" cy="385.5" r="3.1"/><circle cx="145.8" cy="290.5" r="3.1"/><circle cx="365.6" cy="430.3" r="3.1"/><circle cx="121.2" cy="375.9" r="3.1"/><circle cx="146.7" cy="367.4" r="3.1"/><circle cx="197.6" cy="388" r="3.1"/><circle cx="121.2" cy="375.8" r="3.1"/><circle cx="121.2" cy="375.7" r="3.1"/><circle cx="129.4" cy="347.1" r="3.1"/><circle cx="121.2" cy="375.5" r="3.1"/><circle cx="156.8" cy="378.7" r="3.1"/><circle cx="237.4" cy="395.7" r="3.1"/><circle cx="121.1" cy="375.4" r="3.1"/><circle cx="121.1" cy="375.2" r="3.1"/><circle cx="137.6" cy="318.2" r="3.1"/><circle cx="121.1" cy="375.2" r="3.1"/><circle cx="164" cy="386.7" r="3.1"/><circle cx="197.5" cy="387.4" r="3.1"/><circle cx="201.7" cy="392.1" r="3.1"/><circle cx="156.8" cy="378.1" r="3.1"/><circle cx="121.1" cy="374.9" r="3.1"/><circle cx="121.1" cy="374.8" r="3.1"/><circle cx="129.3" cy="346.3" r="3.1"/><circle cx="164" cy="386.2" r="3.1"/><circle cx="121.1" cy="374.6" r="3.1"/><circle cx="121.1" cy="374.6" r="3.1"/><circle cx="121.1" cy="374.5" r="3.1"/><circle cx="245.1" cy="403.5" r="3.1"/><circle cx="201.7" cy="391.4" r="3.1"/><circle cx="146.7" cy="365.8" r="3.1"/><circle cx="137.6" cy="317.3" r="3.1"/><circle cx="121.1" cy="374.2" r="3.1"/><circle cx="192.5" cy="380.6" r="3.1"/><circle cx="129.3" cy="345.7" r="3.1"/><circle cx="121.1" cy="374.1" r="3.1"/><circle cx="156.8" cy="377.1" r="3.1"/><circle cx="121.1" cy="373.7" r="3.1"/><circle cx="121.1" cy="373.7" r="3.1"/><circle cx="169.6" cy="391.7" r="3.1"/><circle cx="121.1" cy="373.6" r="3.1"/><circle cx="199.7" cy="388.4" r="3.1"/><circle cx="287" cy="413.2" r="3.1"/><circle cx="164" cy="385.1" r="3.1"/><circle cx="137.5" cy="316.5" r="3.1"/><circle cx="201.7" cy="390.4" r="3.1"/><circle cx="121.1" cy="373.3" r="3.1"/><circle cx="121.1" cy="373.1" r="3.1"/><circle cx="129.3" cy="344.5" r="3.1"/><circle cx="156.8" cy="376.2" r="3.1"/><circle cx="121.1" cy="373" r="3.1"/><circle cx="121.1" cy="372.8" r="3.1"/><circle cx="146.6" cy="364.2" r="3.1"/><circle cx="137.5" cy="315.7" r="3.1"/><circle cx="164" cy="384.1" r="3.1"/><circle cx="199.7" cy="387.4" r="3.1"/><circle cx="156.8" cy="375.8" r="3.1"/><circle cx="121" cy="372.3" r="3.1"/><circle cx="129.3" cy="343.7" r="3.1"/><circle cx="203.5" cy="391.4" r="3.1"/><circle cx="169.5" cy="390.1" r="3.1"/><circle cx="412.2" cy="442.3" r="3.1"/><circle cx="169.5" cy="389.9" r="3.1"/><circle cx="248.6" cy="405.1" r="3.1"/><circle cx="330.1" cy="423.3" r="3.1"/><circle cx="121" cy="371.7" r="3.1"/><circle cx="205.2" cy="392.9" r="3.1"/><circle cx="121" cy="371.5" r="3.1"/><circle cx="247.3" cy="403.3" r="3.1"/><circle cx="121" cy="371.4" r="3.1"/><circle cx="129.2" cy="342.8" r="3.1"/><circle cx="146.6" cy="362.7" r="3.1"/><circle cx="292.2" cy="416.6" r="3.1"/><circle cx="203.5" cy="390.2" r="3.1"/><circle cx="121" cy="370.9" r="3.1"/><circle cx="248.5" cy="404.1" r="3.1"/><circle cx="205.2" cy="392.1" r="3.1"/><circle cx="455.7" cy="453.3" r="3.1"/><circle cx="137.4" cy="313.8" r="3.1"/><circle cx="163.9" cy="382.4" r="3.1"/><circle cx="121" cy="370.5" r="3.1"/><circle cx="129.2" cy="341.9" r="3.1"/><circle cx="121" cy="370.4" r="3.1"/><circle cx="138.3" cy="390.5" r="3.1"/><circle cx="121" cy="370.3" r="3.1"/><circle cx="208.3" cy="395.1" r="3.1"/><circle cx="129.2" cy="341.6" r="3.1"/><circle cx="121" cy="370.1" r="3.1"/><circle cx="203.5" cy="389.3" r="3.1"/><circle cx="121" cy="370" r="3.1"/><circle cx="205.2" cy="391.1" r="3.1"/><circle cx="156.7" cy="373" r="3.1"/><circle cx="120.9" cy="369.7" r="3.1"/><circle cx="163.9" cy="381.2" r="3.1"/><circle cx="206.8" cy="392.8" r="3.1"/><circle cx="251.6" cy="406.5" r="3.1"/><circle cx="120.9" cy="369.6" r="3.1"/><circle cx="129.2" cy="341.1" r="3.1"/><circle cx="129.2" cy="341" r="3.1"/><circle cx="174" cy="392.8" r="3.1"/><circle cx="120.9" cy="369.5" r="3.1"/><circle cx="292.8" cy="415.9" r="3.1"/><circle cx="120.9" cy="369.4" r="3.1"/><circle cx="129.2" cy="340.8" r="3.1"/><circle cx="212.4" cy="398.7" r="3.1"/><circle cx="169.4" cy="387.2" r="3.1"/><circle cx="120.9" cy="369.1" r="3.1"/><circle cx="137.4" cy="312.1" r="3.1"/><circle cx="120.9" cy="369" r="3.1"/><circle cx="163.8" cy="380.6" r="3.1"/><circle cx="146.5" cy="360.5" r="3.1"/><circle cx="174" cy="392.2" r="3.1"/><circle cx="163.8" cy="380.5" r="3.1"/><circle cx="120.9" cy="368.9" r="3.1"/><circle cx="120.9" cy="368.9" r="3.1"/><circle cx="138.3" cy="388.9" r="3.1"/><circle cx="211.1" cy="396.9" r="3.1"/><circle cx="156.6" cy="372" r="3.1"/><circle cx="129.1" cy="340.2" r="3.1"/><circle cx="120.9" cy="368.5" r="3.1"/><circle cx="120.9" cy="368.5" r="3.1"/><circle cx="120.9" cy="368.3" r="3.1"/><circle cx="211.1" cy="396.4" r="3.1"/><circle cx="129.1" cy="339.5" r="3.1"/><circle cx="120.9" cy="368" r="3.1"/><circle cx="120.9" cy="367.8" r="3.1"/><circle cx="120.9" cy="367.8" r="3.1"/><circle cx="138.2" cy="387.8" r="3.1"/><circle cx="137.3" cy="310.6" r="3.1"/><circle cx="120.9" cy="367.6" r="3.1"/><circle cx="174" cy="390.9" r="3.1"/><circle cx="120.9" cy="367.3" r="3.1"/><circle cx="163.8" cy="378.8" r="3.1"/><circle cx="174" cy="390.6" r="3.1"/><circle cx="138.2" cy="387.3" r="3.1"/><circle cx="169.4" cy="385.2" r="3.1"/><circle cx="173.9" cy="390.4" r="3.1"/><circle cx="337.7" cy="427.3" r="3.1"/><circle cx="120.8" cy="367" r="3.1"/><circle cx="129.1" cy="338.5" r="3.1"/><circle cx="120.8" cy="366.8" r="3.1"/><circle cx="256.2" cy="409" r="3.1"/><circle cx="173.9" cy="390.1" r="3.1"/><circle cx="173.9" cy="389.9" r="3.1"/><circle cx="255.9" cy="408.3" r="3.1"/></g><g fill-opacity=".88" stroke-opacity=".88"><circle cx="120.8" cy="366.3" r="3.1"/><circle cx="212.3" cy="395.8" r="3.1"/><circle cx="138.2" cy="386.2" r="3.1"/><circle cx="129" cy="337.6" r="3.1"/><circle cx="120.8" cy="366.1" r="3.1"/><circle cx="129" cy="337.4" r="3.1"/><circle cx="177.8" cy="393.6" r="3.1"/><circle cx="120.8" cy="365.7" r="3.1"/><circle cx="163.8" cy="377.3" r="3.1"/><circle cx="216.9" cy="400.4" r="3.1"/><circle cx="381.6" cy="438.4" r="3.1"/><circle cx="173.9" cy="388.8" r="3.1"/><circle cx="120.8" cy="365.3" r="3.1"/><circle cx="169.3" cy="383.3" r="3.1"/><circle cx="120.8" cy="365.1" r="3.1"/><circle cx="173.9" cy="388.4" r="3.1"/><circle cx="215.8" cy="398.6" r="3.1"/><circle cx="120.8" cy="365" r="3.1"/><circle cx="138.1" cy="384.9" r="3.1"/><circle cx="120.8" cy="364.8" r="3.1"/><circle cx="181.1" cy="396.3" r="3.1"/><circle cx="137.2" cy="307.6" r="3.1"/><circle cx="300.9" cy="420.4" r="3.1"/><circle cx="120.8" cy="364.5" r="3.1"/><circle cx="215.8" cy="398.1" r="3.1"/><circle cx="120.7" cy="364.3" r="3.1"/><circle cx="129" cy="335.7" r="3.1"/><circle cx="120.7" cy="364.2" r="3.1"/><circle cx="120.7" cy="364.2" r="3.1"/><circle cx="146.3" cy="355.7" r="3.1"/><circle cx="177.7" cy="391.9" r="3.1"/><circle cx="138.1" cy="384.1" r="3.1"/><circle cx="120.7" cy="364" r="3.1"/><circle cx="163.7" cy="375.6" r="3.1"/><circle cx="120.7" cy="363.9" r="3.1"/><circle cx="120.7" cy="363.7" r="3.1"/><circle cx="120.7" cy="363.6" r="3.1"/><circle cx="215.8" cy="397.1" r="3.1"/><circle cx="120.7" cy="363.4" r="3.1"/><circle cx="219.8" cy="401.6" r="3.1"/><circle cx="148.2" cy="395.1" r="3.1"/><circle cx="138.1" cy="383.3" r="3.1"/><circle cx="218.8" cy="400.4" r="3.1"/><circle cx="261.8" cy="411.9" r="3.1"/><circle cx="138.1" cy="383.1" r="3.1"/><circle cx="215.8" cy="396.6" r="3.1"/><circle cx="138.1" cy="382.9" r="3.1"/><circle cx="120.7" cy="362.7" r="3.1"/><circle cx="138.1" cy="382.8" r="3.1"/><circle cx="120.7" cy="362.5" r="3.1"/><circle cx="138.1" cy="382.6" r="3.1"/><circle cx="128.9" cy="333.9" r="3.1"/><circle cx="138.1" cy="382.5" r="3.1"/><circle cx="120.7" cy="362.4" r="3.1"/><circle cx="138" cy="382.3" r="3.1"/><circle cx="120.7" cy="362.2" r="3.1"/><circle cx="120.7" cy="362.2" r="3.1"/><circle cx="138" cy="382.1" r="3.1"/><circle cx="120.7" cy="362" r="3.1"/><circle cx="138" cy="382" r="3.1"/><circle cx="262.5" cy="411.5" r="3.1"/><circle cx="184" cy="396.8" r="3.1"/><circle cx="148.2" cy="393.5" r="3.1"/><circle cx="346.7" cy="432.1" r="3.1"/><circle cx="138" cy="381.4" r="3.1"/><circle cx="184" cy="396.3" r="3.1"/><circle cx="120.6" cy="361.2" r="3.1"/><circle cx="189" cy="402" r="3.1"/><circle cx="120.6" cy="361" r="3.1"/><circle cx="112.4" cy="389.5" r="3.1"/><circle cx="186.6" cy="399" r="3.1"/><circle cx="120.6" cy="360.8" r="3.1"/><circle cx="120.6" cy="360.8" r="3.1"/><circle cx="181" cy="392.4" r="3.1"/><circle cx="138" cy="380.8" r="3.1"/><circle cx="148.2" cy="392.3" r="3.1"/><circle cx="128.9" cy="331.9" r="3.1"/><circle cx="120.6" cy="360.4" r="3.1"/><circle cx="307.2" cy="423.5" r="3.1"/><circle cx="120.6" cy="360.3" r="3.1"/><circle cx="120.6" cy="360.3" r="3.1"/><circle cx="112.4" cy="388.7" r="3.1"/><circle cx="138" cy="380.1" r="3.1"/><circle cx="189" cy="400.8" r="3.1"/><circle cx="120.6" cy="359.9" r="3.1"/><circle cx="138" cy="379.9" r="3.1"/><circle cx="148.1" cy="391.6" r="3.1"/><circle cx="220.6" cy="399.1" r="3.1"/><circle cx="120.6" cy="359.7" r="3.1"/><circle cx="186.6" cy="397.8" r="3.1"/><circle cx="183.9" cy="394.7" r="3.1"/><circle cx="222.3" cy="400.9" r="3.1"/><circle cx="266.8" cy="414.1" r="3.1"/><circle cx="120.6" cy="359.5" r="3.1"/><circle cx="137.9" cy="379.3" r="3.1"/><circle cx="112.3" cy="387.8" r="3.1"/><circle cx="186.5" cy="397.3" r="3.1"/><circle cx="137.9" cy="379.2" r="3.1"/><circle cx="120.6" cy="359.1" r="3.1"/><circle cx="120.6" cy="359" r="3.1"/><circle cx="120.6" cy="358.9" r="3.1"/><circle cx="155.3" cy="398.8" r="3.1"/><circle cx="148.1" cy="390.4" r="3.1"/><circle cx="137.9" cy="378.6" r="3.1"/><circle cx="137.9" cy="378.5" r="3.1"/><circle cx="112.3" cy="386.9" r="3.1"/><circle cx="137.9" cy="378.2" r="3.1"/><circle cx="128.8" cy="329.5" r="3.1"/><circle cx="120.5" cy="357.9" r="3.1"/><circle cx="137.9" cy="377.7" r="3.1"/><circle cx="183.9" cy="392.6" r="3.1"/><circle cx="137.9" cy="377.6" r="3.1"/><circle cx="112.3" cy="386" r="3.1"/><circle cx="137.9" cy="377.5" r="3.1"/><circle cx="112.2" cy="385.9" r="3.1"/><circle cx="148.1" cy="389.1" r="3.1"/><circle cx="112.2" cy="385.8" r="3.1"/><circle cx="137.9" cy="377.2" r="3.1"/><circle cx="120.5" cy="357" r="3.1"/><circle cx="112.2" cy="385.5" r="3.1"/><circle cx="148" cy="388.6" r="3.1"/><circle cx="270.8" cy="416" r="3.1"/><circle cx="137.9" cy="376.8" r="3.1"/><circle cx="313" cy="426.6" r="3.1"/><circle cx="112.2" cy="385.2" r="3.1"/><circle cx="112.2" cy="385.1" r="3.1"/><circle cx="137.9" cy="376.5" r="3.1"/><circle cx="155.2" cy="396.6" r="3.1"/><circle cx="120.5" cy="356.4" r="3.1"/><circle cx="137.9" cy="376.5" r="3.1"/><circle cx="112.2" cy="385" r="3.1"/><circle cx="137.9" cy="376.4" r="3.1"/><circle cx="137.8" cy="376.4" r="3.1"/><circle cx="112.2" cy="384.8" r="3.1"/><circle cx="112.2" cy="384.6" r="3.1"/><circle cx="112.2" cy="384.5" r="3.1"/><circle cx="148" cy="387.7" r="3.1"/><circle cx="112.2" cy="384.4" r="3.1"/><circle cx="188.9" cy="396.6" r="3.1"/><circle cx="137.8" cy="375.8" r="3.1"/><circle cx="120.4" cy="355.6" r="3.1"/><circle cx="194.9" cy="403.5" r="3.1"/><circle cx="112.2" cy="384.2" r="3.1"/><circle cx="148" cy="387.4" r="3.1"/><circle cx="188.8" cy="396.4" r="3.1"/><circle cx="137.8" cy="375.6" r="3.1"/><circle cx="120.4" cy="355.4" r="3.1"/><circle cx="227.5" cy="402.8" r="3.1"/><circle cx="112.2" cy="383.9" r="3.1"/><circle cx="155.2" cy="395.5" r="3.1"/><circle cx="137.8" cy="375.3" r="3.1"/><circle cx="112.2" cy="383.7" r="3.1"/><circle cx="120.4" cy="355.1" r="3.1"/><circle cx="148" cy="386.9" r="3.1"/><circle cx="193" cy="400.7" r="3.1"/><circle cx="112.2" cy="383.5" r="3.1"/><circle cx="273.7" cy="417.6" r="3.1"/><circle cx="148" cy="386.7" r="3.1"/><circle cx="112.2" cy="383.4" r="3.1"/><circle cx="148" cy="386.6" r="3.1"/><circle cx="120.4" cy="354.7" r="3.1"/><circle cx="148" cy="386.5" r="3.1"/><circle cx="231.9" cy="407.1" r="3.1"/><circle cx="230.7" cy="405.7" r="3.1"/><circle cx="193" cy="400.2" r="3.1"/><circle cx="191" cy="397.9" r="3.1"/><circle cx="112.1" cy="383" r="3.1"/><circle cx="120.4" cy="354.4" r="3.1"/><circle cx="112.1" cy="382.9" r="3.1"/><circle cx="231.9" cy="406.7" r="3.1"/><circle cx="194.9" cy="402.1" r="3.1"/><circle cx="120.4" cy="354.2" r="3.1"/><circle cx="112.1" cy="382.6" r="3.1"/><circle cx="358.4" cy="438.2" r="3.1"/><circle cx="275.7" cy="419" r="3.1"/><circle cx="155.2" cy="394.1" r="3.1"/><circle cx="120.4" cy="353.9" r="3.1"/><circle cx="112.1" cy="382.5" r="3.1"/><circle cx="147.9" cy="385.7" r="3.1"/><circle cx="137.8" cy="373.9" r="3.1"/><circle cx="112.1" cy="382.4" r="3.1"/><circle cx="112.1" cy="382.3" r="3.1"/><circle cx="231.3" cy="405.5" r="3.1"/><circle cx="112.1" cy="382.3" r="3.1"/><circle cx="120.4" cy="353.7" r="3.1"/><circle cx="277.2" cy="420.3" r="3.1"/><circle cx="147.9" cy="385.3" r="3.1"/><circle cx="112.1" cy="382" r="3.1"/><circle cx="112.1" cy="381.9" r="3.1"/><circle cx="112.1" cy="381.7" r="3.1"/><circle cx="112.1" cy="381.6" r="3.1"/><circle cx="112.1" cy="381.5" r="3.1"/><circle cx="233" cy="406.7" r="3.1"/><circle cx="147.9" cy="384.7" r="3.1"/><circle cx="112.1" cy="381.3" r="3.1"/><circle cx="112.1" cy="381.3" r="3.1"/><circle cx="112.1" cy="381.1" r="3.1"/><circle cx="120.3" cy="352.4" r="3.1"/><circle cx="137.7" cy="372.4" r="3.1"/><circle cx="236.5" cy="410.1" r="3.1"/><circle cx="112.1" cy="380.7" r="3.1"/><circle cx="112.1" cy="380.7" r="3.1"/><circle cx="112" cy="380.6" r="3.1"/><circle cx="112" cy="380.6" r="3.1"/><circle cx="160.7" cy="398.5" r="3.1"/><circle cx="120.3" cy="351.8" r="3.1"/><circle cx="235.5" cy="408.6" r="3.1"/><circle cx="112" cy="380.4" r="3.1"/><circle cx="137.7" cy="371.8" r="3.1"/><circle cx="320.6" cy="430.5" r="3.1"/><circle cx="155.1" cy="391.8" r="3.1"/><circle cx="112" cy="380" r="3.1"/><circle cx="147.9" cy="383.2" r="3.1"/><circle cx="155.1" cy="391.6" r="3.1"/><circle cx="112" cy="379.8" r="3.1"/><circle cx="199.7" cy="404.7" r="3.1"/><circle cx="202.5" cy="407.8" r="3.1"/><circle cx="155.1" cy="391.2" r="3.1"/><circle cx="120.3" cy="350.9" r="3.1"/><circle cx="112" cy="379.5" r="3.1"/><circle cx="404.4" cy="450" r="3.1"/><circle cx="112" cy="379.4" r="3.1"/><circle cx="155.1" cy="390.9" r="3.1"/><circle cx="112" cy="379.3" r="3.1"/><circle cx="112" cy="379.1" r="3.1"/><circle cx="128.5" cy="321.9" r="3.1"/><circle cx="239.6" cy="412" r="3.1"/><circle cx="155.1" cy="390.6" r="3.1"/><circle cx="155.1" cy="390.5" r="3.1"/><circle cx="160.7" cy="396.8" r="3.1"/><circle cx="120.2" cy="350.1" r="3.1"/><circle cx="112" cy="378.5" r="3.1"/><circle cx="137.6" cy="370" r="3.1"/><circle cx="112" cy="378.4" r="3.1"/><circle cx="112" cy="378.4" r="3.1"/><circle cx="129.4" cy="398.4" r="3.1"/><circle cx="448.1" cy="461.1" r="3.1"/><circle cx="112" cy="378.1" r="3.1"/><circle cx="155" cy="389.7" r="3.1"/><circle cx="112" cy="378.1" r="3.1"/><circle cx="120.2" cy="349.4" r="3.1"/><circle cx="112" cy="378" r="3.1"/><circle cx="155" cy="389.5" r="3.1"/><circle cx="111.9" cy="377.9" r="3.1"/><circle cx="165.2" cy="401.2" r="3.1"/><circle cx="111.9" cy="377.8" r="3.1"/><circle cx="147.8" cy="380.9" r="3.1"/><circle cx="111.9" cy="377.7" r="3.1"/><circle cx="111.9" cy="377.5" r="3.1"/><circle cx="203.7" cy="407.2" r="3.1"/><circle cx="111.9" cy="377.3" r="3.1"/><circle cx="120.2" cy="348.6" r="3.1"/><circle cx="129.3" cy="397.2" r="3.1"/><circle cx="111.9" cy="377" r="3.1"/><circle cx="240.4" cy="410.9" r="3.1"/><circle cx="111.9" cy="376.8" r="3.1"/><circle cx="111.9" cy="376.6" r="3.1"/><circle cx="284.8" cy="423.5" r="3.1"/><circle cx="111.9" cy="376.5" r="3.1"/><circle cx="160.6" cy="394.5" r="3.1"/><circle cx="243.4" cy="413.6" r="3.1"/><circle cx="155" cy="387.8" r="3.1"/><circle cx="129.3" cy="396.3" r="3.1"/><circle cx="147.7" cy="379.4" r="3.1"/><circle cx="120.1" cy="347.5" r="3.1"/><circle cx="203.7" cy="405.6" r="3.1"/><circle cx="111.9" cy="375.8" r="3.1"/><circle cx="111.9" cy="375.7" r="3.1"/><circle cx="243" cy="412.6" r="3.1"/><circle cx="241.5" cy="410.8" r="3.1"/><circle cx="111.9" cy="375.4" r="3.1"/><circle cx="111.9" cy="375.4" r="3.1"/><circle cx="129.3" cy="395.4" r="3.1"/><circle cx="245.1" cy="414.7" r="3.1"/><circle cx="120.1" cy="346.6" r="3.1"/><circle cx="111.8" cy="375.2" r="3.1"/><circle cx="169" cy="402.8" r="3.1"/><circle cx="111.8" cy="374.9" r="3.1"/><circle cx="207.2" cy="408.6" r="3.1"/><circle cx="154.9" cy="386.3" r="3.1"/><circle cx="137.5" cy="366.1" r="3.1"/><circle cx="329.5" cy="434.9" r="3.1"/><circle cx="120.1" cy="345.7" r="3.1"/><circle cx="111.8" cy="374.3" r="3.1"/><circle cx="169" cy="402.1" r="3.1"/><circle cx="210.2" cy="411.4" r="3.1"/><circle cx="203.6" cy="403.8" r="3.1"/><circle cx="160.5" cy="392" r="3.1"/><circle cx="165.1" cy="397.2" r="3.1"/><circle cx="111.8" cy="373.8" r="3.1"/><circle cx="111.8" cy="373.8" r="3.1"/><circle cx="111.8" cy="373.7" r="3.1"/><circle cx="111.8" cy="373.5" r="3.1"/><circle cx="120" cy="344.8" r="3.1"/><circle cx="111.8" cy="373.4" r="3.1"/><circle cx="160.5" cy="391.5" r="3.1"/><circle cx="129.2" cy="393.4" r="3.1"/><circle cx="248.8" cy="416.9" r="3.1"/><circle cx="111.8" cy="373.1" r="3.1"/><circle cx="154.9" cy="384.7" r="3.1"/><circle cx="373.4" cy="446.1" r="3.1"/><circle cx="111.8" cy="373" r="3.1"/><circle cx="111.8" cy="372.9" r="3.1"/><circle cx="120" cy="344.2" r="3.1"/><circle cx="160.5" cy="390.8" r="3.1"/><circle cx="111.8" cy="372.7" r="3.1"/><circle cx="168.9" cy="400.5" r="3.1"/><circle cx="165.1" cy="396" r="3.1"/><circle cx="111.7" cy="372.5" r="3.1"/><circle cx="111.7" cy="372.5" r="3.1"/><circle cx="129.2" cy="392.6" r="3.1"/><circle cx="207.1" cy="406.1" r="3.1"/><circle cx="120" cy="343.6" r="3.1"/><circle cx="129.2" cy="392.3" r="3.1"/><circle cx="129.2" cy="392.2" r="3.1"/><circle cx="165" cy="395.4" r="3.1"/><circle cx="129.1" cy="392" r="3.1"/><circle cx="111.7" cy="371.8" r="3.1"/><circle cx="207.1" cy="405.6" r="3.1"/><circle cx="129.1" cy="391.9" r="3.1"/><circle cx="165" cy="395.1" r="3.1"/><circle cx="111.7" cy="371.7" r="3.1"/><circle cx="120" cy="342.8" r="3.1"/><circle cx="165" cy="394.8" r="3.1"/><circle cx="111.7" cy="371.4" r="3.1"/><circle cx="129.1" cy="391.5" r="3.1"/><circle cx="291.9" cy="426.7" r="3.1"/><circle cx="111.7" cy="371.3" r="3.1"/><circle cx="129.1" cy="391.4" r="3.1"/><circle cx="168.9" cy="399" r="3.1"/><circle cx="293.5" cy="428.2" r="3.1"/><circle cx="111.7" cy="370.9" r="3.1"/><circle cx="111.7" cy="370.8" r="3.1"/><circle cx="172.2" cy="402.5" r="3.1"/><circle cx="119.9" cy="342" r="3.1"/><circle cx="129.1" cy="390.5" r="3.1"/><circle cx="111.7" cy="370.3" r="3.1"/><circle cx="111.7" cy="370.3" r="3.1"/><circle cx="139.3" cy="402.1" r="3.1"/><circle cx="119.9" cy="341.4" r="3.1"/><circle cx="168.9" cy="397.7" r="3.1"/><circle cx="168.9" cy="397.6" r="3.1"/><circle cx="111.6" cy="369.7" r="3.1"/><circle cx="168.9" cy="397.4" r="3.1"/><circle cx="111.6" cy="369.5" r="3.1"/><circle cx="216.1" cy="413.6" r="3.1"/><circle cx="139.3" cy="401.1" r="3.1"/><circle cx="119.9" cy="340.5" r="3.1"/><circle cx="111.6" cy="369.1" r="3.1"/><circle cx="338.3" cy="439.7" r="3.1"/><circle cx="129" cy="389" r="3.1"/><circle cx="129" cy="388.9" r="3.1"/><circle cx="129" cy="388.8" r="3.1"/><circle cx="111.6" cy="368.4" r="3.1"/><circle cx="253.7" cy="417.8" r="3.1"/><circle cx="168.8" cy="396.2" r="3.1"/><circle cx="119.9" cy="339.6" r="3.1"/><circle cx="129" cy="388" r="3.1"/><circle cx="172.2" cy="399.5" r="3.1"/><circle cx="214.5" cy="410.2" r="3.1"/><circle cx="298.9" cy="431.1" r="3.1"/><circle cx="129" cy="387.8" r="3.1"/><circle cx="180.2" cy="408.6" r="3.1"/><circle cx="111.6" cy="367.6" r="3.1"/><circle cx="139.2" cy="399.4" r="3.1"/><circle cx="111.6" cy="367.4" r="3.1"/><circle cx="129" cy="387.4" r="3.1"/><circle cx="172.1" cy="398.9" r="3.1"/><circle cx="111.5" cy="367" r="3.1"/><circle cx="119.8" cy="338.3" r="3.1"/><circle cx="111.5" cy="366.6" r="3.1"/><circle cx="119.8" cy="337.8" r="3.1"/><circle cx="129" cy="386.4" r="3.1"/><circle cx="175.1" cy="401.4" r="3.1"/><circle cx="217.5" cy="412.1" r="3.1"/><circle cx="172.1" cy="397.9" r="3.1"/><circle cx="111.5" cy="366.1" r="3.1"/><circle cx="218.9" cy="413.7" r="3.1"/><circle cx="146.4" cy="406.3" r="3.1"/><circle cx="139.2" cy="397.9" r="3.1"/><circle cx="175.1" cy="401.1" r="3.1"/><circle cx="172.1" cy="397.5" r="3.1"/><circle cx="218.9" cy="413.3" r="3.1"/><circle cx="111.5" cy="365.7" r="3.1"/><circle cx="119.8" cy="337" r="3.1"/><circle cx="259" cy="421.2" r="3.1"/><circle cx="128.9" cy="385.5" r="3.1"/><circle cx="139.1" cy="397.2" r="3.1"/><circle cx="139.1" cy="397.1" r="3.1"/><circle cx="139.1" cy="397" r="3.1"/><circle cx="222.1" cy="416.3" r="3.1"/><circle cx="259" cy="420.6" r="3.1"/><circle cx="119.7" cy="336.2" r="3.1"/><circle cx="261.4" cy="423.3" r="3.1"/><circle cx="177.7" cy="403" r="3.1"/><circle cx="128.9" cy="384.9" r="3.1"/><circle cx="177.7" cy="402.8" r="3.1"/><circle cx="146.3" cy="404.8" r="3.1"/><circle cx="111.4" cy="364.4" r="3.1"/><circle cx="177.7" cy="402.6" r="3.1"/><circle cx="180.1" cy="405.3" r="3.1"/><circle cx="139.1" cy="396.2" r="3.1"/><circle cx="139.1" cy="396.1" r="3.1"/><circle cx="180.1" cy="405.1" r="3.1"/><circle cx="139.1" cy="395.9" r="3.1"/><circle cx="128.9" cy="384.1" r="3.1"/><circle cx="180.1" cy="404.7" r="3.1"/><circle cx="111.4" cy="363.4" r="3.1"/><circle cx="305.4" cy="434.4" r="3.1"/><circle cx="177.7" cy="401.6" r="3.1"/><circle cx="128.9" cy="383.4" r="3.1"/><circle cx="119.7" cy="334.4" r="3.1"/><circle cx="262.8" cy="423" r="3.1"/><circle cx="139.1" cy="394.9" r="3.1"/><circle cx="146.3" cy="403.1" r="3.1"/><circle cx="139" cy="394.7" r="3.1"/><circle cx="146.3" cy="403" r="3.1"/><circle cx="111.4" cy="362.6" r="3.1"/><circle cx="128.8" cy="382.6" r="3.1"/><circle cx="224.9" cy="416.8" r="3.1"/><circle cx="139" cy="393.9" r="3.1"/><circle cx="139" cy="393.6" r="3.1"/><circle cx="111.3" cy="361.5" r="3.1"/><circle cx="119.6" cy="332.7" r="3.1"/><circle cx="350.2" cy="445.9" r="3.1"/><circle cx="146.2" cy="401" r="3.1"/><circle cx="268.1" cy="426.8" r="3.1"/><circle cx="180" cy="401.6" r="3.1"/><circle cx="111.3" cy="360.5" r="3.1"/><circle cx="146.2" cy="400.8" r="3.1"/><circle cx="128.8" cy="380.6" r="3.1"/><circle cx="186.1" cy="408.3" r="3.1"/><circle cx="111.3" cy="360.1" r="3.1"/><circle cx="146.2" cy="400.4" r="3.1"/><circle cx="119.5" cy="331" r="3.1"/><circle cx="138.9" cy="391.5" r="3.1"/><circle cx="111.2" cy="359.3" r="3.1"/><circle cx="111.2" cy="359.1" r="3.1"/><circle cx="312.1" cy="438" r="3.1"/><circle cx="111.2" cy="359.1" r="3.1"/><circle cx="128.7" cy="379" r="3.1"/><circle cx="111.2" cy="358.6" r="3.1"/><circle cx="146.2" cy="398.9" r="3.1"/><circle cx="146.2" cy="398.8" r="3.1"/><circle cx="138.9" cy="390.3" r="3.1"/><circle cx="232.2" cy="421.4" r="3.1"/><circle cx="396.3" cy="457.7" r="3.1"/><circle cx="270.2" cy="426.7" r="3.1"/><circle cx="189.4" cy="409.8" r="3.1"/><circle cx="138.9" cy="389.8" r="3.1"/><circle cx="272.4" cy="429" r="3.1"/><circle cx="189.4" cy="409.6" r="3.1"/><circle cx="111.2" cy="357.4" r="3.1"/><circle cx="146.1" cy="397.7" r="3.1"/><circle cx="232.2" cy="420.4" r="3.1"/><circle cx="128.6" cy="377.3" r="3.1"/><circle cx="111.2" cy="356.9" r="3.1"/><circle cx="119.4" cy="328.2" r="3.1"/><circle cx="192.3" cy="412.1" r="3.1"/><circle cx="440.5" cy="468.9" r="3.1"/><circle cx="151.7" cy="403.5" r="3.1"/><circle cx="146.1" cy="396.9" r="3.1"/><circle cx="111.1" cy="356.6" r="3.1"/><circle cx="138.8" cy="388.4" r="3.1"/><circle cx="236.6" cy="424.5" r="3.1"/></g><g fill-opacity=".92" stroke-opacity=".92"><circle cx="233" cy="420.2" r="3.1"/><circle cx="156.3" cy="408" r="3.1"/><circle cx="275.8" cy="431" r="3.1"/><circle cx="111.1" cy="355.7" r="3.1"/><circle cx="236.6" cy="423.9" r="3.1"/><circle cx="194.9" cy="414.1" r="3.1"/><circle cx="190.8" cy="409.3" r="3.1"/><circle cx="234.8" cy="421.7" r="3.1"/><circle cx="156.3" cy="407.2" r="3.1"/><circle cx="138.8" cy="387" r="3.1"/><circle cx="146" cy="395.3" r="3.1"/><circle cx="111.1" cy="354.8" r="3.1"/><circle cx="236.9" cy="423.4" r="3.1"/><circle cx="151.7" cy="401.4" r="3.1"/><circle cx="193.6" cy="411.4" r="3.1"/><circle cx="320.1" cy="442.2" r="3.1"/><circle cx="151.6" cy="400.7" r="3.1"/><circle cx="111" cy="353.8" r="3.1"/><circle cx="151.6" cy="400.2" r="3.1"/><circle cx="146" cy="393.7" r="3.1"/><circle cx="156.2" cy="405.2" r="3.1"/><circle cx="111" cy="352.9" r="3.1"/><circle cx="151.6" cy="399.6" r="3.1"/><circle cx="192.2" cy="407.9" r="3.1"/><circle cx="111" cy="352.2" r="3.1"/><circle cx="160.1" cy="408.8" r="3.1"/><circle cx="145.9" cy="392.1" r="3.1"/><circle cx="197.3" cy="413.1" r="3.1"/><circle cx="200.5" cy="416.8" r="3.1"/><circle cx="197.3" cy="412.8" r="3.1"/><circle cx="365.9" cy="453.9" r="3.1"/><circle cx="156.2" cy="403.3" r="3.1"/><circle cx="110.9" cy="351.1" r="3.1"/><circle cx="198.4" cy="413.7" r="3.1"/><circle cx="163.4" cy="411.4" r="3.1"/><circle cx="156.1" cy="402.7" r="3.1"/><circle cx="110.9" cy="350.4" r="3.1"/><circle cx="283.3" cy="434.3" r="3.1"/><circle cx="151.5" cy="397.1" r="3.1"/><circle cx="284.8" cy="435.8" r="3.1"/><circle cx="245" cy="427.8" r="3.1"/><circle cx="110.9" cy="349.5" r="3.1"/><circle cx="202.4" cy="416.7" r="3.1"/><circle cx="248.1" cy="430.9" r="3.1"/><circle cx="110.9" cy="348.8" r="3.1"/><circle cx="329" cy="447" r="3.1"/><circle cx="205" cy="418.9" r="3.1"/><circle cx="169" cy="415.1" r="3.1"/><circle cx="163.3" cy="407.9" r="3.1"/><circle cx="208.9" cy="422.1" r="3.1"/><circle cx="110.8" cy="346.8" r="3.1"/><circle cx="206.6" cy="419" r="3.1"/><circle cx="163.3" cy="407.2" r="3.1"/><circle cx="163.3" cy="406.7" r="3.1"/><circle cx="163.3" cy="406.6" r="3.1"/><circle cx="250.9" cy="431" r="3.1"/><circle cx="163.3" cy="406.4" r="3.1"/><circle cx="250.5" cy="430.2" r="3.1"/><circle cx="205.8" cy="416.8" r="3.1"/><circle cx="206.6" cy="417.4" r="3.1"/><circle cx="292" cy="439.2" r="3.1"/><circle cx="110.7" cy="345" r="3.1"/><circle cx="166.2" cy="409" r="3.1"/><circle cx="208.1" cy="418.8" r="3.1"/><circle cx="110.7" cy="344.6" r="3.1"/><circle cx="168.9" cy="411.7" r="3.1"/><circle cx="210.9" cy="421.5" r="3.1"/><circle cx="171.3" cy="414" r="3.1"/><circle cx="211.6" cy="422.1" r="3.1"/><circle cx="166.2" cy="407.8" r="3.1"/><circle cx="110.7" cy="343.6" r="3.1"/><circle cx="168.8" cy="410.5" r="3.1"/><circle cx="173.4" cy="415.7" r="3.1"/><circle cx="212.2" cy="421.5" r="3.1"/><circle cx="168.8" cy="409.3" r="3.1"/><circle cx="173.4" cy="413.6" r="3.1"/><circle cx="175.4" cy="415.8" r="3.1"/><circle cx="110.6" cy="340.8" r="3.1"/><circle cx="216.7" cy="425" r="3.1"/><circle cx="298.6" cy="442.6" r="3.1"/><circle cx="216.7" cy="424.1" r="3.1"/><circle cx="173.3" cy="412.3" r="3.1"/><circle cx="175.4" cy="414.4" r="3.1"/><circle cx="342.8" cy="453.8" r="3.1"/><circle cx="177.2" cy="416.1" r="3.1"/><circle cx="183.6" cy="423.3" r="3.1"/><circle cx="261.2" cy="435.8" r="3.1"/><circle cx="221.5" cy="427.4" r="3.1"/><circle cx="182.1" cy="420.1" r="3.1"/><circle cx="180.6" cy="418.2" r="3.1"/><circle cx="264.1" cy="437.6" r="3.1"/><circle cx="304.6" cy="446" r="3.1"/><circle cx="178.9" cy="415.7" r="3.1"/><circle cx="388.6" cy="465.5" r="3.1"/><circle cx="180.5" cy="416.4" r="3.1"/><circle cx="433" cy="476.8" r="3.1"/><circle cx="187.4" cy="423.4" r="3.1"/><circle cx="184.8" cy="420.4" r="3.1"/><circle cx="226.5" cy="430" r="3.1"/><circle cx="183.5" cy="418.6" r="3.1"/><circle cx="184.8" cy="419.8" r="3.1"/><circle cx="226.5" cy="429.4" r="3.1"/><circle cx="270" cy="440.4" r="3.1"/><circle cx="228.9" cy="431.3" r="3.1"/><circle cx="189.6" cy="423.7" r="3.1"/><circle cx="188.5" cy="422.4" r="3.1"/><circle cx="189.6" cy="423.1" r="3.1"/><circle cx="313.3" cy="450.4" r="3.1"/><circle cx="273.6" cy="442.6" r="3.1"/><circle cx="229.2" cy="429.3" r="3.1"/><circle cx="357.7" cy="461.7" r="3.1"/><circle cx="191.6" cy="422.8" r="3.1"/><circle cx="234.8" cy="433.7" r="3.1"/><circle cx="195.4" cy="426.6" r="3.1"/><circle cx="278.4" cy="445.3" r="3.1"/><circle cx="235.8" cy="434.6" r="3.1"/><circle cx="197.9" cy="428.2" r="3.1"/><circle cx="237.9" cy="435.9" r="3.1"/><circle cx="196.2" cy="425.5" r="3.1"/><circle cx="322.7" cy="455.4" r="3.1"/><circle cx="241.1" cy="437.6" r="3.1"/><circle cx="201.5" cy="429.7" r="3.1"/><circle cx="200.1" cy="427.7" r="3.1"/><circle cx="286.3" cy="449.1" r="3.1"/><circle cx="334.3" cy="461.5" r="3.1"/><circle cx="209" cy="432.5" r="3.1"/><circle cx="251.1" cy="442.2" r="3.1"/><circle cx="294.7" cy="453.3" r="3.1"/><circle cx="212.7" cy="435" r="3.1"/><circle cx="214.8" cy="437.3" r="3.1"/><circle cx="252.2" cy="441.8" r="3.1"/><circle cx="214.4" cy="436.6" r="3.1"/><circle cx="380.8" cy="473.5" r="3.1"/><circle cx="214.4" cy="435.1" r="3.1"/><circle cx="256.4" cy="444.7" r="3.1"/><circle cx="425.2" cy="484.7" r="3.1"/><circle cx="216.3" cy="435.2" r="3.1"/><circle cx="259.6" cy="446.6" r="3.1"/></g><g fill-opacity=".96" stroke-opacity=".96"><circle cx="302.9" cy="457.6" r="3.1"/><circle cx="219.8" cy="437.8" r="3.1"/><circle cx="222.9" cy="440.4" r="3.1"/><circle cx="225.6" cy="442.5" r="3.1"/><circle cx="349.7" cy="469.6" r="3.1"/><circle cx="265.5" cy="449.4" r="3.1"/><circle cx="226.1" cy="442" r="3.1"/><circle cx="269.8" cy="451.9" r="3.1"/><circle cx="313.2" cy="462.8" r="3.1"/><circle cx="273" cy="454.1" r="3.1"/><circle cx="237.9" cy="448.6" r="3.1"/><circle cx="236.2" cy="446.5" r="3.1"/><circle cx="237.9" cy="447.8" r="3.1"/><circle cx="280.9" cy="457.9" r="3.1"/><circle cx="327" cy="469.7" r="3.1"/><circle cx="244.5" cy="451.5" r="3.1"/><circle cx="287.2" cy="461.4" r="3.1"/><circle cx="247.7" cy="453.4" r="3.1"/><circle cx="372.9" cy="481.4" r="3.1"/><circle cx="250.5" cy="455.2" r="3.1"/><circle cx="417.4" cy="492.7" r="3.1"/><circle cx="296.1" cy="465.9" r="3.1"/><circle cx="258.3" cy="458.8" r="3.1"/><circle cx="342" cy="477.6" r="3.1"/><circle cx="305.5" cy="470.9" r="3.1"/><circle cx="265.2" cy="462.1" r="3.1"/><circle cx="269.2" cy="464.7" r="3.1"/><circle cx="317.4" cy="477.2" r="3.1"/><circle cx="278.1" cy="469" r="3.1"/><circle cx="365" cy="489.5" r="3.1"/><circle cx="409.5" cy="500.7" r="3.1"/><circle cx="286.8" cy="473.6" r="3.1"/><circle cx="333" cy="485.4" r="3.1"/><circle cx="297.8" cy="479.1" r="3.1"/></g><g fill-opacity="1" stroke-opacity="1"><circle cx="308.5" cy="485" r="3.1"/><circle cx="356.7" cy="497.5" r="3.1"/><circle cx="401.5" cy="508.8" r="3.1"/><circle cx="325.2" cy="493.6" r="3.1"/><circle cx="348.3" cy="505.5" r="3.1"/><circle cx="393.6" cy="517" r="3.1"/><circle cx="385.3" cy="525.2" r="3.1"/></g></g>
<rect x="485.3" y="17.3" width="134.59999999999997" height="46.099999999999994" rx="2.8" fill="#fff" fill-opacity=".8" stroke="#ccc" stroke-width="1.11"/><circle r="3.1" cx="504.2" cy="30.4" fill="#1f77b4" stroke="#1f77b4" stroke-width="1.0"/><circle r="3.1" cx="504.2" cy="51.5" fill="#ff7f0e" stroke="#ff7f0e" stroke-width="1.0"/>
<g opacity=".999"><text x="93" y="494.5" text-anchor="middle" textLength="8.8" lengthAdjust="spacingAndGlyphs">0</text>
<text x="126.6" y="505.5" text-anchor="middle" textLength="8.8" lengthAdjust="spacingAndGlyphs">2</text>
<text x="160.5" y="516.5" text-anchor="middle" textLength="8.8" lengthAdjust="spacingAndGlyphs">4</text>
<text x="194.8" y="527.7" text-anchor="middle" textLength="8.8" lengthAdjust="spacingAndGlyphs">6</text>
<text x="229.4" y="539" text-anchor="middle" textLength="8.8" lengthAdjust="spacingAndGlyphs">8</text>
<text x="264.4" y="550.4" text-anchor="middle" textLength="17.7" lengthAdjust="spacingAndGlyphs">10</text>
<text x="299.8" y="562" text-anchor="middle" textLength="17.7" lengthAdjust="spacingAndGlyphs">12</text>
<text x="335.6" y="573.6" text-anchor="middle" textLength="17.7" lengthAdjust="spacingAndGlyphs">14</text>
<text x="371.7" y="585.4" text-anchor="middle" textLength="17.7" lengthAdjust="spacingAndGlyphs">16</text>
<text x="422" y="574.4" text-anchor="middle" textLength="48.6" lengthAdjust="spacingAndGlyphs">0.2400</text>
<text x="442.2" y="553.7" text-anchor="middle" textLength="48.6" lengthAdjust="spacingAndGlyphs">0.2425</text>
<text x="462" y="533.4" text-anchor="middle" textLength="48.6" lengthAdjust="spacingAndGlyphs">0.2450</text>
<text x="481.5" y="513.5" text-anchor="middle" textLength="48.6" lengthAdjust="spacingAndGlyphs">0.2475</text>
<text x="500.6" y="493.9" text-anchor="middle" textLength="48.6" lengthAdjust="spacingAndGlyphs">0.2500</text>
<text x="519.3" y="474.7" text-anchor="middle" textLength="48.6" lengthAdjust="spacingAndGlyphs">0.2525</text>
<text x="537.7" y="455.9" text-anchor="middle" textLength="48.6" lengthAdjust="spacingAndGlyphs">0.2550</text>
<text x="555.7" y="437.4" text-anchor="middle" textLength="48.6" lengthAdjust="spacingAndGlyphs">0.2575</text>
<text x="584.9" y="383.7" text-anchor="middle" textLength="8.8" lengthAdjust="spacingAndGlyphs">0</text>
<text x="586.6" y="345.7" text-anchor="middle" textLength="8.8" lengthAdjust="spacingAndGlyphs">5</text>
<text x="588.4" y="307.2" text-anchor="middle" textLength="17.7" lengthAdjust="spacingAndGlyphs">10</text>
<text x="590.1" y="268.2" text-anchor="middle" textLength="17.7" lengthAdjust="spacingAndGlyphs">15</text>
<text x="591.9" y="228.6" text-anchor="middle" textLength="17.7" lengthAdjust="spacingAndGlyphs">20</text>
<text x="593.7" y="188.5" text-anchor="middle" textLength="17.7" lengthAdjust="spacingAndGlyphs">25</text>
<text x="215.1" y="554.1" text-anchor="middle" textLength="127" lengthAdjust="spacingAndGlyphs" transform="rotate(17.9 215.1 550.5)">log2 num_clusters</text>
<text x="515" y="509.2" text-anchor="middle" textLength="74.1" lengthAdjust="spacingAndGlyphs" transform="rotate(-45.3 515 505.6)">probability</text>
<text x="615.4" y="275.8" text-anchor="middle" textLength="61.4" lengthAdjust="spacingAndGlyphs" transform="rotate(-87.6 615.4 272.2)">log2 size</text>
<text x="529.4" y="34.2" text-anchor="start" textLength="77" lengthAdjust="spacingAndGlyphs">terminated</text>
<text x="529.4" y="54.9" text-anchor="start" textLength="84.2" lengthAdjust="spacingAndGlyphs">still growing</text></g>
</svg></body></html>
